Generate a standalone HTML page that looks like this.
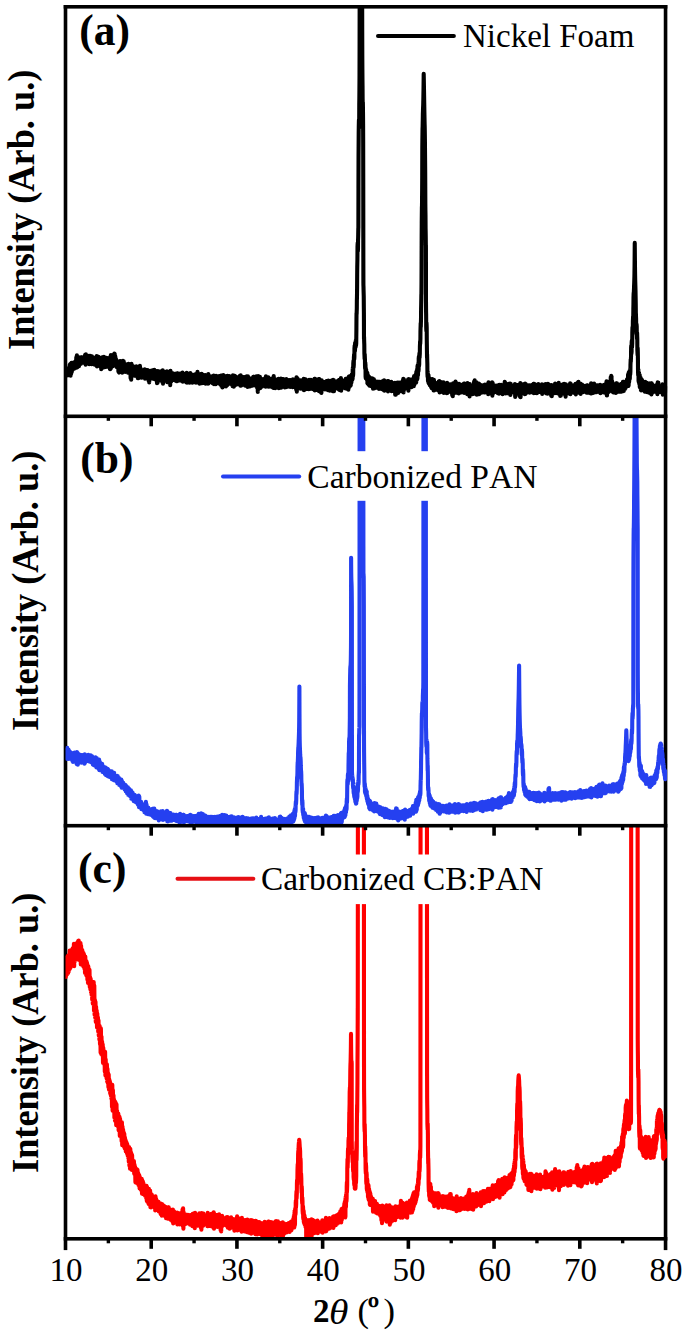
<!DOCTYPE html>
<html lang="en"><head><meta charset="utf-8"><title>XRD patterns</title>
<style>
html,body{margin:0;padding:0;background:#fff;}
body{width:685px;height:1334px;position:relative;overflow:hidden;font-family:"Liberation Serif",serif;color:#000;}
.t{position:absolute;white-space:nowrap;line-height:1;margin:0;padding:0;font-kerning:none;font-variant-ligatures:none;}
.tick{font-size:33px;transform:translateX(-50%);top:1253.5px;}
.leg{font-size:33px;}
.pl{font-size:43.5px;font-weight:bold;}
.yl{font-size:36.3px;font-weight:bold;transform-origin:0 0;transform:rotate(-90deg) scaleY(1.06);}
</style></head><body>
<svg width="685" height="1334" viewBox="0 0 685 1334" style="position:absolute;left:0;top:0;display:block">
<defs>
<clipPath id="ca"><rect x="65.5" y="6.8" width="601.8" height="409.5"/></clipPath>
<clipPath id="cb"><rect x="65.5" y="416.3" width="601.8" height="409.40000000000003"/></clipPath>
<clipPath id="cc"><rect x="65.5" y="825.7" width="601.8" height="413.0999999999999"/></clipPath>
</defs>
<rect width="685" height="1334" fill="#fff"/>
<g fill="#000">
<rect x="63.70" y="5.00" width="3.6" height="1245.10"/>
<rect x="663.75" y="5.00" width="3.6" height="1245.10"/>
</g>
<g clip-path="url(#ca)"><polyline fill="none" stroke-width="4.1" stroke-linejoin="round" stroke-linecap="butt" stroke="#000" points="65.50,370.9 65.80,375.5 66.10,370.5 66.40,375.5 66.70,369.5 67.00,375.5 67.30,369.4 67.60,374.0 67.90,368.4 68.20,373.8 68.50,368.0 68.80,373.4 69.10,367.7 69.40,373.4 69.70,364.9 70.00,375.4 70.30,364.1 70.60,375.6 70.90,363.6 71.20,373.7 71.50,362.9 71.80,371.9 72.10,364.1 72.40,370.2 72.70,364.7 73.00,368.5 73.30,363.4 73.60,368.7 73.90,362.3 74.20,368.7 74.50,362.1 74.80,367.0 75.10,361.8 75.40,367.2 75.70,361.0 76.00,366.5 76.30,357.3 76.60,367.6 76.90,355.3 77.20,367.3 77.50,359.5 77.80,364.8 78.10,358.5 78.40,366.4 78.70,357.4 79.00,366.2 79.30,358.0 79.60,364.2 79.90,357.5 80.20,364.1 80.50,358.1 80.80,363.8 81.10,357.4 81.40,362.9 81.70,357.2 82.00,363.0 82.30,357.6 82.60,362.2 82.90,357.2 83.20,362.4 83.50,357.5 83.80,362.6 84.10,356.9 84.40,362.9 84.70,355.8 85.00,363.0 85.30,354.6 85.60,364.7 85.90,354.3 86.20,362.6 86.50,356.3 86.80,362.1 87.10,357.4 87.40,362.1 87.70,356.7 88.00,362.0 88.30,356.9 88.60,361.8 88.90,355.8 89.20,364.1 89.50,356.2 89.80,363.1 90.10,355.7 90.40,364.0 90.70,357.4 91.00,362.3 91.30,357.4 91.60,364.2 91.90,356.4 92.20,363.7 92.50,357.2 92.80,363.1 93.10,358.3 93.40,364.1 93.70,358.7 94.00,363.2 94.30,358.6 94.60,364.6 94.90,357.5 95.20,364.3 95.50,358.8 95.80,364.2 96.10,358.7 96.40,365.0 96.70,356.1 97.00,366.5 97.30,358.3 97.60,363.7 97.90,359.1 98.20,366.0 98.50,356.8 98.80,364.8 99.10,359.5 99.40,364.6 99.70,358.7 100.00,364.7 100.30,359.1 100.60,364.7 100.90,358.4 101.20,369.3 101.50,358.6 101.80,368.4 102.10,357.2 102.40,367.1 102.70,357.7 103.00,365.4 103.30,360.1 103.60,366.7 103.90,356.9 104.20,367.3 104.50,357.8 104.80,367.2 105.10,360.1 105.40,365.8 105.50,358.5 105.58,358.5 105.66,358.5 105.70,358.5 105.74,358.5 105.82,366.9 105.90,366.9 105.98,367.0 106.00,367.0 106.06,357.7 106.14,357.7 106.22,357.7 106.30,357.7 106.38,366.2 106.46,366.2 106.54,366.2 106.60,366.2 106.62,366.2 106.70,359.5 106.78,359.5 106.86,359.5 106.90,359.5 106.94,359.5 107.02,366.5 107.10,366.5 107.18,366.5 107.20,366.5 107.26,359.1 107.34,359.1 107.42,359.1 107.50,359.1 107.58,366.7 107.66,366.7 107.74,366.7 107.80,366.7 107.82,366.7 107.90,358.4 107.98,358.4 108.06,358.4 108.10,358.4 108.14,358.4 108.22,365.3 108.30,365.3 108.38,365.3 108.40,365.3 108.46,359.6 108.54,359.6 108.62,359.6 108.70,359.6 108.78,365.7 108.86,365.7 108.94,365.7 109.00,365.7 109.02,365.7 109.10,360.5 109.18,360.5 109.26,360.5 109.30,360.5 109.34,360.5 109.42,365.8 109.50,365.8 109.58,365.8 109.60,365.8 109.66,358.4 109.74,358.4 109.82,358.4 109.90,358.4 109.98,369.1 110.06,369.2 110.14,369.2 110.20,369.2 110.22,369.2 110.30,356.8 110.38,356.8 110.46,356.8 110.50,356.8 110.54,356.8 110.62,368.5 110.70,368.5 110.78,368.5 110.80,368.5 110.86,355.1 110.94,355.1 111.02,355.1 111.10,355.1 111.18,366.6 111.26,366.6 111.34,366.6 111.40,366.6 111.42,366.6 111.50,355.7 111.58,355.7 111.66,355.7 111.70,355.7 111.74,355.7 111.82,366.8 111.90,366.8 111.98,366.8 112.00,366.8 112.06,359.6 112.14,359.5 112.22,359.5 112.30,359.4 112.38,365.3 112.46,365.2 112.54,365.1 112.60,365.0 112.62,364.9 112.70,359.9 112.78,359.8 112.86,359.6 112.90,359.5 112.94,359.4 113.02,366.1 113.10,365.9 113.18,365.7 113.20,365.6 113.26,356.4 113.34,356.2 113.42,356.0 113.50,355.7 113.58,363.9 113.66,363.7 113.74,363.4 113.80,363.2 113.82,363.2 113.90,354.6 113.98,354.4 114.06,354.1 114.10,354.0 114.14,353.9 114.22,361.3 114.30,361.1 114.38,360.9 114.40,360.8 114.46,353.7 114.50,353.6 114.54,353.7 114.62,353.9 114.70,354.1 114.78,362.7 114.86,362.9 114.94,363.2 115.00,363.4 115.02,363.5 115.10,355.9 115.18,356.2 115.26,356.5 115.30,356.6 115.34,356.8 115.42,364.3 115.50,364.6 115.58,364.8 115.60,364.9 115.66,358.4 115.74,358.7 115.82,358.9 115.90,359.2 115.98,365.3 116.06,365.6 116.14,365.8 116.20,365.9 116.22,366.0 116.30,359.9 116.38,360.1 116.46,360.2 116.50,360.3 116.54,360.4 116.62,367.1 116.70,367.2 116.78,367.3 116.80,367.3 116.86,361.5 116.94,361.6 117.02,361.7 117.10,361.7 117.18,366.4 117.26,366.5 117.34,366.5 117.40,366.5 117.42,366.5 117.50,362.4 117.58,362.4 117.66,362.5 117.70,362.5 117.74,362.5 117.82,367.2 117.90,367.3 117.98,367.3 118.00,367.3 118.06,361.9 118.14,361.9 118.22,361.9 118.30,362.0 118.38,371.6 118.46,371.6 118.54,371.6 118.60,371.6 118.62,371.6 118.70,361.7 118.78,361.7 118.86,361.7 118.90,361.7 118.94,361.8 119.02,372.5 119.10,372.5 119.18,372.5 119.20,372.6 119.26,361.3 119.34,361.3 119.42,361.4 119.50,361.4 119.58,369.9 119.66,369.9 119.74,370.0 119.80,370.0 119.82,370.0 119.90,361.1 119.98,361.1 120.06,361.1 120.10,361.1 120.14,361.2 120.22,369.2 120.30,369.3 120.38,369.3 120.40,369.3 120.46,362.8 120.54,362.8 120.62,362.9 120.70,362.9 120.78,368.0 120.86,368.1 120.94,368.1 121.00,368.1 121.02,368.1 121.10,363.7 121.18,363.7 121.26,363.7 121.30,363.8 121.34,363.8 121.42,371.6 121.50,371.6 121.58,371.6 121.60,371.6 121.66,363.0 121.74,363.0 121.82,363.0 121.90,363.1 121.98,372.6 122.06,372.6 122.14,372.7 122.20,372.7 122.22,372.7 122.30,363.8 122.38,363.9 122.46,363.9 122.50,363.9 122.54,363.9 122.62,369.1 122.70,369.2 122.78,369.2 122.80,369.2 122.86,360.8 122.94,360.8 123.02,360.8 123.10,360.9 123.18,369.3 123.26,369.4 123.34,369.4 123.40,369.4 123.42,369.4 123.70,361.3 124.00,369.7 124.30,363.7 124.60,371.6 124.90,363.8 125.20,371.9 125.50,364.1 125.80,371.1 126.10,365.7 126.40,371.0 126.70,364.5 127.00,371.5 127.30,365.3 127.60,371.0 127.90,365.3 128.20,372.8 128.50,363.9 128.80,372.3 129.10,366.0 129.40,371.6 129.70,365.7 130.00,373.1 130.30,364.9 130.60,378.1 130.90,364.0 131.20,379.6 131.50,363.7 131.80,375.0 132.10,366.6 132.40,373.1 132.70,365.8 133.00,374.4 133.30,366.8 133.60,373.4 133.90,367.1 134.20,375.6 134.50,368.5 134.80,373.3 135.10,368.4 135.40,374.0 135.70,367.5 136.00,376.0 136.30,366.4 136.60,374.9 136.90,368.5 137.20,375.4 137.50,366.7 137.80,378.1 138.10,367.8 138.40,378.3 138.70,368.0 139.00,376.1 139.30,368.1 139.60,377.7 139.90,365.8 140.20,377.2 140.50,368.4 140.80,376.1 141.10,369.2 141.40,377.8 141.70,370.1 142.00,375.7 142.30,371.1 142.60,375.6 142.90,370.8 143.20,375.6 143.50,370.5 143.80,375.5 144.10,370.4 144.40,377.1 144.70,369.3 145.00,378.8 145.30,369.8 145.60,376.8 145.90,369.8 146.20,376.8 146.50,370.6 146.80,377.6 147.10,370.9 147.40,378.2 147.70,370.0 148.00,377.5 148.30,371.8 148.60,380.6 148.90,371.5 149.20,382.4 149.50,371.0 149.80,377.1 150.10,372.2 150.40,378.3 150.70,370.9 151.00,377.8 151.30,371.8 151.60,378.3 151.90,371.5 152.20,378.3 152.50,370.2 152.80,378.8 153.10,371.2 153.40,378.4 153.70,372.1 154.00,378.9 154.30,369.8 154.60,379.2 154.90,372.1 155.20,379.2 155.50,371.5 155.80,379.8 156.10,371.1 156.40,377.8 156.70,372.6 157.00,383.1 157.30,371.6 157.60,382.7 157.90,371.0 158.20,378.8 158.50,372.4 158.80,378.3 159.10,372.2 159.40,378.8 159.70,373.1 160.00,378.4 160.30,371.6 160.60,380.5 160.90,371.8 161.20,379.6 161.50,371.4 161.80,380.3 162.10,372.2 162.40,382.2 162.70,370.2 163.00,383.7 163.30,371.5 163.60,379.9 163.90,372.2 164.20,380.0 164.50,371.7 164.80,379.8 165.10,372.2 165.40,380.1 165.70,372.9 166.00,378.5 166.30,371.8 166.60,381.2 166.90,371.2 167.20,382.1 167.50,372.8 167.80,378.6 168.10,372.5 168.40,381.0 168.70,374.0 169.00,379.1 169.30,371.7 169.60,382.6 169.90,372.8 170.20,385.3 170.50,370.7 170.80,380.3 171.10,373.7 171.40,381.1 171.70,372.8 172.00,378.8 172.30,373.4 172.60,379.7 172.90,374.3 173.20,380.0 173.50,373.6 173.80,379.2 174.10,374.2 174.40,379.7 174.70,374.1 175.00,379.4 175.30,373.8 175.60,380.6 175.90,374.1 176.20,379.4 176.50,373.5 176.80,381.3 177.10,373.2 177.40,381.0 177.70,373.2 178.00,379.8 178.30,374.1 178.60,379.5 178.90,375.2 179.20,379.9 179.50,373.8 179.80,380.4 180.10,373.8 180.40,379.5 180.70,373.6 181.00,380.7 181.30,374.4 181.60,379.8 181.90,374.8 182.20,381.0 182.50,372.5 182.80,381.6 183.10,373.4 183.40,380.0 183.70,374.0 184.00,379.8 184.30,374.6 184.60,380.7 184.90,374.5 185.20,380.3 185.50,374.5 185.80,381.3 186.10,374.0 186.40,382.4 186.70,372.7 187.00,382.6 187.30,374.3 187.60,381.8 187.90,375.6 188.20,380.1 188.50,375.3 188.80,380.8 189.10,374.3 189.40,382.6 189.70,373.5 190.00,382.3 190.30,373.0 190.60,382.5 190.90,374.0 191.20,382.4 191.50,375.6 191.80,381.0 192.10,374.5 192.40,382.6 192.70,375.3 193.00,380.7 193.30,375.2 193.60,382.1 193.90,375.7 194.20,381.0 194.50,374.7 194.80,382.2 195.10,374.3 195.40,382.5 195.70,375.0 196.00,382.6 196.30,374.8 196.60,381.7 196.90,376.2 197.20,382.5 197.50,371.9 197.80,381.1 198.10,373.9 198.40,381.9 198.70,375.5 199.00,381.9 199.30,374.1 199.60,383.6 199.90,374.5 200.20,381.0 200.50,376.1 200.80,382.9 201.10,375.9 201.40,381.8 201.70,373.7 202.00,383.2 202.30,376.1 202.60,382.4 202.90,374.9 203.20,381.5 203.50,376.2 203.80,382.9 204.10,375.2 204.40,382.9 204.70,376.0 205.00,382.1 205.30,375.0 205.60,383.7 205.90,376.3 206.20,382.6 206.50,375.8 206.80,382.8 207.10,377.2 207.40,381.3 207.70,376.6 208.00,383.7 208.30,374.1 208.60,383.4 208.90,375.3 209.20,382.2 209.50,376.3 209.80,382.1 210.10,377.0 210.40,381.8 210.70,377.0 211.00,382.0 211.30,376.6 211.60,381.7 211.90,377.4 212.20,382.7 212.50,376.4 212.80,383.3 213.10,377.2 213.40,382.7 213.70,375.5 214.00,384.1 214.30,376.0 214.60,382.6 214.90,377.8 215.20,382.2 215.50,376.6 215.80,384.1 216.10,375.7 216.40,383.5 216.70,376.2 217.00,382.3 217.30,377.2 217.60,382.2 217.90,377.0 218.20,382.3 218.50,377.2 218.80,382.9 219.10,376.1 219.40,382.8 219.70,377.2 220.00,384.2 220.30,375.9 220.60,382.6 220.90,375.9 221.20,385.7 221.50,375.6 221.80,382.8 222.10,377.3 222.40,387.4 222.70,377.4 223.00,386.8 223.30,375.1 223.60,384.3 223.90,376.9 224.20,382.1 224.50,377.2 224.80,383.5 225.10,376.4 225.40,385.0 225.70,376.4 226.00,386.4 226.30,376.8 226.60,382.7 226.90,377.1 227.20,385.2 227.50,375.8 227.80,384.1 228.10,377.3 228.40,383.5 228.70,377.2 229.00,383.8 229.30,376.0 229.60,383.3 229.90,378.5 230.20,382.6 230.50,377.2 230.80,383.9 231.10,377.6 231.40,383.4 231.70,376.7 232.00,384.8 232.30,376.4 232.60,386.1 232.90,375.3 233.20,386.2 233.50,375.9 233.80,386.8 234.10,376.4 234.40,385.7 234.70,375.8 235.00,385.2 235.30,376.4 235.60,383.3 235.90,378.0 236.20,384.7 236.50,377.1 236.80,384.3 237.10,378.8 237.40,383.8 237.70,378.4 238.00,383.6 238.30,378.2 238.60,384.3 238.90,378.6 239.20,383.6 239.50,376.3 239.80,384.6 240.10,375.5 240.40,385.8 240.70,375.4 241.00,385.6 241.30,377.8 241.60,385.2 241.90,377.4 242.20,384.5 242.50,378.4 242.80,384.8 243.10,377.1 243.40,384.8 243.70,378.5 244.00,383.4 244.30,379.0 244.60,384.7 244.90,377.1 245.20,385.8 245.50,377.2 245.80,385.3 246.10,378.2 246.40,385.0 246.70,376.4 247.00,385.9 247.30,377.0 247.60,387.0 247.90,376.2 248.20,384.8 248.50,377.4 248.80,385.4 249.10,378.3 249.40,384.9 249.70,378.6 250.00,386.5 250.30,378.6 250.60,384.7 250.90,379.0 251.20,385.3 251.50,378.8 251.80,384.1 252.10,379.8 252.40,385.7 252.70,377.8 253.00,383.9 253.30,376.9 253.60,384.9 253.90,376.8 254.20,383.9 254.50,379.3 254.80,384.2 255.10,378.0 255.40,385.1 255.70,379.3 256.00,385.9 256.30,376.4 256.60,387.0 256.90,379.1 257.20,386.7 257.50,377.2 257.80,391.9 258.10,376.0 258.40,388.5 258.70,377.6 259.00,387.8 259.30,378.7 259.60,385.9 259.90,376.8 260.20,388.1 260.50,378.3 260.80,384.7 261.10,378.9 261.40,384.9 261.70,380.3 262.00,386.7 262.30,379.7 262.60,384.4 262.90,379.2 263.20,385.4 263.50,379.7 263.80,384.7 264.10,379.0 264.40,385.8 264.70,379.9 265.00,385.5 265.30,378.0 265.60,386.7 265.90,376.2 266.20,385.9 266.50,378.6 266.80,385.2 267.10,380.5 267.40,385.7 267.70,380.2 268.00,385.6 268.30,377.4 268.60,386.8 268.90,379.8 269.20,385.4 269.50,379.4 269.80,386.2 270.10,380.0 270.40,386.1 270.70,378.8 271.00,386.7 271.30,380.0 271.60,386.4 271.90,379.0 272.20,386.1 272.50,378.8 272.80,387.4 273.10,377.7 273.40,388.0 273.70,376.1 274.00,386.5 274.30,379.6 274.60,385.7 274.90,379.7 275.20,388.1 275.50,379.7 275.80,387.6 276.10,379.6 276.40,387.0 276.70,380.0 277.00,386.1 277.30,380.8 277.60,385.6 277.90,380.2 278.20,386.5 278.50,378.9 278.80,388.2 279.10,379.0 279.40,386.2 279.70,379.5 280.00,386.4 280.30,379.9 280.60,387.2 280.90,378.5 281.20,387.7 281.50,379.2 281.80,386.5 282.10,379.4 282.40,385.5 282.70,380.7 283.00,386.5 283.30,379.1 283.60,386.1 283.90,380.8 284.20,386.2 284.50,379.8 284.80,387.4 285.10,379.6 285.40,386.8 285.70,380.3 286.00,387.1 286.30,379.0 286.60,386.8 286.90,380.6 287.20,386.1 287.50,380.6 287.80,386.7 288.10,380.1 288.40,386.1 288.70,380.9 289.00,386.2 289.30,380.0 289.60,385.9 289.90,380.7 290.20,387.0 290.50,380.1 290.80,385.8 291.10,381.1 291.40,386.6 291.70,380.8 292.00,386.7 292.30,380.9 292.60,387.1 292.90,379.4 293.20,386.6 293.50,380.5 293.80,387.0 294.10,381.5 294.40,386.7 294.70,380.7 295.00,385.8 295.30,381.5 295.60,386.1 295.90,379.6 296.20,389.7 296.50,377.3 296.80,391.7 297.10,378.0 297.40,388.5 297.70,378.7 298.00,387.2 298.30,380.0 298.60,386.4 298.90,381.5 299.20,387.4 299.50,380.9 299.80,387.0 300.10,380.7 300.40,388.6 300.70,380.2 301.00,387.3 301.30,381.2 301.60,386.2 301.90,380.3 302.20,386.6 302.50,380.6 302.80,388.6 303.10,381.5 303.40,389.8 303.70,378.8 304.00,390.1 304.30,380.4 304.60,387.7 304.90,379.7 305.20,389.2 305.50,379.3 305.80,389.3 306.10,380.0 306.40,387.2 306.70,381.8 307.00,387.6 307.30,381.8 307.60,386.4 307.90,381.5 308.20,388.1 308.50,381.5 308.80,389.1 309.10,379.7 309.40,387.8 309.70,381.3 310.00,389.0 310.30,380.0 310.60,388.5 310.90,379.7 311.20,387.7 311.50,382.2 311.80,387.6 312.10,380.4 312.40,388.9 312.70,381.8 313.00,387.2 313.30,380.7 313.60,388.7 313.90,380.1 314.20,389.7 314.50,378.7 314.80,390.5 315.10,378.7 315.40,390.3 315.70,379.6 316.00,389.7 316.30,379.7 316.60,389.9 316.90,380.8 317.20,387.8 317.50,382.4 317.80,387.2 318.10,381.4 318.40,388.3 318.70,379.0 319.00,391.3 319.30,379.0 319.60,390.3 319.90,381.5 320.20,388.1 320.50,382.7 320.80,392.3 321.10,382.2 321.40,393.0 321.70,380.3 322.00,389.6 322.30,381.7 322.60,388.3 322.90,382.2 323.20,388.7 323.50,382.9 323.80,388.1 324.10,382.7 324.40,389.0 324.70,382.1 325.00,389.5 325.30,382.3 325.60,388.9 325.90,382.2 326.20,389.2 326.50,381.0 326.80,389.0 327.10,383.0 327.40,389.6 327.70,382.0 328.00,390.1 328.30,380.6 328.60,390.2 328.90,381.4 329.20,387.8 329.50,381.3 329.80,390.7 330.10,381.2 330.40,387.7 330.70,381.6 331.00,389.9 331.30,381.1 331.60,388.8 331.90,380.3 332.20,390.4 332.50,380.0 332.80,391.2 333.10,379.7 333.40,391.3 333.70,380.0 334.00,391.1 334.30,381.3 334.60,388.0 334.90,381.8 335.20,388.8 335.50,381.5 335.80,387.9 336.10,381.8 336.40,387.3 336.70,382.8 337.00,387.8 337.30,382.2 337.60,387.1 337.90,380.7 338.20,388.1 338.50,380.7 338.80,389.4 339.10,379.9 339.40,390.0 339.70,380.1 340.00,388.2 340.30,380.9 340.60,389.6 340.90,378.1 341.20,390.8 341.50,379.8 341.80,387.8 342.10,381.7 342.40,387.5 342.70,380.9 343.00,387.7 343.30,381.5 343.60,387.1 343.90,380.6 344.20,387.5 344.50,380.9 344.80,386.1 345.10,380.1 345.40,388.4 345.70,378.9 346.00,388.5 346.30,378.8 346.60,386.1 346.90,380.4 347.20,387.4 347.50,380.5 347.80,389.3 348.10,379.7 348.40,389.6 348.70,376.8 349.00,387.5 349.30,376.3 349.60,386.3 349.90,377.1 350.20,386.0 350.50,376.6 350.80,385.3 351.10,376.6 351.40,382.6 351.70,374.6 351.90,380.3 351.98,380.0 352.00,379.9 352.06,375.0 352.14,374.7 352.22,374.4 352.30,374.0 352.38,379.6 352.46,379.2 352.54,378.8 352.60,378.5 352.62,378.3 352.70,369.2 352.78,368.7 352.86,368.0 352.90,367.6 352.94,367.2 353.02,376.0 353.10,375.1 353.18,374.1 353.20,373.9 353.26,363.7 353.34,362.7 353.42,361.6 353.50,360.6 353.58,367.6 353.66,366.6 353.74,365.6 353.80,364.8 353.82,364.5 353.90,357.5 353.98,356.4 354.06,355.3 354.10,354.7 354.14,354.2 354.22,359.4 354.30,358.3 354.38,357.1 354.40,356.9 354.46,348.4 354.54,347.4 354.62,346.4 354.70,345.5 354.78,351.6 354.86,350.9 354.94,350.4 355.00,350.0 355.02,349.9 355.10,343.5 355.18,343.2 355.26,342.9 355.30,342.8 355.34,342.6 355.42,347.4 355.50,347.2 355.58,347.0 355.60,346.9 355.66,341.3 355.74,341.0 355.82,340.6 355.90,340.2 355.98,345.7 356.06,345.1 356.14,344.3 356.20,343.6 356.22,343.4 356.30,337.0 356.38,330.8 356.46,319.5 356.50,315.4 356.54,313.1 356.62,314.3 356.70,311.6 356.78,309.4 356.80,308.9 356.86,300.9 356.94,298.1 357.02,294.0 357.10,287.6 357.18,274.4 357.26,267.1 357.34,262.7 357.40,260.0 357.42,259.3 357.50,246.8 357.58,245.0 357.66,243.6 357.70,243.1 357.74,242.6 357.82,251.3 357.90,250.3 357.98,249.1 358.00,248.7 358.06,240.2 358.14,237.7 358.22,234.1 358.30,229.2 358.38,227.7 358.46,187.4 358.54,155.8 358.60,148.1 358.62,145.9 358.70,132.2 358.78,126.7 358.86,122.7 358.90,121.1 358.94,119.8 359.02,128.1 359.10,125.8 359.18,122.8 359.20,121.9 359.26,104.8 359.34,98.7 359.42,89.9 359.50,77.6 359.58,47.1 359.66,-5.7 359.74,-41.5 359.80,-53.2 359.82,-53.2 359.90,-53.2 359.98,-53.2 360.06,-53.2 360.10,-53.2 360.14,-53.2 360.22,-53.2 360.30,-53.2 360.38,-53.2 360.40,-53.2 360.46,-53.2 360.54,-53.2 360.62,-53.2 360.70,-53.2 360.78,-53.2 360.86,-53.2 360.90,-53.2 360.94,-53.2 361.00,-53.2 361.02,-53.2 361.10,-53.2 361.18,-53.2 361.26,-53.2 361.30,-53.2 361.34,-53.2 361.42,-53.2 361.50,-53.2 361.58,-53.2 361.60,-53.2 361.66,-53.2 361.74,-53.2 361.82,-53.2 361.90,-53.2 361.98,-53.2 362.06,-39.0 362.14,-8.1 362.20,19.6 362.22,30.4 362.30,56.1 362.38,69.6 362.46,79.2 362.50,82.8 362.54,85.9 362.62,98.5 362.70,102.3 362.78,106.0 362.80,106.9 362.86,102.2 362.94,107.5 363.02,114.7 363.10,124.2 363.18,142.6 363.26,186.8 363.34,257.8 363.40,282.4 363.42,285.0 363.50,286.9 363.58,290.9 363.66,293.6 363.70,294.9 363.74,296.4 363.82,306.5 363.90,313.4 363.98,336.1 364.00,339.1 364.06,336.7 364.14,340.4 364.22,342.9 364.30,344.7 364.38,353.5 364.46,355.0 364.54,356.8 364.60,358.4 364.62,358.9 364.70,354.0 364.78,355.9 364.86,357.6 364.90,358.5 364.94,359.2 365.02,366.3 365.10,367.5 365.18,368.6 365.20,368.8 365.26,362.4 365.34,363.4 365.42,364.3 365.50,365.1 365.58,376.5 365.66,377.2 365.74,377.9 365.80,378.3 365.82,378.4 365.90,368.4 365.98,368.9 366.06,369.3 366.10,369.5 366.14,369.7 366.22,376.8 366.30,377.1 366.38,377.5 366.40,377.5 366.46,373.2 366.54,373.5 366.62,373.8 366.70,374.0 366.78,379.1 366.86,379.4 366.94,379.6 367.00,379.8 367.02,379.8 367.10,372.5 367.18,372.7 367.26,372.9 367.30,373.0 367.34,373.1 367.42,383.2 367.50,383.4 367.58,383.6 367.60,383.6 367.66,374.8 367.74,374.9 367.82,375.0 367.90,375.2 367.98,383.8 368.06,383.9 368.14,384.1 368.20,384.2 368.22,384.2 368.30,376.9 368.38,377.0 368.46,377.1 368.50,377.2 368.54,377.2 368.62,383.2 368.70,383.3 368.78,383.4 368.80,383.4 368.86,376.6 368.94,376.7 369.02,376.8 369.10,376.9 369.18,385.4 369.26,385.4 369.34,385.5 369.40,385.6 369.42,385.6 369.50,377.7 369.58,377.8 369.66,377.8 369.70,377.9 369.74,377.9 369.82,385.5 370.00,385.6 370.30,379.3 370.60,385.2 370.90,380.3 371.20,386.1 371.50,378.3 371.80,386.0 372.10,380.9 372.40,385.6 372.70,378.6 373.00,388.7 373.30,379.4 373.60,386.2 373.90,379.2 374.20,388.4 374.50,381.0 374.80,386.4 375.10,381.9 375.40,387.5 375.70,381.5 376.00,386.8 376.30,382.2 376.60,387.0 376.90,381.6 377.20,387.8 377.50,382.4 377.80,387.7 378.10,382.5 378.40,388.0 378.70,381.7 379.00,388.9 379.30,381.8 379.60,387.6 379.90,382.5 380.20,387.6 380.50,383.2 380.80,388.1 381.10,382.3 381.40,388.8 381.70,381.6 382.00,389.2 382.30,382.6 382.60,388.7 382.90,383.3 383.20,389.2 383.50,380.9 383.80,390.1 384.10,380.3 384.40,390.8 384.70,380.7 385.00,389.1 385.30,383.2 385.60,388.7 385.90,384.0 386.20,388.4 386.50,383.1 386.80,388.3 387.10,384.0 387.40,390.2 387.70,381.1 388.00,391.5 388.30,381.1 388.60,389.9 388.90,383.9 389.20,389.2 389.50,381.8 389.80,389.8 390.10,383.2 390.40,389.5 390.70,384.5 391.00,389.3 391.30,381.7 391.60,391.1 391.90,383.2 392.20,389.7 392.50,383.1 392.80,389.7 393.10,383.6 393.40,389.7 393.70,383.4 394.00,389.4 394.30,384.6 394.60,390.6 394.90,382.8 395.20,394.8 395.50,383.0 395.80,394.6 396.10,383.8 396.40,389.9 396.70,384.0 397.00,393.4 397.30,382.6 397.60,392.5 397.90,382.8 398.20,393.0 398.50,383.6 398.80,391.9 399.10,382.5 399.40,389.9 399.70,383.1 400.00,388.4 400.30,383.0 400.60,388.7 400.90,383.1 401.20,389.3 401.50,382.4 401.80,391.2 402.10,382.1 402.40,388.6 402.70,380.9 403.00,392.0 403.30,378.8 403.60,392.4 403.90,379.4 404.20,389.4 404.50,383.0 404.80,387.9 405.10,382.7 405.40,388.3 405.70,382.4 406.00,387.7 406.30,382.8 406.60,387.8 406.90,382.0 407.20,387.3 407.50,381.5 407.80,387.6 408.10,379.4 408.40,390.6 408.70,379.1 409.00,387.9 409.30,381.3 409.60,386.2 409.90,379.7 410.20,386.3 410.50,379.9 410.80,385.7 411.10,379.9 411.40,387.2 411.70,379.6 412.00,386.0 412.30,379.5 412.60,385.0 412.90,379.4 413.20,384.6 413.50,378.0 413.80,386.3 414.10,376.1 414.40,384.7 414.70,377.1 414.78,383.3 414.86,383.2 414.94,383.1 415.00,383.0 415.02,383.0 415.10,376.9 415.18,376.7 415.26,376.6 415.30,376.5 415.34,376.4 415.42,383.0 415.50,382.8 415.58,382.6 415.60,382.6 415.66,374.8 415.74,374.6 415.82,374.5 415.90,374.3 415.98,382.7 416.06,382.5 416.14,382.2 416.20,382.1 416.22,382.0 416.30,372.4 416.38,372.2 416.46,371.9 416.50,371.7 416.54,371.6 416.62,380.1 416.70,379.8 416.78,379.5 416.80,379.4 416.86,370.3 416.94,370.0 417.02,369.6 417.10,369.3 417.18,379.3 417.26,378.9 417.34,378.6 417.40,378.3 417.42,378.2 417.50,366.4 417.58,366.0 417.66,365.6 417.70,365.4 417.74,365.2 417.82,375.7 417.90,375.3 417.98,374.8 418.00,374.7 418.06,364.8 418.14,364.3 418.22,363.8 418.30,363.2 418.38,371.5 418.46,370.9 418.54,370.3 418.60,369.8 418.62,369.7 418.70,358.4 418.78,357.7 418.86,357.0 418.90,356.6 418.94,356.2 419.02,366.0 419.10,365.1 419.18,364.3 419.20,364.0 419.26,356.1 419.34,355.1 419.42,354.0 419.50,353.0 419.58,357.5 419.66,356.2 419.74,354.8 419.80,353.8 419.82,353.4 419.90,346.3 419.98,344.6 420.06,342.8 420.10,341.9 420.14,341.0 420.22,344.0 420.30,341.8 420.38,339.5 420.40,339.0 420.46,331.0 420.54,328.5 420.62,325.8 420.70,323.1 420.78,327.0 420.86,324.3 420.94,321.5 421.00,319.2 421.02,318.4 421.10,308.9 421.18,305.0 421.26,300.4 421.30,297.8 421.34,294.9 421.42,293.8 421.50,283.2 421.58,263.7 421.60,258.1 421.66,235.9 421.74,222.6 421.82,213.7 421.90,206.7 421.98,206.2 422.06,199.1 422.14,189.8 422.20,180.1 422.22,175.2 422.30,147.0 422.38,139.9 422.46,133.7 422.50,130.9 422.54,128.4 422.62,126.9 422.70,122.8 422.78,119.2 422.80,118.4 422.86,114.1 422.94,111.7 423.02,109.4 423.10,107.1 423.18,105.5 423.26,102.4 423.34,99.0 423.40,95.9 423.42,94.8 423.50,89.7 423.58,83.8 423.66,77.2 423.70,73.8 423.74,75.8 423.82,79.9 423.90,84.3 423.98,88.8 424.00,90.0 424.06,93.2 424.14,97.9 424.22,102.8 424.30,107.2 424.38,112.2 424.46,116.1 424.54,120.0 424.60,123.0 424.62,124.0 424.70,126.3 424.78,130.9 424.86,136.2 424.90,139.2 424.94,142.3 425.02,152.1 425.10,160.4 425.18,169.7 425.20,172.2 425.26,186.1 425.34,203.4 425.42,211.1 425.50,215.8 425.58,228.3 425.66,232.0 425.74,237.2 425.80,242.7 425.82,244.9 425.90,245.6 425.98,300.5 426.06,310.5 426.10,312.7 426.14,314.6 426.22,327.4 426.30,329.3 426.38,330.7 426.40,331.0 426.46,322.6 426.54,323.8 426.62,325.5 426.70,327.8 426.78,340.1 426.86,345.4 426.94,351.6 427.00,356.2 427.02,357.7 427.10,354.3 427.18,358.4 427.26,361.3 427.30,362.5 427.34,363.6 427.42,373.2 427.50,375.0 427.58,376.5 427.60,376.8 427.66,371.5 427.74,372.7 427.82,373.6 427.90,374.4 427.98,380.5 428.06,381.0 428.14,381.4 428.20,381.6 428.22,381.7 428.30,374.9 428.38,375.2 428.46,375.5 428.50,375.6 428.54,375.7 428.62,382.9 428.70,383.1 428.78,383.3 428.80,383.4 428.86,378.3 428.94,378.5 429.02,378.7 429.10,378.8 429.18,383.5 429.26,383.6 429.34,383.7 429.40,383.8 429.42,383.8 429.50,378.4 429.58,378.5 429.66,378.7 429.70,378.7 429.74,378.8 429.82,385.1 429.90,385.2 429.98,385.3 430.00,385.4 430.06,380.4 430.14,380.5 430.22,380.6 430.30,380.7 430.38,385.7 430.46,385.8 430.54,385.8 430.60,385.9 430.62,385.9 430.70,379.8 430.78,379.9 430.86,380.0 430.90,380.0 430.94,380.0 431.02,387.1 431.10,387.1 431.18,387.2 431.20,387.2 431.26,379.3 431.34,379.4 431.42,379.4 431.50,379.5 431.58,388.0 431.66,388.1 431.74,388.1 431.80,388.2 431.82,388.2 431.90,379.0 431.98,379.0 432.06,379.1 432.10,379.1 432.14,379.1 432.22,387.8 432.30,387.9 432.38,387.9 432.40,387.9 432.46,380.9 432.54,380.9 432.62,381.0 432.70,381.0 433.00,387.8 433.30,380.0 433.60,390.4 433.90,379.8 434.20,390.4 434.50,382.1 434.80,388.9 435.10,382.7 435.40,388.2 435.70,383.7 436.00,388.1 436.30,383.6 436.60,389.3 436.90,383.0 437.20,389.7 437.50,383.3 437.80,390.2 438.10,383.2 438.40,389.8 438.70,381.6 439.00,390.4 439.30,381.0 439.60,392.4 439.90,381.5 440.20,392.0 440.50,382.8 440.80,391.7 441.10,382.1 441.40,391.8 441.70,383.2 442.00,390.2 442.30,385.2 442.60,390.4 442.90,384.4 443.20,392.4 443.50,382.2 443.80,392.9 444.10,383.4 444.40,391.7 444.70,385.1 445.00,390.2 445.30,385.0 445.60,392.0 445.90,385.0 446.20,390.0 446.50,384.5 446.80,393.2 447.10,382.7 447.40,393.0 447.70,384.7 448.00,391.1 448.30,384.2 448.60,391.0 448.90,385.3 449.20,390.9 449.50,384.6 449.80,390.4 450.10,385.5 450.40,391.9 450.70,384.2 451.00,390.5 451.30,386.2 451.60,390.4 451.90,386.1 452.20,395.2 452.50,386.4 452.80,396.1 453.10,383.4 453.40,393.6 453.70,384.6 454.00,391.9 454.30,384.6 454.60,392.0 454.90,385.5 455.20,391.7 455.50,381.5 455.80,392.8 456.10,383.0 456.40,391.3 456.70,383.8 457.00,391.1 457.30,385.2 457.60,393.0 457.90,383.7 458.20,390.7 458.50,385.2 458.80,393.5 459.10,383.8 459.40,392.7 459.70,384.9 460.00,391.3 460.30,386.0 460.60,390.9 460.90,385.3 461.20,392.4 461.50,384.8 461.80,391.9 462.10,386.1 462.40,390.7 462.70,385.2 463.00,391.6 463.30,385.1 463.60,392.4 463.90,383.5 464.20,392.9 464.50,383.6 464.80,391.9 465.10,384.9 465.40,391.5 465.70,386.0 466.00,391.8 466.30,384.3 466.60,392.9 466.90,385.8 467.20,394.2 467.50,383.0 467.80,392.3 468.10,385.8 468.40,392.3 468.70,385.7 469.00,393.6 469.30,384.0 469.60,396.5 469.90,384.0 470.20,391.5 470.50,385.3 470.80,392.1 471.10,385.6 471.40,391.9 471.70,386.2 472.00,393.2 472.30,385.8 472.60,394.2 472.90,385.6 473.20,391.4 473.50,386.2 473.80,391.8 474.10,381.6 474.40,392.3 474.70,380.2 475.00,392.8 475.30,385.7 475.60,391.9 475.90,384.3 476.20,394.5 476.50,382.2 476.80,394.7 477.10,384.2 477.40,391.5 477.70,385.6 478.00,391.2 478.30,385.7 478.60,393.3 478.90,383.5 479.20,394.3 479.50,384.3 479.80,393.1 480.10,384.6 480.40,391.9 480.70,385.2 481.00,391.5 481.30,385.4 481.60,392.6 481.90,385.6 482.20,391.4 482.50,386.2 482.80,391.2 483.10,386.0 483.40,391.1 483.70,385.1 484.00,392.5 484.30,384.8 484.60,390.7 484.90,384.6 485.20,392.4 485.50,386.1 485.80,391.3 486.10,386.1 486.40,392.2 486.70,385.2 487.00,391.6 487.30,386.4 487.60,392.1 487.90,383.9 488.20,394.1 488.50,382.3 488.80,393.7 489.10,386.0 489.40,391.6 489.70,384.4 490.00,393.4 490.30,384.2 490.60,393.2 490.90,386.8 491.20,391.7 491.50,386.1 491.80,394.2 492.10,382.2 492.40,395.8 492.70,383.1 493.00,393.4 493.30,386.3 493.60,391.4 493.90,385.5 494.20,392.1 494.50,385.9 494.80,392.2 495.10,385.9 495.40,391.6 495.70,385.7 496.00,391.6 496.30,385.8 496.60,391.4 496.90,386.1 497.20,391.7 497.50,385.6 497.80,393.1 498.10,385.8 498.40,393.2 498.70,385.3 499.00,393.7 499.30,384.8 499.60,392.6 499.90,385.8 500.20,392.0 500.50,385.4 500.80,392.1 501.10,384.8 501.40,393.0 501.70,385.6 502.00,392.0 502.30,385.9 502.60,394.2 502.90,385.2 503.20,392.0 503.50,386.6 503.80,391.2 504.10,385.9 504.40,391.5 504.70,381.8 505.00,391.1 505.30,382.7 505.60,393.5 505.90,383.6 506.20,392.6 506.50,386.2 506.80,393.1 507.10,385.3 507.40,391.5 507.70,384.9 508.00,392.4 508.30,385.5 508.60,392.9 508.90,383.9 509.20,393.6 509.50,384.7 509.80,392.0 510.10,383.5 510.40,394.9 510.70,383.8 511.00,392.4 511.30,385.7 511.60,391.0 511.90,386.2 512.20,391.4 512.50,385.5 512.80,392.2 513.10,386.3 513.40,391.3 513.70,385.9 514.00,392.5 514.30,385.4 514.60,392.7 514.90,384.0 515.20,396.9 515.50,384.8 515.80,395.6 516.10,386.8 516.40,392.5 516.70,385.0 517.00,393.0 517.30,385.1 517.60,391.7 517.90,386.1 518.20,391.8 518.50,385.3 518.80,393.0 519.10,385.2 519.40,392.7 519.70,385.4 520.00,396.6 520.30,383.0 520.60,397.2 520.90,383.6 521.20,393.2 521.50,386.4 521.80,392.3 522.10,385.9 522.40,391.4 522.70,386.0 523.00,390.8 523.30,386.0 523.60,392.9 523.90,384.7 524.20,393.4 524.50,383.7 524.80,394.1 525.10,383.6 525.40,393.9 525.70,384.0 526.00,393.1 526.30,384.8 526.60,392.1 526.90,385.5 527.20,392.4 527.50,385.2 527.80,391.9 528.10,386.4 528.40,392.0 528.70,386.1 529.00,391.9 529.30,385.4 529.60,392.7 529.90,385.5 530.20,391.8 530.50,386.6 530.80,392.3 531.10,385.3 531.40,391.1 531.70,386.4 532.00,391.7 532.30,384.8 532.60,391.3 532.90,384.9 533.20,392.5 533.50,383.9 533.80,393.2 534.10,383.9 534.40,391.9 534.70,386.3 535.00,391.8 535.30,385.9 535.60,391.8 535.90,384.8 536.20,391.0 536.50,386.4 536.80,393.1 537.10,385.3 537.40,392.0 537.70,385.3 538.00,391.9 538.30,384.1 538.60,392.1 538.90,386.1 539.20,391.6 539.50,386.6 539.80,391.8 540.10,385.8 540.40,391.5 540.70,386.3 541.00,391.9 541.30,385.5 541.60,392.7 541.90,384.2 542.20,394.0 542.50,384.7 542.80,391.4 543.10,385.9 543.40,392.6 543.70,386.2 544.00,392.0 544.30,386.1 544.60,391.4 544.90,384.3 545.20,391.0 545.50,384.0 545.80,391.0 546.10,385.9 546.40,393.4 546.70,385.0 547.00,392.8 547.30,384.6 547.60,393.7 547.90,383.9 548.20,393.3 548.50,384.4 548.80,393.2 549.10,384.8 549.40,392.8 549.70,385.2 550.00,392.0 550.30,385.6 550.60,390.8 550.90,385.9 551.20,395.6 551.50,385.1 551.80,396.1 552.10,386.3 552.40,391.5 552.70,386.8 553.00,391.0 553.30,386.7 553.60,391.8 553.90,386.1 554.20,391.8 554.50,385.1 554.80,393.2 555.10,383.5 555.40,392.3 555.70,386.0 556.00,392.6 556.30,386.2 556.60,392.2 556.90,385.3 557.20,391.3 557.50,385.3 557.80,393.4 558.10,383.7 558.40,391.5 558.70,382.9 559.00,392.8 559.30,385.2 559.60,392.1 559.90,385.9 560.20,396.0 560.50,386.6 560.80,395.6 561.10,385.7 561.40,391.6 561.70,386.6 562.00,392.7 562.30,384.5 562.60,392.5 562.90,385.3 563.20,391.6 563.50,385.9 563.80,393.1 564.10,383.7 564.40,393.6 564.70,385.6 565.00,394.9 565.30,384.2 565.60,396.6 565.90,384.2 566.20,392.4 566.50,385.6 566.80,392.6 567.10,385.3 567.40,392.7 567.70,386.0 568.00,391.7 568.30,385.3 568.60,393.4 568.90,385.2 569.20,391.4 569.50,386.6 569.80,391.7 570.10,383.4 570.40,394.1 570.70,383.9 571.00,392.2 571.30,385.9 571.60,390.9 571.90,385.9 572.20,392.1 572.50,385.9 572.80,391.9 573.10,386.1 573.40,392.2 573.70,386.0 574.00,392.8 574.30,385.0 574.60,391.8 574.90,385.5 575.20,393.3 575.50,383.9 575.80,394.4 576.10,384.2 576.40,393.1 576.70,386.0 577.00,391.3 577.30,385.0 577.60,392.3 577.90,382.2 578.20,391.4 578.50,381.9 578.80,391.9 579.10,385.8 579.40,392.3 579.70,386.3 580.00,393.3 580.30,383.5 580.60,393.9 580.90,385.0 581.20,390.8 581.50,385.6 581.80,392.1 582.10,384.6 582.40,391.7 582.70,386.1 583.00,392.1 583.30,385.5 583.60,391.6 583.90,386.0 584.20,391.6 584.50,386.4 584.80,391.0 585.10,386.6 585.40,391.0 585.70,386.0 586.00,391.7 586.30,385.5 586.60,392.7 586.90,385.2 587.20,392.4 587.50,385.4 587.80,392.5 588.10,385.8 588.40,392.8 588.70,386.3 589.00,391.7 589.30,386.1 589.60,392.6 589.90,385.6 590.20,392.2 590.50,385.3 590.80,393.5 591.10,383.4 591.40,393.5 591.70,385.7 592.00,390.9 592.30,386.7 592.60,391.6 592.90,384.7 593.20,392.9 593.50,385.7 593.80,391.6 594.10,383.5 594.40,392.2 594.70,384.9 595.00,391.8 595.30,385.7 595.60,391.5 595.90,385.5 596.20,392.3 596.50,385.9 596.80,391.3 597.10,385.4 597.40,391.4 597.70,386.5 598.00,391.3 598.30,385.8 598.60,391.2 598.90,385.4 599.20,391.4 599.50,386.4 599.80,392.4 600.10,384.7 600.40,393.2 600.70,385.5 601.00,392.5 601.30,385.3 601.60,392.0 601.90,385.5 602.00,391.5 602.08,391.5 602.16,391.5 602.20,391.5 602.24,391.5 602.32,385.9 602.40,385.9 602.48,385.9 602.50,385.9 602.56,391.4 602.64,391.4 602.72,391.4 602.80,391.4 602.88,385.9 602.96,385.9 603.04,385.9 603.10,385.9 603.12,385.9 603.20,391.9 603.28,391.9 603.36,391.9 603.40,391.9 603.44,391.9 603.52,386.7 603.60,386.7 603.68,386.7 603.70,386.7 603.76,392.5 603.84,392.5 603.92,392.5 604.00,392.5 604.08,384.7 604.16,384.7 604.24,384.7 604.30,384.7 604.32,384.7 604.40,392.5 604.48,392.5 604.56,392.5 604.60,392.5 604.64,392.5 604.72,386.0 604.80,386.0 604.88,386.0 604.90,386.0 604.96,391.4 605.04,391.4 605.12,391.4 605.20,391.4 605.28,386.1 605.36,386.1 605.44,386.1 605.50,386.1 605.52,386.1 605.60,392.1 605.68,392.1 605.76,392.1 605.80,392.1 605.84,392.1 605.92,385.2 606.00,385.2 606.08,385.2 606.10,385.2 606.16,393.6 606.24,393.6 606.32,393.6 606.40,393.6 606.48,381.4 606.56,381.4 606.64,381.4 606.70,381.4 606.72,381.4 606.80,395.5 606.88,395.5 606.96,395.5 607.00,395.5 607.04,395.5 607.12,383.0 607.20,383.0 607.28,383.0 607.30,383.0 607.36,391.9 607.44,391.9 607.52,391.9 607.60,391.9 607.68,385.4 607.76,385.4 607.84,385.4 607.90,385.4 607.92,385.4 608.00,392.2 608.08,392.2 608.16,392.2 608.20,392.2 608.24,392.2 608.32,385.8 608.40,385.8 608.48,385.8 608.50,385.8 608.56,391.5 608.64,391.5 608.72,391.5 608.80,391.5 608.88,385.3 608.96,385.3 609.04,385.3 609.10,385.2 609.12,385.2 609.20,391.6 609.28,391.4 609.36,391.3 609.40,391.2 609.44,391.1 609.52,385.1 609.60,384.9 609.68,384.6 609.70,384.5 609.76,390.5 609.84,390.1 609.92,389.7 610.00,389.3 610.08,382.1 610.16,381.7 610.24,381.3 610.30,380.9 610.32,380.8 610.40,387.0 610.48,386.5 610.56,386.1 610.60,385.8 610.64,385.6 610.72,377.6 610.80,377.2 610.88,376.9 610.90,376.8 610.96,385.9 611.00,385.8 611.04,385.9 611.12,386.1 611.20,386.5 611.28,375.8 611.36,376.2 611.44,376.7 611.50,377.0 611.52,377.1 611.60,388.7 611.68,389.1 611.76,389.6 611.80,389.8 611.84,390.0 611.92,380.7 612.00,381.1 612.08,381.5 612.10,381.6 612.16,389.6 612.24,389.9 612.32,390.3 612.40,390.5 612.48,384.6 612.56,384.9 612.64,385.0 612.70,385.2 612.72,385.2 612.80,391.9 612.88,392.0 612.96,392.1 613.00,392.1 613.04,392.1 613.12,384.1 613.20,384.1 613.28,384.1 613.30,384.1 613.36,392.4 613.44,392.4 613.52,392.4 613.60,392.4 613.68,385.6 613.76,385.5 613.84,385.5 613.90,385.5 613.92,385.5 614.00,391.3 614.08,391.3 614.16,391.3 614.20,391.3 614.24,391.3 614.32,385.0 614.40,385.0 614.48,385.0 614.50,385.0 614.56,391.9 614.64,391.9 614.72,391.9 614.80,391.9 614.88,385.2 614.96,385.2 615.04,385.2 615.10,385.2 615.12,385.2 615.20,391.4 615.28,391.4 615.36,391.4 615.40,391.4 615.44,391.4 615.52,384.1 615.60,384.1 615.68,384.1 615.70,384.1 615.76,392.9 615.84,392.9 615.92,392.9 616.00,392.8 616.08,383.2 616.16,383.2 616.24,383.2 616.30,383.2 616.32,383.2 616.40,392.2 616.48,392.2 616.56,392.2 616.60,392.2 616.64,392.2 616.72,383.5 616.80,383.5 616.88,383.4 616.90,383.4 616.96,392.0 617.04,392.0 617.12,391.9 617.20,391.9 617.28,384.8 617.36,384.8 617.44,384.8 617.50,384.8 617.52,384.8 617.60,391.4 617.68,391.4 617.76,391.4 617.80,391.4 617.84,391.4 617.92,385.1 618.00,385.1 618.08,385.1 618.10,385.1 618.16,391.7 618.24,391.7 618.32,391.6 618.40,391.6 618.48,385.2 618.56,385.2 618.64,385.2 618.70,385.1 618.72,385.1 618.80,391.6 618.88,391.5 618.96,391.5 619.00,391.5 619.04,391.5 619.12,384.8 619.20,384.8 619.28,384.7 619.30,384.7 619.36,390.8 619.44,390.8 619.52,390.7 619.60,390.7 619.68,384.5 619.76,384.5 619.84,384.5 619.90,384.5 619.92,384.5 620.20,391.8 620.50,384.3 620.80,389.5 621.10,384.9 621.40,391.6 621.70,383.6 622.00,390.5 622.30,383.8 622.60,390.4 622.90,381.9 623.20,391.3 623.50,381.8 623.80,391.0 624.10,382.1 624.40,389.2 624.70,382.5 625.00,389.0 625.30,382.5 625.60,388.0 625.75,382.5 625.83,382.4 625.90,382.4 625.91,382.3 625.99,386.7 626.07,386.7 626.15,386.6 626.20,386.5 626.23,386.5 626.31,381.6 626.39,381.4 626.47,381.3 626.50,381.3 626.55,386.8 626.63,386.6 626.71,386.5 626.79,386.4 626.80,386.3 626.87,379.8 626.95,379.6 627.03,379.5 627.10,379.3 627.11,379.3 627.19,386.3 627.27,386.2 627.35,386.0 627.40,385.9 627.43,385.8 627.51,379.6 627.59,379.4 627.67,379.2 627.70,379.1 627.75,385.2 627.83,385.0 627.91,384.8 627.99,384.6 628.00,384.6 628.07,374.8 628.15,374.5 628.23,374.3 628.30,374.1 628.31,374.0 628.39,386.0 628.47,385.7 628.55,385.5 628.60,385.3 628.63,385.2 628.71,372.9 628.79,372.6 628.87,372.3 628.90,372.2 628.95,382.4 629.03,382.1 629.11,381.8 629.19,381.5 629.20,381.5 629.27,372.1 629.35,371.7 629.43,371.4 629.50,371.1 629.51,371.1 629.59,379.4 629.67,379.0 629.75,378.6 629.80,378.3 629.83,378.1 629.91,370.1 629.99,369.6 630.07,369.0 630.10,368.7 630.15,374.9 630.23,374.1 630.31,373.0 630.39,371.7 630.40,371.6 630.47,364.7 630.55,363.1 630.63,361.3 630.70,359.6 630.71,359.3 630.79,361.8 630.87,359.9 630.95,358.1 631.00,357.2 631.03,356.7 631.11,347.7 631.19,346.7 631.27,345.8 631.30,345.5 631.35,353.9 631.43,353.2 631.51,352.6 631.59,351.9 631.60,351.9 631.67,342.2 631.75,341.6 631.83,340.9 631.90,340.2 631.91,340.1 631.99,347.4 632.07,346.1 632.15,344.7 632.20,343.6 632.23,342.9 632.31,333.1 632.39,329.9 632.47,327.8 632.50,327.1 632.55,334.2 632.63,332.5 632.71,331.0 632.79,329.6 632.80,329.4 632.87,321.1 632.95,319.8 633.03,318.2 633.10,316.5 633.11,316.2 633.19,319.8 633.27,315.7 633.35,308.5 633.40,306.2 633.43,304.9 633.51,297.4 633.59,295.1 633.67,293.1 633.70,292.5 633.75,294.0 633.83,292.3 633.91,290.6 633.99,288.9 634.00,288.7 634.07,286.1 634.15,284.3 634.23,282.3 634.30,280.0 634.31,279.7 634.39,276.7 634.47,272.5 634.55,266.3 634.60,261.3 634.63,257.9 634.71,248.1 634.75,242.9 634.79,247.5 634.87,256.0 634.90,259.0 634.95,263.6 635.03,270.1 635.11,275.3 635.19,279.4 635.20,279.9 635.27,282.2 635.35,285.2 635.43,288.0 635.50,290.5 635.51,290.9 635.59,295.5 635.67,299.6 635.75,304.4 635.80,309.6 635.83,312.8 635.91,314.0 635.99,316.3 636.07,318.1 636.10,318.7 636.15,323.6 636.23,325.0 636.31,326.2 636.39,327.2 636.40,327.3 636.47,323.9 636.55,324.6 636.63,325.4 636.70,326.2 636.71,326.3 636.79,333.4 636.87,334.9 636.95,336.7 637.00,338.0 637.03,338.8 637.11,332.8 637.19,336.1 637.27,338.2 637.30,338.9 637.35,350.2 637.43,351.7 637.51,353.3 637.59,354.9 637.60,355.2 637.67,347.8 637.75,350.0 637.83,353.6 637.90,357.7 637.91,358.3 637.99,369.2 638.07,372.5 638.15,374.4 638.20,375.0 638.23,375.4 638.31,369.4 638.39,370.1 638.47,370.8 638.50,371.0 638.55,380.7 638.63,381.1 638.71,381.6 638.79,381.9 638.80,382.0 638.87,372.7 638.95,373.1 639.03,373.4 639.10,373.7 639.11,373.7 639.19,383.2 639.27,383.5 639.35,383.9 639.40,384.1 639.43,384.2 639.51,374.5 639.59,374.8 639.67,375.1 639.70,375.2 639.75,386.7 639.83,386.9 639.91,387.2 639.99,387.4 640.00,387.4 640.07,377.0 640.15,377.3 640.23,377.5 640.30,377.7 640.31,377.7 640.39,386.2 640.47,386.4 640.55,386.5 640.60,386.7 640.63,386.7 640.71,377.9 640.79,378.0 640.87,378.2 640.90,378.2 640.95,390.1 641.03,390.3 641.11,390.4 641.19,390.5 641.20,390.5 641.27,380.2 641.35,380.4 641.43,380.5 641.50,380.6 641.51,380.6 641.59,387.8 641.67,387.9 641.75,388.0 641.80,388.0 641.83,388.0 641.91,379.9 641.99,380.0 642.07,380.1 642.10,380.1 642.15,390.1 642.23,390.2 642.31,390.2 642.39,390.3 642.40,390.3 642.47,382.4 642.55,382.5 642.63,382.6 642.70,382.6 642.71,382.6 642.79,389.4 642.87,389.4 642.95,389.5 643.00,389.5 643.03,389.5 643.11,382.7 643.19,382.7 643.27,382.7 643.30,382.8 643.35,389.4 643.43,389.5 643.51,389.5 643.59,389.6 643.60,389.6 643.67,383.2 643.90,383.3 644.20,390.2 644.50,383.4 644.80,391.6 645.10,381.7 645.40,391.5 645.70,383.4 646.00,389.9 646.30,384.4 646.60,391.1 646.90,382.7 647.20,392.2 647.50,383.4 647.80,391.4 648.10,384.6 648.40,390.7 648.70,384.7 649.00,391.6 649.30,383.5 649.60,393.0 649.90,383.4 650.20,391.3 650.50,385.4 650.80,392.1 651.10,383.2 651.40,394.4 651.70,383.2 652.00,393.1 652.30,384.5 652.60,391.8 652.90,385.7 653.20,391.3 653.50,386.4 653.80,391.1 654.10,386.1 654.40,391.8 654.70,386.8 655.00,391.8 655.30,385.6 655.60,391.3 655.90,386.6 656.20,392.0 656.50,385.3 656.80,391.8 657.10,384.5 657.40,394.3 657.70,382.3 658.00,392.0 658.30,382.5 658.60,391.7 658.90,387.0 659.20,391.5 659.50,386.1 659.80,391.9 660.10,386.5 660.40,391.3 660.70,386.4 661.00,391.1 661.30,387.0 661.60,392.0 661.90,386.2 662.20,392.9 662.50,384.2 662.80,394.7 663.10,384.6 663.40,392.7 663.70,386.3 664.00,392.0 664.30,386.3 664.60,391.6 664.90,386.7 665.20,392.3 665.50,386.2"/></g>
<g clip-path="url(#cb)"><polyline fill="none" stroke-width="4.1" stroke-linejoin="round" stroke-linecap="butt" stroke="#2540f0" points="65.50,750.6 65.80,755.7 66.10,751.3 66.40,756.7 66.70,749.4 67.00,758.9 67.30,747.9 67.60,758.0 67.90,751.0 68.20,758.1 68.50,749.6 68.80,759.0 69.10,750.7 69.40,757.3 69.70,752.7 70.00,757.5 70.30,752.1 70.60,757.0 70.90,753.1 71.20,758.8 71.50,753.0 71.80,758.5 72.10,753.8 72.40,760.9 72.70,753.4 73.00,761.9 73.30,754.4 73.60,758.6 73.90,755.0 74.20,760.3 74.50,752.5 74.80,760.4 75.10,753.2 75.40,759.9 75.70,755.6 76.00,760.9 76.30,753.9 76.60,763.9 76.90,752.0 77.20,764.1 77.50,752.8 77.80,764.7 78.10,753.5 78.40,762.5 78.70,755.2 79.00,762.1 79.30,756.7 79.60,762.0 79.90,755.4 80.20,762.4 80.50,754.7 80.80,762.4 81.10,756.0 81.40,762.7 81.70,756.2 82.00,761.4 82.30,755.0 82.60,761.9 82.90,755.3 83.20,762.3 83.50,756.5 83.80,761.8 84.10,755.4 84.40,763.7 84.70,754.3 85.00,763.0 85.30,754.8 85.60,761.7 85.90,755.6 86.20,760.4 86.50,756.6 86.80,760.2 87.10,755.9 87.40,760.4 87.70,756.3 88.00,761.0 88.30,754.7 88.60,761.2 88.90,755.1 89.20,761.5 89.50,755.5 89.80,760.2 90.10,755.7 90.40,761.4 90.70,755.3 91.00,762.1 91.30,755.8 91.60,761.5 91.90,756.0 92.20,761.6 92.50,756.7 92.80,764.5 93.10,757.9 93.40,764.9 93.70,758.1 94.00,762.5 94.30,757.7 94.60,764.2 94.90,757.7 95.20,766.0 95.50,757.4 95.80,766.0 96.10,757.7 96.40,767.4 96.70,758.1 97.00,766.2 97.30,760.1 97.60,765.2 97.90,761.8 98.20,766.8 98.50,760.4 98.80,769.1 99.10,759.5 99.40,770.2 99.70,761.5 100.00,768.5 100.30,763.1 100.60,768.6 100.90,764.2 101.20,770.1 101.50,764.9 101.80,770.4 102.10,763.7 102.40,771.9 102.70,765.7 103.00,772.0 103.30,766.9 103.60,772.0 103.90,767.2 104.20,772.1 104.50,767.3 104.80,773.9 105.10,767.3 105.40,774.2 105.70,767.5 106.00,775.2 106.30,768.3 106.60,774.4 106.90,770.3 107.20,775.3 107.50,768.8 107.80,776.2 108.10,769.4 108.40,776.3 108.70,770.2 109.00,776.8 109.30,771.7 109.60,776.9 109.90,771.3 110.20,776.6 110.50,772.1 110.80,777.5 111.10,772.6 111.40,777.7 111.70,771.4 112.00,779.3 112.30,772.3 112.60,778.5 112.90,773.4 113.20,778.7 113.50,773.8 113.80,780.2 114.10,772.7 114.40,780.4 114.70,775.3 115.00,780.1 115.30,775.8 115.60,780.4 115.90,776.3 116.20,780.5 116.50,776.4 116.80,781.9 117.10,775.8 117.40,783.3 117.70,776.0 118.00,783.5 118.30,778.0 118.60,783.2 118.90,777.8 119.20,784.9 119.50,779.2 119.80,783.6 120.10,779.1 120.40,785.3 120.70,780.1 121.00,786.3 121.30,779.6 121.60,787.8 121.90,780.9 122.20,786.5 122.50,782.6 122.80,786.6 123.10,782.6 123.40,787.7 123.70,784.2 124.00,788.0 124.30,784.6 124.60,789.4 124.90,784.5 125.20,789.3 125.50,785.1 125.80,791.3 126.10,785.9 126.40,791.1 126.70,786.9 127.00,793.2 127.30,787.8 127.60,793.3 127.90,787.4 128.20,794.8 128.50,788.9 128.80,794.6 129.10,788.9 129.40,795.7 129.70,790.2 130.00,795.2 130.30,790.6 130.60,796.5 130.90,790.4 131.20,798.7 131.50,791.3 131.80,797.6 132.10,792.8 132.40,799.0 132.70,792.8 133.00,798.7 133.30,794.7 133.60,801.0 133.90,795.0 134.20,801.3 134.50,794.9 134.80,801.5 135.10,795.2 135.40,801.9 135.70,796.7 136.00,802.0 136.30,796.3 136.60,802.3 136.90,797.0 137.20,803.5 137.50,796.4 137.80,804.5 138.10,796.7 138.40,805.3 138.70,795.6 139.00,807.1 139.30,796.6 139.60,806.1 139.90,801.6 140.20,806.4 140.50,803.0 140.80,807.2 141.10,801.7 141.40,809.1 141.70,803.5 142.00,808.2 142.30,804.0 142.60,809.2 142.90,804.5 143.20,809.5 143.50,804.9 143.80,810.3 144.10,806.4 144.40,812.1 144.70,805.4 145.00,812.5 145.30,806.6 145.60,812.6 145.90,801.8 146.20,813.8 146.50,804.3 146.80,812.9 147.10,806.8 147.40,813.2 147.70,807.3 148.00,814.2 148.30,807.6 148.60,813.4 148.90,809.3 149.20,813.8 149.50,809.0 149.80,814.3 150.10,809.5 150.40,814.6 150.70,809.5 151.00,814.5 151.30,810.1 151.60,814.7 151.90,809.8 152.20,815.3 152.50,808.9 152.80,816.5 153.10,808.9 153.40,816.7 153.70,809.2 154.00,817.5 154.30,808.5 154.60,817.9 154.90,810.2 155.20,818.1 155.50,811.8 155.80,818.0 156.10,811.0 156.40,816.0 156.70,811.6 157.00,816.3 157.30,811.3 157.60,816.0 157.90,812.6 158.20,819.2 158.50,812.2 158.80,820.5 159.10,812.8 159.40,816.4 159.70,812.5 160.00,816.4 160.30,812.4 160.60,818.4 160.90,811.2 161.20,818.4 161.50,812.9 161.80,818.0 162.10,812.0 162.40,819.6 162.70,811.1 163.00,820.0 163.30,812.3 163.60,817.8 163.90,813.0 164.20,819.1 164.50,812.9 164.80,818.0 165.10,814.3 165.40,818.7 165.70,813.3 166.00,819.1 166.30,811.8 166.60,819.7 166.90,810.9 167.20,821.1 167.50,811.3 167.80,821.4 168.10,813.3 168.40,819.5 168.70,813.2 169.00,820.6 169.30,814.0 169.60,819.9 169.90,813.0 170.20,820.7 170.50,813.1 170.80,819.7 171.10,815.4 171.40,820.8 171.70,815.4 172.00,819.7 172.30,814.8 172.60,819.5 172.90,815.6 173.20,819.7 173.50,814.5 173.80,819.9 174.10,814.9 174.40,819.3 174.70,815.8 175.00,820.0 175.30,815.9 175.60,820.0 175.90,814.9 176.20,821.0 176.50,814.7 176.80,820.7 177.10,815.2 177.40,819.5 177.70,815.5 178.00,821.4 178.30,815.0 178.60,820.4 178.90,815.9 179.20,820.6 179.50,814.6 179.80,822.9 180.10,813.8 180.40,821.4 180.70,815.9 181.00,820.0 181.30,816.1 181.60,820.0 181.90,815.5 182.20,820.2 182.50,815.7 182.80,821.8 183.10,814.8 183.40,820.4 183.70,814.7 184.00,822.4 184.30,815.7 184.60,820.3 184.90,816.1 185.20,820.7 185.50,816.5 185.80,820.7 186.10,816.2 186.40,820.7 186.70,816.5 187.00,821.2 187.30,816.1 187.60,820.4 187.90,816.7 188.20,820.7 188.50,815.7 188.80,821.5 189.10,815.7 189.40,821.1 189.70,815.8 190.00,822.2 190.30,814.7 190.60,822.4 190.90,815.0 191.20,822.2 191.50,816.0 191.80,820.3 192.10,816.0 192.40,821.7 192.70,816.8 193.00,822.0 193.30,816.0 193.60,820.8 193.90,816.6 194.20,821.2 194.50,816.0 194.80,821.7 195.10,816.7 195.40,820.7 195.70,816.7 196.00,821.7 196.30,815.7 196.60,822.4 196.90,816.8 197.20,821.1 197.50,816.0 197.80,821.8 198.10,815.4 198.40,823.2 198.70,813.9 199.00,823.2 199.30,815.4 199.60,821.9 199.90,815.4 200.20,823.4 200.50,814.7 200.80,823.3 201.10,813.4 201.40,822.2 201.70,815.5 202.00,823.3 202.30,813.8 202.60,822.6 202.90,814.0 203.20,821.5 203.50,816.4 203.80,821.0 204.10,817.4 204.40,821.9 204.70,815.6 205.00,822.8 205.30,815.6 205.60,822.0 205.90,816.1 206.20,822.5 206.50,817.1 206.80,821.8 207.10,817.1 207.40,822.6 207.70,817.0 208.00,821.0 208.30,817.1 208.60,822.2 208.90,816.9 209.20,821.4 209.50,817.8 209.80,822.1 210.10,817.0 210.40,822.2 210.70,816.9 211.00,822.4 211.30,817.3 211.60,821.9 211.90,816.8 212.20,822.5 212.50,817.1 212.80,821.5 213.10,817.6 213.40,821.9 213.70,817.1 214.00,822.1 214.30,817.3 214.60,823.6 214.90,816.7 215.20,822.8 215.50,817.9 215.80,822.2 216.10,817.4 216.40,822.1 216.70,816.7 217.00,823.8 217.30,816.5 217.60,822.3 217.90,817.7 218.20,822.3 218.50,817.3 218.80,822.3 219.10,818.2 219.40,822.9 219.70,816.0 220.00,823.8 220.30,816.9 220.60,821.9 220.90,817.8 221.20,822.5 221.50,817.4 221.80,823.2 222.10,814.9 222.40,823.6 222.70,817.1 223.00,822.4 223.30,818.4 223.60,822.9 223.90,817.3 224.20,824.5 224.50,815.0 224.80,825.0 225.10,816.2 225.40,824.0 225.70,817.4 226.00,823.9 226.30,815.5 226.60,824.0 226.90,817.7 227.20,822.6 227.50,818.2 227.80,823.8 228.10,817.2 228.40,823.1 228.70,817.0 229.00,823.7 229.30,817.2 229.60,823.9 229.90,817.7 230.20,824.0 230.50,816.5 230.80,823.9 231.10,818.6 231.40,823.1 231.70,816.4 232.00,824.5 232.30,817.2 232.60,824.2 232.90,817.2 233.20,823.7 233.50,817.9 233.80,824.6 234.10,817.2 234.40,824.9 234.70,817.7 235.00,825.9 235.30,817.7 235.60,825.9 235.90,818.3 236.20,823.5 236.50,817.7 236.80,823.6 237.10,819.1 237.40,822.9 237.70,819.3 238.00,824.4 238.30,817.1 238.60,824.8 238.90,817.7 239.20,823.4 239.50,819.2 239.80,823.7 240.10,817.6 240.40,824.5 240.70,817.7 241.00,824.4 241.30,817.9 241.60,825.2 241.90,817.7 242.20,825.9 242.50,816.9 242.80,826.0 243.10,817.3 243.40,824.5 243.70,819.4 244.00,823.1 244.30,819.1 244.60,823.6 244.90,819.4 245.20,824.0 245.50,819.5 245.80,823.8 246.10,818.0 246.40,823.6 246.70,819.1 247.00,824.0 247.30,818.8 247.60,823.2 247.90,818.3 248.20,824.9 248.50,818.8 248.80,823.4 249.10,819.2 249.40,824.7 249.70,819.4 250.00,823.8 250.30,818.8 250.60,824.5 250.90,819.4 251.20,823.9 251.50,819.9 251.80,823.8 252.10,818.2 252.40,825.1 252.70,819.3 253.00,825.0 253.30,818.4 253.60,824.0 253.90,820.2 254.20,823.8 254.50,820.2 254.80,823.8 255.10,819.1 255.40,824.5 255.70,818.9 256.00,825.8 256.30,817.5 256.60,825.5 256.90,819.4 257.20,824.3 257.50,819.7 257.80,823.6 258.10,819.1 258.40,824.8 258.70,819.1 259.00,824.4 259.30,819.9 259.60,824.5 259.90,819.6 260.20,824.6 260.50,818.4 260.80,826.8 261.10,816.8 261.40,826.3 261.70,818.7 262.00,824.3 262.30,818.7 262.60,825.6 262.90,818.8 263.20,824.8 263.50,820.3 263.80,825.7 264.10,819.7 264.40,824.6 264.70,819.1 265.00,825.8 265.30,818.6 265.60,824.7 265.90,819.7 266.20,825.9 266.50,818.8 266.80,825.1 267.10,819.6 267.40,824.7 267.70,819.1 268.00,825.6 268.30,817.6 268.60,827.1 268.90,817.4 269.20,825.0 269.50,820.0 269.80,826.2 270.10,819.1 270.40,824.3 270.70,820.1 271.00,825.2 271.30,820.2 271.60,824.8 271.90,818.7 272.20,827.3 272.50,818.5 272.80,825.9 273.10,820.2 273.40,824.7 273.70,820.0 274.00,824.5 274.30,820.4 274.60,826.0 274.90,818.1 275.20,825.6 275.50,818.9 275.80,827.6 276.10,820.1 276.40,827.5 276.70,820.2 277.00,826.2 277.30,819.8 277.60,825.7 277.90,820.8 278.20,824.8 278.50,819.4 278.80,825.2 279.10,820.1 279.40,825.5 279.70,816.8 280.00,826.4 280.30,816.6 280.60,825.3 280.90,818.8 281.20,827.0 281.50,817.7 281.80,826.0 282.10,819.0 282.40,825.7 282.70,819.9 283.00,824.7 283.30,820.2 283.60,824.4 283.90,818.9 284.20,826.2 284.50,819.1 284.80,823.9 285.10,819.3 285.40,824.9 285.70,819.3 286.00,823.6 286.30,819.1 286.60,823.7 286.90,818.5 287.20,824.0 287.50,819.0 287.80,824.2 288.10,818.3 288.40,823.2 288.70,818.6 289.00,823.2 289.30,816.5 289.60,823.7 289.90,817.3 290.20,823.0 290.40,816.1 290.48,816.1 290.50,816.1 290.56,825.4 290.64,825.3 290.72,825.3 290.80,825.3 290.88,815.4 290.96,815.4 291.04,815.3 291.10,815.3 291.12,815.3 291.20,823.0 291.28,823.0 291.36,822.9 291.40,822.9 291.44,822.9 291.52,817.3 291.60,817.2 291.68,817.2 291.70,817.1 291.76,821.2 291.84,821.1 291.92,821.1 292.00,821.0 292.08,817.2 292.16,817.1 292.24,817.0 292.30,817.0 292.32,816.9 292.40,821.9 292.48,821.8 292.56,821.7 292.60,821.7 292.64,821.6 292.72,814.0 292.80,813.9 292.88,813.8 292.90,813.8 292.96,821.8 293.04,821.7 293.12,821.6 293.20,821.5 293.28,813.9 293.36,813.8 293.44,813.6 293.50,813.5 293.52,813.5 293.60,820.5 293.68,820.4 293.76,820.2 293.80,820.1 293.84,820.0 293.92,813.0 294.00,812.7 294.08,812.5 294.10,812.4 294.16,819.0 294.24,818.8 294.32,818.5 294.40,818.2 294.48,810.3 294.56,810.0 294.64,809.7 294.70,809.4 294.72,809.3 294.80,816.7 294.88,816.3 294.96,815.8 295.00,815.6 295.04,815.4 295.12,808.1 295.20,807.6 295.28,807.0 295.30,806.8 295.36,812.3 295.44,811.6 295.52,810.9 295.60,810.1 295.68,804.1 295.76,803.2 295.84,802.3 295.90,801.5 295.92,801.3 296.00,804.2 296.08,803.0 296.16,801.7 296.20,801.0 296.24,800.3 296.32,795.0 296.40,793.4 296.48,791.8 296.50,791.4 296.56,794.2 296.64,792.5 296.72,790.7 296.80,788.9 296.88,782.7 296.96,780.8 297.04,778.9 297.10,777.4 297.12,776.9 297.20,779.0 297.28,776.9 297.36,774.7 297.40,773.7 297.44,772.6 297.52,766.8 297.60,764.7 297.68,762.6 297.70,762.1 297.76,763.6 297.84,761.3 297.92,759.1 298.00,756.8 298.08,752.5 298.16,750.5 298.24,748.8 298.30,747.7 298.32,747.3 298.40,747.4 298.48,745.9 298.56,744.4 298.60,743.6 298.64,742.8 298.72,740.2 298.80,738.5 298.88,736.4 298.90,735.8 298.96,734.2 299.04,731.0 299.12,727.1 299.20,721.3 299.28,710.1 299.36,694.9 299.40,686.6 299.44,698.3 299.50,714.4 299.52,719.1 299.60,733.3 299.68,739.5 299.76,743.2 299.80,744.8 299.84,746.2 299.92,748.1 300.00,750.0 300.08,751.5 300.10,751.9 300.16,754.2 300.24,755.6 300.32,756.9 300.40,758.3 300.48,757.2 300.56,758.4 300.64,759.8 300.70,761.0 300.72,761.4 300.80,765.7 300.88,767.6 300.96,769.6 301.00,770.5 301.04,771.5 301.12,770.9 301.20,772.8 301.28,774.6 301.30,775.1 301.36,780.0 301.44,782.0 301.52,784.0 301.60,786.0 301.68,783.6 301.76,785.6 301.84,787.8 301.90,789.6 301.92,790.2 302.00,798.3 302.08,800.7 302.16,802.9 302.20,803.9 302.24,804.9 302.32,800.1 302.40,801.5 302.48,802.6 302.50,802.9 302.56,809.7 302.64,810.6 302.72,811.4 302.80,812.2 302.88,807.5 302.96,808.1 303.04,808.6 303.10,809.0 303.12,809.2 303.20,814.3 303.28,814.7 303.36,815.2 303.40,815.3 303.44,815.5 303.52,811.7 303.60,812.0 303.68,812.3 303.70,812.4 303.76,817.7 303.84,818.0 303.92,818.3 304.00,818.5 304.08,813.6 304.16,813.9 304.24,814.1 304.30,814.3 304.32,814.3 304.40,820.0 304.48,820.2 304.56,820.4 304.60,820.5 304.64,820.5 304.72,813.0 304.80,813.1 304.88,813.3 304.90,813.3 304.96,821.5 305.04,821.6 305.12,821.7 305.20,821.8 305.28,815.1 305.36,815.2 305.44,815.2 305.50,815.3 305.52,815.3 305.60,820.5 305.68,820.6 305.76,820.6 305.80,820.7 305.84,820.7 305.92,817.1 306.00,817.1 306.08,817.2 306.10,817.2 306.16,821.2 306.24,821.2 306.32,821.2 306.40,821.3 306.48,817.1 306.56,817.1 306.64,817.2 306.70,817.2 306.72,817.2 306.80,820.9 306.88,820.9 306.96,820.9 307.00,821.0 307.04,821.0 307.12,816.5 307.20,816.6 307.28,816.6 307.30,816.6 307.36,822.2 307.44,822.2 307.52,822.3 307.60,822.3 307.68,817.5 307.76,817.5 307.84,817.6 307.90,817.6 307.92,817.6 308.00,822.1 308.08,822.1 308.16,822.1 308.20,822.1 308.24,822.2 308.32,817.0 308.50,817.1 308.80,822.5 309.10,816.9 309.40,823.3 309.70,817.6 310.00,822.9 310.30,817.2 310.60,822.9 310.90,818.2 311.20,822.6 311.50,818.6 311.80,822.9 312.10,817.8 312.40,823.9 312.70,818.4 313.00,823.9 313.30,818.3 313.60,823.4 313.90,818.3 314.20,823.9 314.50,818.0 314.80,823.3 315.10,819.6 315.40,823.1 315.70,818.8 316.00,823.8 316.30,817.8 316.60,825.1 316.90,817.7 317.20,828.0 317.50,817.9 317.80,827.4 318.10,817.3 318.40,824.3 318.70,818.6 319.00,823.5 319.30,818.1 319.60,824.5 319.90,819.0 320.20,823.1 320.50,819.0 320.80,823.5 321.10,818.9 321.40,823.0 321.70,818.6 322.00,824.1 322.30,817.8 322.60,824.1 322.90,818.2 323.20,824.6 323.50,817.9 323.80,823.7 324.10,818.7 324.40,823.8 324.70,817.7 325.00,823.4 325.30,817.9 325.60,823.7 325.90,815.6 326.20,825.7 326.50,816.1 326.80,824.7 327.10,817.0 327.40,823.3 327.70,817.6 328.00,823.6 328.30,817.5 328.60,822.2 328.90,817.6 329.20,822.5 329.50,818.5 329.80,822.6 330.10,818.2 330.40,821.8 330.70,817.2 331.00,822.2 331.30,817.4 331.60,821.8 331.90,817.5 332.20,822.4 332.50,817.1 332.80,822.0 333.10,816.5 333.40,822.1 333.70,815.9 334.00,822.1 334.30,817.1 334.60,821.9 334.90,815.8 335.20,822.1 335.50,816.3 335.80,821.4 336.10,816.0 336.40,821.1 336.70,816.2 337.00,820.7 337.30,816.4 337.60,823.3 337.90,815.0 338.20,822.8 338.50,815.9 338.80,820.6 339.10,815.2 339.40,819.4 339.70,814.7 340.00,819.6 340.30,814.5 340.60,819.5 340.90,813.2 341.20,823.8 341.50,812.9 341.80,822.0 342.10,813.9 342.18,818.0 342.26,818.0 342.34,817.9 342.40,817.9 342.42,817.9 342.50,813.5 342.58,813.4 342.66,813.3 342.70,813.3 342.74,813.3 342.82,818.0 342.90,818.0 342.98,817.9 343.00,817.9 343.06,812.5 343.14,812.4 343.22,812.3 343.30,812.3 343.38,816.7 343.46,816.6 343.54,816.5 343.60,816.4 343.62,816.4 343.70,812.3 343.78,812.2 343.86,812.1 343.90,812.0 343.94,812.0 344.02,816.5 344.10,816.4 344.18,816.3 344.20,816.3 344.26,810.6 344.34,810.5 344.42,810.3 344.50,810.2 344.58,817.1 344.66,817.0 344.74,816.8 344.80,816.7 344.82,816.7 344.90,808.4 344.98,808.2 345.06,808.0 345.10,808.0 345.14,807.9 345.22,815.6 345.30,815.4 345.38,815.2 345.40,815.1 345.46,808.6 345.54,808.4 345.62,808.2 345.70,808.0 345.78,812.8 345.86,812.5 345.94,812.3 346.00,812.1 346.02,812.0 346.10,806.1 346.18,805.7 346.26,805.4 346.30,805.1 346.34,804.9 346.42,809.9 346.50,809.3 346.58,808.6 346.60,808.4 346.66,801.6 346.74,800.6 346.82,799.5 346.90,798.2 346.98,802.7 347.06,800.8 347.14,795.7 347.20,790.4 347.22,789.0 347.30,782.2 347.38,781.0 347.46,780.0 347.50,779.5 347.54,779.2 347.62,784.5 347.70,783.9 347.78,783.3 347.80,783.2 347.86,775.5 347.94,774.8 348.02,774.0 348.10,773.4 348.18,781.3 348.26,780.4 348.34,779.3 348.40,778.1 348.42,777.5 348.50,765.5 348.58,761.7 348.66,757.4 348.70,755.0 348.74,752.7 348.82,756.7 348.90,753.1 348.98,750.4 349.00,749.8 349.06,741.8 349.14,740.3 349.22,739.0 349.30,737.8 349.38,740.4 349.46,738.8 349.54,736.9 349.60,735.1 349.62,734.4 349.70,728.2 349.78,724.0 349.86,717.8 349.90,703.1 349.94,686.5 350.02,681.4 350.10,676.3 350.18,672.7 350.20,671.9 350.26,668.9 350.34,667.4 350.42,666.5 350.50,665.7 350.58,665.6 350.66,664.2 350.74,662.0 350.80,659.7 350.82,658.7 350.90,653.8 350.98,647.1 351.06,633.3 351.10,557.8 351.14,564.9 351.22,572.7 351.30,577.4 351.38,580.3 351.40,580.9 351.46,582.0 351.54,583.8 351.62,586.4 351.70,590.5 351.78,597.8 351.86,607.1 351.94,762.8 352.00,772.9 352.02,773.5 352.10,774.3 352.18,775.5 352.26,776.2 352.30,776.4 352.34,776.6 352.40,778.9 352.42,779.0 352.48,779.4 352.50,779.6 352.56,780.1 352.58,780.4 352.60,780.6 352.64,781.1 352.66,777.9 352.72,778.5 352.74,778.6 352.80,779.2 352.82,779.4 352.88,779.9 352.90,780.1 352.96,785.6 352.98,785.8 353.04,786.4 353.06,786.6 353.12,787.3 353.14,787.5 353.20,788.1 353.22,788.3 353.28,782.9 353.30,783.0 353.36,783.5 353.38,783.6 353.44,784.1 353.46,784.3 353.50,784.6 353.52,784.7 353.54,784.9 353.60,791.9 353.62,792.0 353.68,792.5 353.70,792.7 353.76,793.2 353.78,793.3 353.80,793.5 353.84,793.8 353.86,786.6 353.92,787.0 353.94,787.1 354.00,787.5 354.02,787.6 354.08,788.0 354.10,788.1 354.16,795.6 354.18,795.8 354.24,796.1 354.26,796.3 354.32,796.6 354.34,796.8 354.40,797.1 354.42,797.3 354.48,791.0 354.50,791.1 354.56,791.5 354.58,791.6 354.64,792.0 354.66,792.1 354.70,792.3 354.72,792.5 354.74,792.6 354.80,798.2 354.82,798.3 354.88,798.7 354.90,798.8 354.96,799.2 354.98,799.3 355.00,799.4 355.04,799.7 355.06,795.8 355.12,796.2 355.14,796.3 355.20,796.6 355.22,796.7 355.28,797.0 355.30,797.1 355.36,801.6 355.38,801.6 355.44,801.9 355.46,801.9 355.52,802.1 355.54,802.2 355.60,802.4 355.62,802.4 355.68,797.3 355.70,797.4 355.76,797.5 355.78,797.5 355.84,797.5 355.86,797.5 355.90,797.6 355.92,797.6 355.94,797.6 356.00,803.8 356.02,803.8 356.08,803.7 356.10,803.7 356.16,803.6 356.18,803.5 356.20,803.5 356.24,803.4 356.26,797.9 356.32,797.7 356.34,797.6 356.40,797.4 356.42,797.4 356.48,797.2 356.50,797.1 356.56,801.3 356.58,801.2 356.64,800.9 356.66,800.8 356.72,800.5 356.74,800.4 356.80,800.0 356.82,799.9 356.88,794.4 356.90,794.3 356.96,793.8 356.98,793.7 357.04,793.2 357.06,793.1 357.10,792.8 357.12,792.6 357.14,792.4 357.20,798.3 357.22,798.1 357.28,797.6 357.30,797.4 357.36,796.9 357.38,796.7 357.40,796.5 357.44,796.1 357.46,789.4 357.52,788.8 357.54,788.7 357.60,788.1 357.62,787.9 357.68,787.3 357.70,787.1 357.76,792.0 357.78,791.8 357.84,791.2 357.86,791.0 357.92,790.4 357.94,790.2 358.00,789.5 358.02,789.3 358.08,784.2 358.10,783.9 358.16,783.2 358.18,782.9 358.24,782.1 358.26,781.9 358.30,781.3 358.32,781.0 358.34,780.7 358.40,784.6 358.42,784.3 358.48,783.6 358.50,783.4 358.56,782.8 358.58,782.6 358.60,782.4 358.64,782.0 358.66,775.8 358.72,775.0 358.74,774.7 358.80,773.5 358.82,773.1 358.88,771.3 358.90,770.5 358.96,772.8 358.98,766.9 359.04,737.7 359.06,735.8 359.12,734.4 359.14,734.1 359.20,733.6 359.22,733.4 359.28,728.6 359.30,728.5 359.36,728.0 359.38,727.7 359.44,726.3 359.46,724.0 359.50,684.3 359.52,642.2 359.54,583.3 359.60,400.8 359.62,378.9 359.68,356.3 359.70,356.3 359.76,356.3 359.78,356.3 359.80,356.3 359.84,356.3 359.86,356.3 359.92,356.3 359.94,356.3 360.00,356.3 360.02,356.3 360.08,356.3 360.10,356.3 360.16,356.3 360.24,356.3 360.32,356.3 360.40,356.3 360.48,356.3 360.56,356.3 360.64,356.3 360.70,356.3 360.72,356.3 360.80,356.3 360.88,356.3 360.96,356.3 361.00,356.3 361.04,356.3 361.12,356.3 361.20,356.3 361.28,356.3 361.30,356.3 361.36,356.3 361.40,356.3 361.44,356.3 361.52,356.3 361.60,356.3 361.68,356.3 361.76,356.3 361.84,356.3 361.90,356.3 361.92,356.3 362.00,356.3 362.08,356.3 362.16,356.3 362.20,356.3 362.24,356.3 362.32,356.3 362.40,356.3 362.48,356.3 362.50,356.3 362.56,356.3 362.64,356.3 362.72,356.3 362.80,356.3 362.88,356.3 362.96,356.3 363.04,356.3 363.10,356.3 363.12,356.3 363.20,356.3 363.28,387.7 363.36,489.3 363.40,546.5 363.44,576.9 363.52,573.7 363.60,575.4 363.68,576.5 363.70,576.8 363.76,585.8 363.84,606.0 363.92,684.1 364.00,739.7 364.08,752.3 364.16,760.6 364.24,766.9 364.30,770.7 364.32,771.8 364.40,780.2 364.48,783.1 364.56,785.3 364.60,786.2 364.64,787.0 364.72,783.3 364.80,784.1 364.88,784.8 364.90,785.0 364.96,791.3 365.04,791.9 365.12,792.4 365.20,792.8 365.28,787.2 365.36,787.5 365.44,787.8 365.50,788.1 365.52,788.1 365.60,793.7 365.68,793.9 365.76,794.2 365.80,794.3 365.84,794.4 365.92,790.2 366.00,790.5 366.08,790.8 366.10,790.9 366.16,795.4 366.24,795.7 366.32,796.1 366.40,796.4 366.48,790.9 366.56,791.3 366.64,791.7 366.70,791.9 366.72,792.0 366.80,798.3 366.88,798.7 366.96,799.0 367.00,799.2 367.04,799.4 367.12,795.3 367.20,795.6 367.28,795.9 367.30,796.0 367.36,800.9 367.44,801.2 367.52,801.5 367.60,801.8 367.68,797.5 367.76,797.8 367.84,798.1 367.90,798.3 367.92,798.4 368.00,803.2 368.08,803.5 368.16,803.7 368.20,803.9 368.24,804.0 368.32,800.0 368.40,800.3 368.48,800.5 368.50,800.6 368.56,804.6 368.64,804.8 368.72,805.0 368.80,805.2 368.88,800.9 368.96,801.0 369.04,801.2 369.10,801.3 369.12,801.4 369.20,807.9 369.28,808.1 369.36,808.2 369.40,808.2 369.44,808.3 369.52,800.5 369.60,800.6 369.68,800.7 369.70,800.7 369.76,809.0 369.84,809.0 369.92,809.1 370.00,809.2 370.08,801.4 370.16,801.4 370.24,801.5 370.30,801.6 370.32,801.6 370.60,808.9 370.90,803.0 371.20,808.4 371.50,804.4 371.80,808.5 372.10,804.4 372.40,809.4 372.70,804.0 373.00,810.4 373.30,804.2 373.60,809.3 373.90,804.7 374.20,811.4 374.50,803.1 374.80,810.4 375.10,806.1 375.40,810.4 375.70,803.8 376.00,810.4 376.30,803.6 376.60,811.2 376.90,806.8 377.20,810.9 377.50,806.5 377.80,810.9 378.10,806.3 378.40,810.8 378.70,807.1 379.00,812.3 379.30,806.9 379.60,813.7 379.90,807.4 380.20,814.2 380.50,807.3 380.80,813.6 381.10,808.1 381.40,812.7 381.70,808.7 382.00,812.7 382.30,809.2 382.60,815.2 382.90,808.3 383.20,815.5 383.50,809.0 383.80,814.2 384.10,809.9 384.40,814.9 384.70,809.7 385.00,817.3 385.30,808.9 385.60,816.5 385.90,810.5 386.20,817.0 386.50,809.3 386.80,816.7 387.10,811.6 387.40,815.7 387.70,810.8 388.00,817.5 388.30,810.6 388.60,817.1 388.90,812.5 389.20,816.4 389.50,812.3 389.80,817.9 390.10,811.3 390.40,817.4 390.70,812.9 391.00,816.7 391.30,812.7 391.60,817.6 391.90,812.5 392.20,817.2 392.50,812.2 392.80,818.1 393.10,811.6 393.40,817.4 393.70,813.0 394.00,817.3 394.30,813.4 394.60,817.1 394.90,811.2 395.20,817.7 395.50,811.1 395.80,818.1 396.10,808.4 396.40,818.1 396.70,808.5 397.00,818.8 397.30,811.9 397.60,817.3 397.90,812.0 398.20,820.5 398.50,811.3 398.80,818.8 399.10,812.3 399.40,818.1 399.70,812.1 400.00,818.8 400.30,812.0 400.60,817.7 400.90,812.9 401.20,817.2 401.50,811.6 401.80,816.6 402.10,812.8 402.40,817.5 402.70,811.1 403.00,818.3 403.30,812.1 403.60,816.4 403.90,812.3 404.20,817.2 404.50,810.2 404.80,819.6 405.10,809.6 405.40,817.8 405.70,810.8 406.00,816.4 406.30,811.1 406.60,815.8 406.90,811.2 407.20,815.2 407.50,811.2 407.80,816.7 408.10,810.8 408.40,814.8 408.70,810.9 409.00,814.8 409.30,810.3 409.60,815.0 409.90,809.7 410.20,815.7 410.50,810.1 410.80,813.5 411.10,809.3 411.40,813.5 411.70,808.9 412.00,812.4 412.30,808.4 412.60,812.9 412.90,806.1 413.20,813.7 413.50,806.3 413.80,811.4 414.10,805.9 414.40,811.7 414.70,805.9 415.00,811.0 415.30,804.6 415.60,810.4 415.65,810.3 415.73,802.6 415.81,802.5 415.89,802.4 415.90,802.3 415.97,811.7 416.05,811.5 416.13,811.4 416.20,811.3 416.21,811.2 416.29,800.0 416.37,799.8 416.45,799.7 416.50,799.6 416.53,799.5 416.61,810.0 416.69,809.8 416.77,809.6 416.80,809.5 416.85,800.1 416.93,799.9 417.01,799.7 417.09,799.5 417.10,799.4 417.17,806.7 417.25,806.5 417.33,806.3 417.40,806.1 417.41,806.1 417.49,799.8 417.57,799.5 417.65,799.3 417.70,799.1 417.73,799.1 417.81,805.4 417.89,805.1 417.97,804.9 418.00,804.8 418.05,804.6 418.13,797.4 418.21,797.1 418.29,796.8 418.30,796.8 418.37,803.4 418.45,803.1 418.53,802.9 418.60,802.6 418.61,802.6 418.69,796.8 418.77,796.5 418.85,796.3 418.90,796.2 418.93,796.1 419.01,801.0 419.09,800.7 419.17,800.5 419.20,800.4 419.25,800.3 419.33,794.9 419.41,794.7 419.49,794.4 419.50,794.3 419.57,798.3 419.65,797.9 419.73,797.6 419.80,797.3 419.81,797.2 419.89,792.6 419.97,792.1 420.05,791.6 420.10,791.3 420.13,791.1 420.21,795.3 420.29,794.6 420.37,793.9 420.40,793.5 420.45,792.6 420.53,786.1 420.61,783.6 420.69,780.4 420.70,780.0 420.77,781.0 420.85,777.0 420.93,772.7 421.00,769.1 421.01,768.6 421.09,760.2 421.17,756.2 421.25,751.8 421.30,748.9 421.33,747.2 421.41,747.9 421.49,742.9 421.57,737.9 421.60,736.0 421.65,732.9 421.73,721.8 421.81,717.4 421.89,713.5 421.90,713.1 421.97,715.7 422.05,713.2 422.13,711.1 422.20,709.7 422.21,709.5 422.29,703.9 422.37,702.8 422.45,701.9 422.50,701.5 422.53,701.2 422.61,705.5 422.69,704.7 422.77,703.7 422.80,703.2 422.85,695.9 422.93,694.2 423.01,692.0 423.09,689.2 423.10,688.8 423.17,692.2 423.25,687.6 423.33,682.0 423.40,583.5 423.41,543.2 423.49,356.3 423.57,356.3 423.65,356.3 423.70,356.3 423.73,356.3 423.81,356.3 423.89,356.3 423.97,356.3 424.00,356.3 424.05,356.3 424.13,356.3 424.21,356.3 424.29,356.3 424.30,356.3 424.37,356.3 424.45,356.3 424.53,356.3 424.60,356.3 424.61,356.3 424.65,356.3 424.69,356.3 424.77,356.3 424.85,356.3 424.90,356.3 424.93,356.3 425.01,356.3 425.09,356.3 425.17,356.3 425.20,356.3 425.25,356.3 425.33,356.3 425.41,356.3 425.49,356.3 425.50,356.3 425.57,356.3 425.65,356.3 425.73,356.3 425.80,356.3 425.81,356.3 425.89,578.1 425.97,726.5 426.05,730.0 426.10,731.8 426.13,732.8 426.21,742.6 426.29,744.3 426.37,745.6 426.40,746.0 426.45,746.6 426.53,739.7 426.61,740.3 426.69,740.7 426.70,740.8 426.77,752.4 426.85,752.8 426.93,753.2 427.00,753.6 427.01,753.7 427.09,741.6 427.17,742.5 427.25,743.6 427.30,744.4 427.33,744.9 427.41,758.9 427.49,761.2 427.57,765.2 427.60,767.1 427.65,770.4 427.73,765.6 427.81,770.7 427.89,775.0 427.90,775.5 427.97,785.0 428.05,787.3 428.13,788.8 428.20,790.0 428.21,790.2 428.29,787.5 428.37,788.5 428.45,789.5 428.50,790.1 428.53,790.4 428.61,795.3 428.69,796.0 428.77,796.6 428.80,796.8 428.85,793.2 428.93,793.7 429.01,794.2 429.09,794.6 429.10,794.6 429.17,800.3 429.25,800.7 429.33,801.0 429.40,801.3 429.41,801.3 429.49,795.1 429.57,795.4 429.65,795.7 429.70,795.8 429.73,795.9 429.81,803.1 429.89,803.3 429.97,803.5 430.00,803.6 430.05,803.7 430.13,797.6 430.21,797.8 430.29,798.0 430.30,798.0 430.37,805.2 430.45,805.4 430.53,805.6 430.60,805.7 430.61,805.7 430.69,798.1 430.77,798.2 430.85,798.3 430.90,798.4 430.93,798.5 431.01,804.0 431.09,804.1 431.17,804.3 431.20,804.3 431.25,804.4 431.33,800.5 431.41,800.6 431.49,800.7 431.50,800.8 431.57,804.8 431.65,804.9 431.73,805.0 431.80,805.1 431.81,805.1 431.89,800.3 431.97,800.4 432.05,800.5 432.10,800.6 432.13,800.6 432.21,807.1 432.29,807.2 432.37,807.3 432.40,807.4 432.45,807.5 432.53,801.7 432.61,801.8 432.69,801.9 432.70,802.0 432.77,806.2 432.85,806.3 432.93,806.4 433.00,806.5 433.01,806.5 433.09,801.6 433.17,801.7 433.25,801.8 433.30,801.9 433.33,801.9 433.41,806.9 433.49,807.0 433.57,807.1 433.60,807.1 433.90,803.0 434.20,808.4 434.50,803.5 434.80,808.7 435.10,803.5 435.40,808.2 435.70,803.4 436.00,809.9 436.30,804.3 436.60,809.5 436.90,805.3 437.20,809.5 437.50,804.3 437.80,811.6 438.10,804.1 438.40,811.3 438.70,805.6 439.00,810.8 439.30,804.3 439.60,813.8 439.90,806.4 440.20,812.8 440.50,806.8 440.80,811.1 441.10,806.2 441.40,810.4 441.70,805.9 442.00,811.3 442.30,806.5 442.60,811.1 442.90,805.9 443.20,811.0 443.50,806.8 443.80,811.4 444.10,806.3 444.40,810.7 444.70,806.4 445.00,811.3 445.30,806.6 445.60,810.7 445.90,806.7 446.20,812.0 446.50,805.5 446.80,812.5 447.10,805.7 447.40,811.2 447.70,806.8 448.00,811.8 448.30,805.8 448.60,812.0 448.90,805.2 449.20,812.8 449.50,804.2 449.80,811.9 450.10,804.8 450.40,810.8 450.70,807.0 451.00,811.8 451.30,806.9 451.60,810.7 451.90,806.4 452.20,810.9 452.50,806.7 452.80,810.7 453.10,806.5 453.40,811.6 453.70,805.1 454.00,811.9 454.30,806.2 454.60,811.8 454.90,804.1 455.20,812.6 455.50,805.6 455.80,811.0 456.10,806.2 456.40,810.9 456.70,806.4 457.00,810.7 457.30,805.4 457.60,810.8 457.90,805.5 458.20,812.4 458.50,804.1 458.80,812.4 459.10,804.4 459.40,811.2 459.70,806.3 460.00,810.7 460.30,806.3 460.60,810.6 460.90,806.0 461.20,810.9 461.50,805.9 461.80,810.8 462.10,805.3 462.40,809.8 462.70,805.7 463.00,810.3 463.30,805.4 463.60,811.2 463.90,805.9 464.20,810.8 464.50,805.6 464.80,810.2 465.10,805.2 465.40,809.6 465.70,805.5 466.00,810.1 466.30,804.5 466.60,811.9 466.90,804.0 467.20,810.2 467.50,806.0 467.80,809.3 468.10,805.4 468.40,809.3 468.70,805.7 469.00,809.3 469.30,805.4 469.60,810.0 469.90,804.7 470.20,810.7 470.50,803.6 470.80,810.1 471.10,804.8 471.40,808.8 471.70,804.8 472.00,809.8 472.30,804.9 472.60,810.9 472.90,803.2 473.20,810.7 473.50,803.5 473.80,810.3 474.10,802.7 474.40,809.9 474.70,805.1 475.00,808.7 475.30,805.0 475.60,809.1 475.90,803.3 476.20,809.5 476.50,804.7 476.80,808.8 477.10,804.7 477.40,808.6 477.70,804.4 478.00,808.1 478.30,804.5 478.60,807.9 478.90,803.8 479.20,808.5 479.50,803.4 479.80,808.7 480.10,802.8 480.40,810.2 480.70,802.4 481.00,810.3 481.30,803.1 481.60,807.6 481.90,803.1 482.20,808.8 482.50,801.8 482.80,811.3 483.10,802.9 483.40,809.2 483.70,803.6 484.00,807.1 484.30,803.9 484.60,807.8 484.90,803.5 485.20,808.3 485.50,801.7 485.80,809.6 486.10,802.4 486.40,807.3 486.70,801.5 487.00,809.6 487.30,802.1 487.60,807.3 487.90,801.4 488.20,807.9 488.50,800.8 488.80,809.2 489.10,801.0 489.40,807.6 489.70,802.3 490.00,807.1 490.30,801.0 490.60,808.5 490.90,800.8 491.20,806.5 491.50,802.0 491.80,808.5 492.10,799.2 492.40,809.6 492.70,799.1 493.00,808.1 493.30,801.8 493.60,805.6 493.90,801.7 494.20,806.2 494.50,801.9 494.80,807.1 495.10,800.0 495.40,806.6 495.70,800.4 496.00,805.7 496.30,800.8 496.60,805.6 496.90,801.2 497.20,805.7 497.50,800.0 497.80,807.1 498.10,799.0 498.40,807.7 498.70,798.2 499.00,807.7 499.30,798.5 499.60,806.8 499.90,800.0 500.20,805.0 500.50,797.3 500.80,807.4 501.10,797.3 501.40,805.4 501.70,800.2 502.00,804.0 502.30,799.1 502.60,804.2 502.90,799.0 503.20,803.6 503.50,799.5 503.80,803.5 504.10,799.5 504.40,803.2 504.70,799.0 505.00,802.9 505.30,798.3 505.60,803.3 505.90,797.6 506.20,802.5 506.50,797.2 506.80,802.6 507.10,797.6 507.40,802.4 507.70,796.1 508.00,802.3 508.30,797.5 508.60,802.3 508.90,793.0 509.20,802.0 509.50,793.7 509.80,800.6 510.10,796.3 510.18,800.4 510.26,800.4 510.34,800.3 510.40,800.3 510.42,800.2 510.50,795.6 510.58,795.5 510.66,795.4 510.70,795.4 510.74,795.3 510.82,802.0 510.90,801.9 510.98,801.9 511.00,801.8 511.06,794.5 511.14,794.5 511.22,794.4 511.30,794.3 511.38,801.0 511.46,800.9 511.54,800.8 511.60,800.7 511.62,800.7 511.70,794.2 511.78,794.2 511.86,794.1 511.90,794.0 511.94,794.0 512.02,798.1 512.10,798.0 512.18,797.9 512.20,797.8 512.26,794.0 512.34,793.8 512.42,793.7 512.50,793.6 512.58,797.8 512.66,797.6 512.74,797.5 512.80,797.4 512.82,797.4 512.90,792.3 512.98,792.1 513.06,792.0 513.10,791.9 513.14,791.8 513.22,796.6 513.30,796.4 513.38,796.2 513.40,796.2 513.46,791.1 513.54,790.9 513.62,790.6 513.70,790.3 513.78,795.6 513.86,795.3 513.94,795.0 514.00,794.7 514.02,794.6 514.10,788.2 514.18,787.8 514.26,787.3 514.30,787.1 514.34,786.9 514.42,792.5 514.50,792.0 514.58,791.5 514.60,791.3 514.66,784.3 514.74,783.7 514.82,783.0 514.90,782.2 514.98,787.6 515.06,786.7 515.14,785.7 515.20,784.9 515.22,784.6 515.30,778.2 515.38,776.9 515.46,775.6 515.50,775.0 515.54,774.3 515.62,776.9 515.70,775.4 515.78,773.9 515.80,773.5 515.86,768.3 515.94,766.7 516.02,765.2 516.10,763.7 516.18,767.0 516.26,765.4 516.34,763.8 516.40,762.6 516.42,762.2 516.50,755.6 516.58,754.0 516.66,752.4 516.70,751.6 516.74,750.8 516.82,754.3 516.90,752.6 516.98,750.9 517.00,750.5 517.06,744.0 517.14,742.8 517.22,741.6 517.30,740.6 517.38,744.2 517.46,742.9 517.54,741.5 517.60,740.3 517.62,739.9 517.70,735.1 517.78,733.2 517.86,730.8 517.90,729.5 517.94,728.0 518.02,724.7 518.10,719.6 518.18,715.5 518.20,714.6 518.26,709.7 518.34,706.7 518.42,703.9 518.50,701.1 518.58,699.0 518.66,695.4 518.74,691.2 518.80,687.6 518.82,686.3 518.90,680.8 518.98,675.1 519.06,668.8 519.10,665.5 519.14,671.0 519.22,681.3 519.30,690.5 519.38,698.5 519.40,700.3 519.46,704.9 519.54,710.4 519.62,714.6 519.70,717.8 519.78,721.4 519.86,724.0 519.94,726.4 520.00,728.0 520.02,728.5 520.10,728.7 520.18,730.3 520.26,731.7 520.30,732.3 520.34,733.0 520.42,737.6 520.50,739.0 520.58,740.4 520.60,740.7 520.66,736.6 520.74,737.6 520.82,738.6 520.90,739.5 520.98,745.1 521.06,746.0 521.14,746.9 521.20,747.4 521.22,747.6 521.30,744.1 521.38,744.8 521.46,745.4 521.50,745.7 521.54,746.1 521.62,752.9 521.70,753.7 521.78,754.6 521.80,754.8 521.86,749.2 521.94,750.2 522.02,751.2 522.10,752.2 522.18,758.3 522.26,759.6 522.34,761.1 522.40,762.3 522.42,762.7 522.50,758.8 522.58,760.4 522.66,762.1 522.70,762.9 522.74,763.7 522.82,772.0 522.90,773.5 522.98,775.0 523.00,775.4 523.06,769.5 523.14,771.1 523.22,772.8 523.30,774.6 523.38,782.7 523.46,784.3 523.54,785.7 523.60,786.6 523.62,786.9 523.70,783.4 523.78,784.2 523.86,784.9 523.90,785.1 523.94,785.4 524.02,789.6 524.10,790.0 524.18,790.3 524.20,790.4 524.26,786.8 524.34,787.1 524.42,787.4 524.50,787.7 524.58,791.7 524.66,791.9 524.74,792.1 524.80,792.3 524.82,792.3 524.90,786.8 524.98,786.9 525.06,787.1 525.10,787.2 525.14,787.3 525.22,794.5 525.30,794.7 525.38,794.8 525.40,794.9 525.46,788.6 525.54,788.8 525.62,788.9 525.70,789.1 525.78,795.3 525.86,795.5 525.94,795.6 526.00,795.7 526.02,795.7 526.10,790.9 526.18,791.1 526.26,791.2 526.30,791.2 526.34,791.3 526.42,795.3 526.50,795.4 526.58,795.5 526.60,795.6 526.66,791.1 526.74,791.2 526.82,791.3 526.90,791.4 526.98,796.3 527.06,796.4 527.14,796.5 527.20,796.6 527.22,796.6 527.30,791.4 527.38,791.5 527.46,791.5 527.50,791.6 527.54,791.6 527.62,796.9 527.70,796.9 527.78,797.0 527.80,797.0 527.86,793.0 527.94,793.1 528.02,793.1 528.10,793.2 528.40,797.2 528.70,792.9 529.00,798.3 529.30,791.9 529.60,799.1 529.90,792.9 530.20,798.2 530.50,793.2 530.80,798.3 531.10,793.9 531.40,799.0 531.70,793.8 532.00,799.0 532.30,793.0 532.60,799.0 532.90,793.6 533.20,799.3 533.50,792.7 533.80,799.6 534.10,793.0 534.40,800.1 534.70,793.4 535.00,799.3 535.30,794.4 535.60,798.8 535.90,793.0 536.20,799.5 536.50,793.5 536.80,801.1 537.10,793.4 537.40,799.4 537.70,795.4 538.00,798.8 538.30,794.1 538.60,800.7 538.90,792.6 539.20,799.7 539.50,794.9 539.80,801.4 540.10,793.5 540.40,801.0 540.70,794.2 541.00,798.8 541.30,795.1 541.60,799.3 541.90,794.7 542.20,799.3 542.50,794.5 542.80,800.2 543.10,794.5 543.40,800.0 543.70,794.8 544.00,799.9 544.30,792.7 544.60,801.5 544.90,794.5 545.20,798.9 545.50,795.0 545.80,800.2 546.10,793.7 546.40,799.7 546.70,794.2 547.00,799.8 547.30,794.7 547.60,799.4 547.90,794.9 548.20,798.7 548.50,788.9 548.80,800.0 549.10,788.1 549.40,800.0 549.70,795.0 550.00,800.2 550.30,793.8 550.60,800.8 550.90,793.2 551.20,799.8 551.50,795.1 551.80,798.6 552.10,793.2 552.40,799.7 552.70,793.1 553.00,798.6 553.30,793.4 553.60,799.7 553.90,794.3 554.20,798.6 554.50,794.6 554.80,799.6 555.10,793.1 555.40,799.8 555.70,793.7 556.00,798.4 556.30,794.6 556.60,799.1 556.90,793.5 557.20,799.1 557.50,794.0 557.80,798.9 558.10,793.2 558.40,799.6 558.70,793.2 559.00,799.3 559.30,794.0 559.60,798.9 559.90,793.2 560.20,799.2 560.50,792.8 560.80,800.0 561.10,792.3 561.40,800.8 561.70,792.2 562.00,799.3 562.30,792.8 562.60,799.8 562.90,792.1 563.20,798.6 563.50,792.2 563.80,798.8 564.10,792.6 564.40,798.8 564.70,793.3 565.00,798.9 565.30,792.3 565.60,799.8 565.90,792.7 566.20,798.4 566.50,793.6 566.80,798.4 567.10,793.3 567.40,798.6 567.70,793.7 568.00,798.1 568.30,793.4 568.60,798.5 568.90,792.9 569.20,797.5 569.50,792.7 569.80,797.5 570.10,792.1 570.40,797.3 570.70,793.0 571.00,798.1 571.30,793.1 571.60,798.6 571.90,792.4 572.20,797.1 572.50,793.2 572.80,797.8 573.10,792.5 573.40,797.8 573.70,793.4 574.00,797.0 574.30,792.6 574.60,798.0 574.90,792.0 575.20,798.2 575.50,792.4 575.80,798.0 576.10,792.8 576.40,797.2 576.70,792.2 577.00,796.8 577.30,792.8 577.60,797.1 577.90,792.4 578.20,797.5 578.50,791.4 578.80,797.5 579.10,792.1 579.40,797.4 579.70,790.7 580.00,797.2 580.30,790.0 580.60,797.8 580.90,791.1 581.20,796.7 581.50,791.7 581.80,798.0 582.10,791.4 582.40,797.6 582.70,791.9 583.00,796.0 583.30,792.1 583.60,796.4 583.90,791.0 584.20,797.3 584.50,791.0 584.80,796.5 585.10,791.1 585.40,796.1 585.70,791.9 586.00,795.7 586.30,790.6 586.60,796.7 586.90,790.8 587.20,795.7 587.50,792.0 587.80,795.2 588.10,791.8 588.40,795.5 588.70,791.5 589.00,795.2 589.30,790.0 589.60,796.7 589.90,789.0 590.20,796.1 590.50,790.2 590.80,796.9 591.10,788.0 591.40,797.4 591.70,789.0 592.00,796.1 592.30,790.0 592.60,795.7 592.90,789.4 593.20,795.7 593.50,790.1 593.80,794.6 594.10,788.8 594.40,795.8 594.70,788.7 595.00,794.9 595.30,789.2 595.60,794.6 595.90,787.9 596.20,796.3 596.50,786.7 596.80,796.1 597.10,787.7 597.40,796.6 597.70,788.8 598.00,795.1 598.30,789.2 598.60,793.6 598.90,785.1 599.20,794.4 599.50,784.6 599.80,795.7 600.10,787.7 600.40,796.2 600.70,786.6 601.00,796.2 601.30,786.5 601.60,793.7 601.90,785.5 602.20,793.1 602.50,783.2 602.80,793.4 603.10,787.0 603.40,792.0 603.70,787.8 604.00,792.9 604.30,786.7 604.60,792.4 604.90,785.9 605.20,793.3 605.50,785.5 605.80,792.8 606.10,786.9 606.40,791.8 606.70,787.5 607.00,791.6 607.30,787.1 607.60,791.0 607.90,787.0 608.20,790.9 608.50,786.9 608.80,790.9 609.10,785.6 609.40,791.4 609.70,785.7 610.00,791.3 610.30,786.8 610.60,790.3 610.90,786.1 611.20,791.6 611.50,785.6 611.80,790.8 612.10,785.1 612.40,791.5 612.70,784.3 613.00,791.0 613.30,784.4 613.60,791.6 613.90,784.3 614.20,790.2 614.50,785.0 614.80,789.9 615.10,784.4 615.40,790.5 615.70,784.8 616.00,789.8 616.30,784.8 616.60,789.5 616.90,785.2 617.20,788.5 617.30,784.3 617.38,784.2 617.46,784.2 617.50,784.2 617.54,784.1 617.62,789.9 617.70,789.9 617.78,789.8 617.80,789.8 617.86,783.3 617.94,783.3 618.02,783.2 618.10,783.2 618.18,791.8 618.26,791.7 618.34,791.7 618.40,791.6 618.42,791.6 618.50,783.8 618.58,783.8 618.66,783.7 618.70,783.7 618.74,783.6 618.82,790.9 618.90,790.8 618.98,790.7 619.00,790.7 619.06,783.4 619.14,783.3 619.22,783.2 619.30,783.2 619.38,787.6 619.46,787.5 619.54,787.4 619.60,787.3 619.62,787.3 619.70,781.8 619.78,781.7 619.86,781.6 619.90,781.6 619.94,781.5 620.02,787.0 620.10,786.9 620.18,786.8 620.20,786.7 620.26,780.9 620.34,780.8 620.42,780.7 620.50,780.5 620.58,789.3 620.66,789.2 620.74,789.1 620.80,788.9 620.82,788.9 620.90,780.3 620.98,780.2 621.06,780.0 621.10,779.9 621.14,779.8 621.22,788.4 621.30,788.3 621.38,788.1 621.40,788.0 621.46,777.7 621.54,777.5 621.62,777.3 621.70,777.2 621.78,784.2 621.86,784.0 621.94,783.8 622.00,783.6 622.02,783.6 622.10,775.6 622.18,775.4 622.26,775.1 622.30,775.0 622.34,774.9 622.42,782.2 622.50,781.9 622.58,781.6 622.60,781.6 622.66,774.4 622.74,774.1 622.82,773.8 622.90,773.5 622.98,780.5 623.06,780.2 623.14,779.8 623.20,779.5 623.22,779.4 623.30,772.4 623.38,772.0 623.46,771.6 623.50,771.4 623.54,771.2 623.62,776.2 623.70,775.7 623.78,775.1 623.80,775.0 623.86,767.8 623.94,767.3 624.02,766.8 624.10,766.3 624.18,772.5 624.26,771.7 624.34,771.0 624.40,770.4 624.42,770.1 624.50,764.4 624.58,763.7 624.66,763.0 624.70,762.5 624.74,762.1 624.82,764.9 624.90,763.6 624.98,762.2 625.00,761.8 625.06,757.5 625.14,756.2 625.22,754.8 625.30,753.3 625.38,754.1 625.46,752.3 625.54,750.6 625.60,749.3 625.62,748.9 625.70,746.2 625.78,744.7 625.86,743.0 625.90,742.0 625.94,741.1 626.02,739.2 626.10,736.9 626.18,734.3 626.20,733.6 626.26,731.6 626.30,730.2 626.34,731.4 626.42,733.7 626.50,735.9 626.58,738.1 626.66,740.2 626.74,742.2 626.80,743.6 626.82,744.1 626.90,744.7 626.98,746.1 627.06,747.4 627.10,748.0 627.14,748.5 627.22,752.1 627.30,753.3 627.38,754.4 627.40,754.7 627.46,752.0 627.54,752.6 627.62,753.1 627.70,753.6 627.78,757.5 627.86,758.1 627.94,758.6 628.00,759.0 628.02,759.1 628.10,755.4 628.18,755.6 628.26,755.7 628.30,755.7 628.34,755.7 628.42,761.0 628.50,761.1 628.58,761.1 628.60,761.1 628.66,756.0 628.74,755.8 628.82,755.6 628.90,755.4 628.98,759.9 629.06,759.6 629.14,759.3 629.20,759.0 629.22,758.9 629.30,754.1 629.38,753.6 629.46,753.2 629.50,752.9 629.54,752.7 629.62,756.8 629.70,756.3 629.78,755.8 629.80,755.7 629.86,750.9 629.94,750.4 630.02,749.9 630.10,749.4 630.18,752.9 630.26,752.4 630.34,751.9 630.40,751.6 630.42,751.4 630.50,746.3 630.58,745.8 630.66,745.2 630.70,744.9 630.74,744.7 630.82,749.6 630.90,749.0 630.98,748.3 631.00,748.1 631.06,741.5 631.14,740.8 631.22,740.0 631.30,739.2 631.38,743.8 631.46,742.9 631.54,741.8 631.60,741.0 631.62,740.7 631.70,734.4 631.78,733.0 631.86,731.5 631.90,730.6 631.94,729.7 632.02,733.4 632.10,731.3 632.18,729.1 632.20,728.5 632.26,719.7 632.34,717.4 632.42,715.1 632.50,713.0 632.58,718.7 632.66,717.0 632.74,715.8 632.80,715.2 632.82,715.0 632.90,708.8 632.98,707.9 633.06,706.7 633.10,705.8 633.14,704.8 633.22,706.9 633.30,703.0 633.38,599.2 633.40,578.3 633.46,559.7 633.54,546.0 633.62,535.9 633.70,528.6 633.78,528.3 633.86,523.3 633.94,517.5 634.00,511.7 634.02,509.6 634.10,497.2 634.18,488.6 634.26,477.2 634.30,470.9 634.34,464.2 634.42,453.8 634.50,437.0 634.58,418.1 634.60,413.0 634.66,391.4 634.74,367.2 634.82,356.3 634.90,356.3 634.98,356.3 635.06,356.3 635.14,356.3 635.20,356.3 635.22,356.3 635.30,356.3 635.38,356.3 635.46,356.3 635.50,356.3 635.54,356.3 635.62,356.3 635.70,356.3 635.78,356.3 635.80,356.3 635.86,356.3 635.94,356.3 636.02,356.3 636.10,356.3 636.18,356.3 636.26,364.4 636.34,386.2 636.40,400.6 636.42,405.0 636.50,413.9 636.58,427.6 636.66,439.1 636.70,444.0 636.74,448.5 636.82,462.5 636.90,467.5 636.98,472.0 637.00,473.3 637.06,469.9 637.14,474.0 637.22,477.7 637.30,481.8 637.38,494.9 637.46,501.6 637.54,510.7 637.60,519.3 637.62,522.5 637.70,529.2 637.78,670.2 637.86,688.2 637.90,691.3 637.94,693.8 638.02,704.3 638.10,706.3 638.18,707.9 638.20,708.3 638.26,704.3 638.34,706.7 638.42,710.3 638.50,716.9 638.58,732.3 638.66,743.8 638.74,752.8 638.80,757.1 638.82,758.1 638.90,756.3 638.98,757.8 639.06,759.1 639.10,759.7 639.14,760.2 639.22,765.4 639.30,766.2 639.38,766.8 639.40,767.0 639.46,762.0 639.54,762.5 639.62,763.0 639.70,763.5 639.78,769.9 639.86,770.3 639.94,770.8 640.00,771.1 640.02,771.2 640.10,765.8 640.18,766.1 640.26,766.5 640.30,766.6 640.34,766.8 640.42,775.2 640.50,775.5 640.58,775.8 640.60,775.8 640.66,765.3 640.74,765.6 640.82,765.8 640.90,766.1 640.98,776.3 641.06,776.5 641.14,776.7 641.20,776.9 641.22,776.9 641.30,770.3 641.38,770.5 641.46,770.7 641.50,770.8 641.54,770.8 641.62,776.6 641.70,776.8 641.78,776.9 641.80,777.0 641.86,770.8 641.94,771.0 642.02,771.1 642.10,771.3 642.18,778.4 642.26,778.5 642.34,778.7 642.40,778.8 642.42,778.8 642.50,772.6 642.58,772.7 642.66,772.8 642.70,772.9 642.74,772.9 642.82,777.7 642.90,777.8 642.98,777.9 643.00,778.0 643.06,773.8 643.14,773.9 643.22,774.0 643.30,774.1 643.38,779.3 643.46,779.5 643.54,779.6 643.60,779.7 643.62,779.7 643.70,774.1 643.78,774.2 643.86,774.4 643.90,774.4 643.94,774.5 644.02,780.3 644.10,780.4 644.18,780.5 644.20,780.5 644.26,774.8 644.34,774.9 644.42,775.0 644.50,775.1 644.80,781.0 645.10,776.6 645.40,781.6 645.70,776.9 646.00,783.9 646.30,775.1 646.60,783.7 646.90,778.1 647.20,782.5 647.50,778.8 647.80,784.0 648.10,778.7 648.40,784.1 648.70,779.5 649.00,785.0 649.30,779.8 649.60,786.8 649.90,780.2 650.20,787.0 650.50,777.7 650.80,784.7 651.10,777.6 651.40,785.3 651.70,778.4 651.78,784.8 651.86,784.8 651.94,784.7 652.00,784.7 652.02,784.7 652.10,779.0 652.18,778.9 652.26,778.9 652.30,778.9 652.34,778.8 652.42,783.5 652.50,783.4 652.58,783.4 652.60,783.4 652.66,778.9 652.74,778.9 652.82,778.8 652.90,778.8 652.98,782.9 653.06,782.9 653.14,782.8 653.20,782.8 653.22,782.7 653.30,778.6 653.38,778.5 653.46,778.5 653.50,778.4 653.54,778.4 653.62,783.1 653.70,783.0 653.78,782.9 653.80,782.9 653.86,777.4 653.94,777.3 654.02,777.2 654.10,777.1 654.18,783.1 654.26,783.0 654.34,782.9 654.40,782.8 654.42,782.8 654.50,775.8 654.58,775.7 654.66,775.5 654.70,775.5 654.74,775.4 654.82,780.4 654.90,780.2 654.98,780.1 655.00,780.0 655.06,776.2 655.14,776.1 655.22,775.9 655.30,775.7 655.38,779.7 655.46,779.5 655.54,779.3 655.60,779.2 655.62,779.1 655.70,773.5 655.78,773.3 655.86,773.1 655.90,773.0 655.94,772.8 656.02,779.3 656.10,779.1 656.18,778.8 656.20,778.7 656.26,770.9 656.34,770.6 656.42,770.3 656.50,770.0 656.58,777.9 656.66,777.6 656.74,777.2 656.80,777.0 656.82,776.9 656.90,769.7 656.98,769.3 657.06,769.0 657.10,768.7 657.14,768.5 657.22,773.4 657.30,772.9 657.38,772.5 657.40,772.3 657.46,767.9 657.54,767.4 657.62,766.9 657.70,766.4 657.78,769.6 657.86,769.0 657.94,768.4 658.00,768.0 658.02,767.8 658.10,763.0 658.18,762.4 658.26,761.8 658.30,761.4 658.34,761.1 658.42,765.2 658.50,764.4 658.58,763.5 658.60,763.2 658.66,757.8 658.74,756.9 658.82,756.1 658.90,755.2 658.98,757.8 659.06,756.7 659.14,755.6 659.20,754.8 659.22,754.6 659.30,750.8 659.38,750.1 659.46,749.3 659.50,749.0 659.54,748.7 659.62,749.7 659.70,749.0 659.78,748.4 659.80,748.3 659.86,746.3 659.94,745.9 660.02,745.6 660.10,745.2 660.18,745.6 660.26,745.1 660.34,744.7 660.40,744.4 660.42,744.3 660.50,743.8 660.58,743.7 660.66,743.5 660.70,743.5 660.74,743.5 660.82,743.7 660.90,744.0 660.98,744.3 661.00,744.4 661.06,744.4 661.14,744.8 661.22,745.1 661.30,745.5 661.38,746.7 661.46,747.3 661.54,748.0 661.60,748.4 661.62,748.6 661.70,748.0 661.78,748.5 661.86,749.1 661.90,749.5 661.94,749.8 662.02,752.4 662.10,753.4 662.18,754.4 662.20,754.7 662.26,752.7 662.34,753.6 662.42,754.5 662.50,755.4 662.58,761.4 662.66,762.5 662.74,763.5 662.80,764.2 662.82,764.5 662.90,758.8 662.98,759.5 663.06,760.2 663.10,760.5 663.14,760.8 663.22,767.8 663.30,768.4 663.38,769.1 663.40,769.2 663.46,763.7 663.54,764.2 663.62,764.8 663.70,765.3 663.78,771.0 663.86,771.5 663.94,772.0 664.00,772.4 664.02,772.5 664.10,768.8 664.18,769.2 664.26,769.7 664.30,769.9 664.34,770.1 664.42,774.7 664.50,775.1 664.58,775.5 664.60,775.6 664.66,771.2 664.74,771.6 664.82,771.9 664.90,772.2 664.98,778.3 665.06,778.6 665.14,778.9 665.20,779.1 665.22,779.2 665.30,771.1 665.38,771.4 665.46,771.6 665.50,771.7"/></g>
<g clip-path="url(#cc)"><polyline fill="none" stroke-width="4.1" stroke-linejoin="round" stroke-linecap="butt" stroke="#ff0000" points="65.50,958.1 65.80,977.0 66.10,959.1 66.40,972.7 66.70,957.2 67.00,974.4 67.30,958.2 67.60,970.5 67.90,955.7 68.20,972.9 68.50,957.0 68.80,971.4 69.10,954.6 69.40,968.3 69.70,950.5 70.00,968.6 70.30,952.9 70.60,967.4 70.90,952.8 71.20,964.9 71.50,951.5 71.80,964.1 72.10,949.2 72.40,965.3 72.70,948.3 73.00,962.3 73.30,947.9 73.60,964.0 73.90,943.9 74.20,966.3 74.50,945.0 74.80,961.4 75.10,945.6 75.40,959.0 75.70,944.9 76.00,957.7 76.30,943.4 76.60,955.7 76.90,943.7 77.20,959.3 77.50,943.8 77.80,957.4 78.10,941.1 78.40,959.6 78.70,940.5 79.00,959.9 79.30,946.5 79.60,958.5 79.90,946.3 80.20,958.8 80.50,943.1 80.80,964.5 81.10,945.9 81.40,960.7 81.70,949.7 82.00,962.0 82.30,950.1 82.60,963.6 82.90,952.6 83.20,966.3 83.50,953.0 83.80,965.9 84.10,954.6 84.40,968.7 84.70,956.6 85.00,973.0 85.30,956.5 85.60,973.2 85.90,960.8 86.20,975.1 86.50,961.4 86.80,976.3 87.10,963.0 87.40,979.6 87.70,965.6 88.00,982.9 88.30,966.2 88.60,983.1 88.90,969.1 89.20,984.1 89.50,969.8 89.80,987.1 90.10,977.0 90.40,989.5 90.70,978.8 91.00,992.2 91.30,981.5 91.60,995.0 91.90,981.6 92.20,999.6 92.50,983.0 92.80,1003.8 93.10,989.5 93.40,1003.7 93.70,982.0 94.00,1010.8 94.30,985.6 94.60,1014.9 94.90,999.7 95.20,1017.8 95.50,1001.9 95.80,1022.0 96.10,1006.8 96.40,1021.8 96.70,1010.5 97.00,1027.4 97.30,1013.5 97.60,1028.1 97.90,1017.4 98.20,1031.7 98.50,1020.2 98.80,1035.6 99.10,1025.4 99.40,1039.7 99.70,1026.1 100.00,1044.1 100.30,1028.7 100.60,1052.8 100.90,1028.4 101.20,1054.1 101.50,1036.6 101.80,1052.5 102.10,1041.6 102.40,1055.5 102.70,1044.3 103.00,1063.0 103.30,1047.8 103.60,1063.1 103.90,1050.7 104.20,1064.1 104.50,1052.9 104.80,1071.8 105.10,1051.8 105.40,1075.4 105.70,1059.2 106.00,1073.5 106.30,1064.1 106.60,1078.5 106.90,1064.3 107.20,1081.6 107.50,1068.8 107.80,1083.3 108.10,1073.0 108.40,1087.3 108.70,1074.5 109.00,1089.8 109.30,1079.3 109.60,1090.2 109.90,1081.2 110.20,1093.4 110.50,1083.7 110.80,1095.4 111.10,1086.7 111.40,1098.7 111.70,1087.2 112.00,1107.0 112.30,1084.8 112.60,1110.8 112.90,1090.1 113.20,1110.5 113.50,1095.3 113.80,1108.1 114.10,1099.6 114.40,1117.8 114.70,1102.3 115.00,1120.7 115.30,1101.9 115.60,1119.7 115.90,1103.2 116.20,1125.3 116.50,1104.2 116.80,1125.0 117.10,1110.8 117.40,1123.1 117.70,1114.3 118.00,1126.4 118.30,1113.6 118.60,1130.3 118.90,1116.1 119.20,1128.4 119.50,1116.8 119.80,1135.9 120.10,1118.7 120.40,1133.9 120.70,1123.3 121.00,1134.7 121.30,1126.0 121.60,1141.1 121.90,1122.4 122.20,1145.3 122.50,1126.5 122.80,1141.0 123.10,1129.5 123.40,1143.0 123.70,1132.2 124.00,1146.7 124.30,1133.9 124.60,1148.2 124.90,1137.4 125.20,1147.7 125.50,1139.9 125.80,1151.4 126.10,1141.6 126.40,1150.4 126.70,1142.9 127.00,1153.5 127.30,1144.4 127.60,1155.5 127.90,1146.9 128.20,1157.6 128.50,1146.7 128.80,1161.9 129.10,1147.1 129.40,1165.6 129.70,1152.0 130.00,1168.7 130.30,1148.9 130.60,1168.2 130.90,1152.0 131.20,1164.9 131.50,1153.8 131.80,1169.9 132.10,1155.0 132.40,1169.9 132.70,1160.0 133.00,1170.1 133.30,1160.7 133.60,1170.2 133.90,1161.0 134.20,1173.7 134.50,1164.5 134.80,1174.5 135.10,1166.7 135.40,1182.2 135.70,1168.9 136.00,1182.7 136.30,1168.7 136.60,1179.2 136.90,1169.3 137.20,1182.4 137.50,1169.8 137.80,1183.4 138.10,1172.7 138.40,1184.9 138.70,1174.2 139.00,1184.9 139.30,1175.4 139.60,1188.4 139.90,1177.0 140.20,1185.7 140.50,1179.1 140.80,1189.6 141.10,1179.0 141.40,1189.2 141.70,1178.7 142.00,1193.8 142.30,1180.2 142.60,1190.5 142.90,1181.5 143.20,1194.3 143.50,1183.3 143.80,1194.0 144.10,1185.5 144.40,1194.2 144.70,1187.3 145.00,1195.8 145.30,1186.9 145.60,1194.7 145.90,1188.1 146.20,1198.2 146.50,1185.9 146.80,1200.9 147.10,1187.0 147.40,1201.6 147.70,1189.5 148.00,1200.4 148.30,1189.0 148.60,1203.9 148.90,1188.8 149.20,1202.4 149.50,1190.8 149.80,1202.4 150.10,1190.5 150.40,1207.3 150.70,1193.4 151.00,1207.4 151.30,1195.6 151.60,1204.5 151.90,1194.8 152.20,1205.5 152.50,1196.7 152.80,1204.4 153.10,1198.4 153.40,1205.1 153.70,1198.0 154.00,1206.8 154.30,1197.8 154.60,1207.6 154.90,1197.0 155.20,1210.4 155.50,1196.3 155.80,1210.2 156.10,1198.9 156.40,1207.6 156.70,1202.0 157.00,1208.9 157.30,1201.1 157.60,1209.7 157.90,1201.7 158.20,1209.9 158.50,1201.9 158.80,1211.4 159.10,1203.7 159.40,1210.9 159.70,1204.8 160.00,1212.1 160.30,1204.0 160.60,1213.9 160.90,1203.6 161.20,1211.8 161.50,1203.7 161.80,1215.8 162.10,1204.1 162.40,1213.5 162.70,1204.8 163.00,1215.5 163.30,1206.2 163.60,1214.4 163.90,1205.7 164.20,1215.4 164.50,1206.3 164.80,1214.9 165.10,1207.6 165.40,1216.5 165.70,1207.6 166.00,1218.2 166.30,1207.2 166.60,1218.0 166.90,1207.2 167.20,1217.6 167.50,1209.2 167.80,1218.7 168.10,1207.4 168.40,1218.8 168.70,1207.4 169.00,1217.9 169.30,1210.2 169.60,1217.3 169.90,1209.4 170.20,1219.1 170.50,1210.2 170.80,1220.0 171.10,1210.8 171.40,1219.8 171.70,1211.5 172.00,1218.7 172.30,1210.9 172.60,1222.0 172.90,1209.5 173.20,1223.4 173.50,1211.1 173.80,1222.0 174.10,1211.4 174.40,1221.1 174.70,1213.2 175.00,1221.9 175.30,1213.3 175.60,1222.5 175.90,1213.2 176.20,1221.2 176.50,1213.4 176.80,1221.7 177.10,1212.5 177.40,1224.4 177.70,1212.7 178.00,1222.1 178.30,1215.2 178.60,1221.8 178.90,1215.0 179.20,1222.5 179.50,1215.5 179.80,1224.4 180.10,1213.4 180.40,1222.9 180.70,1214.8 181.00,1223.3 181.30,1215.9 181.60,1223.4 181.90,1214.0 182.20,1224.6 182.50,1209.5 182.80,1226.3 183.10,1208.2 183.40,1228.6 183.70,1212.3 184.00,1224.1 184.30,1215.5 184.60,1223.3 184.90,1214.4 185.20,1224.1 185.50,1216.0 185.80,1223.5 186.10,1215.8 186.40,1222.5 186.70,1214.8 187.00,1222.1 187.30,1216.7 187.60,1223.0 187.90,1214.7 188.20,1223.5 188.50,1215.2 188.80,1223.8 189.10,1216.5 189.40,1223.1 189.70,1215.9 190.00,1224.6 190.30,1215.1 190.60,1224.4 190.90,1216.4 191.20,1224.6 191.50,1215.2 191.80,1223.6 192.10,1214.7 192.40,1226.3 192.70,1213.8 193.00,1223.5 193.30,1216.6 193.60,1223.7 193.90,1215.5 194.20,1226.0 194.50,1213.1 194.80,1228.2 195.10,1212.7 195.40,1226.3 195.70,1214.3 196.00,1224.4 196.30,1215.4 196.60,1224.1 196.90,1215.7 197.20,1222.6 197.50,1215.0 197.80,1225.6 198.10,1215.7 198.40,1224.0 198.70,1215.0 199.00,1224.6 199.30,1213.2 199.60,1222.6 199.90,1215.8 200.20,1224.0 200.50,1215.3 200.80,1227.8 201.10,1214.2 201.40,1229.6 201.70,1213.1 202.00,1224.8 202.30,1215.6 202.60,1226.0 202.90,1214.6 203.20,1225.7 203.50,1213.5 203.80,1223.9 204.10,1216.8 204.40,1223.1 204.70,1216.4 205.00,1223.3 205.30,1217.0 205.60,1224.1 205.90,1216.6 206.20,1224.0 206.50,1216.2 206.80,1223.4 207.10,1215.7 207.40,1226.3 207.70,1212.7 208.00,1226.1 208.30,1216.1 208.60,1224.3 208.90,1216.8 209.20,1223.6 209.50,1216.5 209.80,1224.4 210.10,1215.8 210.40,1225.0 210.70,1216.0 211.00,1226.2 211.30,1213.9 211.60,1225.2 211.90,1216.8 212.20,1223.5 212.50,1216.7 212.80,1224.3 213.10,1215.1 213.40,1227.8 213.70,1212.3 214.00,1228.6 214.30,1213.8 214.60,1226.9 214.90,1216.2 215.20,1224.0 215.50,1217.5 215.80,1224.6 216.10,1215.4 216.40,1225.4 216.70,1215.1 217.00,1224.8 217.30,1218.2 217.60,1226.9 217.90,1214.7 218.20,1226.1 218.50,1216.7 218.80,1224.5 219.10,1214.4 219.40,1223.7 219.70,1215.8 220.00,1224.9 220.30,1217.5 220.60,1230.2 220.90,1217.4 221.20,1231.4 221.50,1217.0 221.80,1225.3 222.10,1215.8 222.40,1225.9 222.70,1217.9 223.00,1224.6 223.30,1217.8 223.60,1224.8 223.90,1218.4 224.20,1224.6 224.50,1218.4 224.80,1224.4 225.10,1218.1 225.40,1224.4 225.70,1218.9 226.00,1225.4 226.30,1217.3 226.60,1225.7 226.90,1217.9 227.20,1226.1 227.50,1217.0 227.80,1227.7 228.10,1217.9 228.40,1226.8 228.70,1219.5 229.00,1226.2 229.30,1218.3 229.60,1228.6 229.90,1218.1 230.20,1227.0 230.50,1219.2 230.80,1227.8 231.10,1217.4 231.40,1227.6 231.70,1220.2 232.00,1227.1 232.30,1218.8 232.60,1227.2 232.90,1219.3 233.20,1227.7 233.50,1219.4 233.80,1226.5 234.10,1219.2 234.40,1230.7 234.70,1220.8 235.00,1230.0 235.30,1220.4 235.60,1227.6 235.90,1219.1 236.20,1229.2 236.50,1218.4 236.80,1228.6 237.10,1216.3 237.40,1230.5 237.70,1219.6 238.00,1227.8 238.30,1221.0 238.60,1227.9 238.90,1219.3 239.20,1229.7 239.50,1218.5 239.80,1229.8 240.10,1220.1 240.40,1229.7 240.70,1222.4 241.00,1230.6 241.30,1219.4 241.60,1231.6 241.90,1217.8 242.20,1231.5 242.50,1220.1 242.80,1230.4 243.10,1220.9 243.40,1229.6 243.70,1221.5 244.00,1229.9 244.30,1221.2 244.60,1231.4 244.90,1220.1 245.20,1229.4 245.50,1221.3 245.80,1230.5 246.10,1222.1 246.40,1230.4 246.70,1220.9 247.00,1232.1 247.30,1219.6 247.60,1230.4 247.90,1223.6 248.20,1231.7 248.50,1220.2 248.80,1232.7 249.10,1221.7 249.40,1231.3 249.70,1222.3 250.00,1230.5 250.30,1221.7 250.60,1233.2 250.90,1220.0 251.20,1233.8 251.50,1223.1 251.80,1231.9 252.10,1220.3 252.40,1232.8 252.70,1224.7 253.00,1232.3 253.30,1220.7 253.60,1232.4 253.90,1224.0 254.20,1231.8 254.50,1221.0 254.80,1232.7 255.10,1222.9 255.40,1234.3 255.70,1220.8 256.00,1233.5 256.30,1224.2 256.60,1230.5 256.90,1224.0 257.20,1234.5 257.50,1221.8 257.80,1231.3 258.10,1223.9 258.40,1232.9 258.70,1224.3 259.00,1231.9 259.30,1222.1 259.60,1234.0 259.90,1223.5 260.20,1232.5 260.50,1223.0 260.80,1233.9 261.10,1223.3 261.40,1234.0 261.70,1223.2 262.00,1235.4 262.30,1224.3 262.60,1234.6 262.90,1224.3 263.20,1235.2 263.50,1225.0 263.80,1235.4 264.10,1222.6 264.40,1236.1 264.70,1221.9 265.00,1234.1 265.30,1224.5 265.60,1233.0 265.90,1223.3 266.20,1233.7 266.50,1224.4 266.80,1232.0 267.10,1225.1 267.40,1233.1 267.70,1222.4 268.00,1238.3 268.30,1221.6 268.60,1239.8 268.90,1221.5 269.20,1235.3 269.50,1223.3 269.80,1234.5 270.10,1222.9 270.40,1234.6 270.70,1222.4 271.00,1236.0 271.30,1222.4 271.60,1234.9 271.90,1222.4 272.20,1236.2 272.50,1222.9 272.80,1233.7 273.10,1225.4 273.40,1232.9 273.70,1226.4 274.00,1231.7 274.30,1225.5 274.60,1234.8 274.90,1222.9 275.20,1234.2 275.50,1221.2 275.80,1233.9 276.10,1221.0 276.40,1233.0 276.70,1224.6 277.00,1235.2 277.30,1223.0 277.60,1235.9 277.90,1221.3 278.20,1234.9 278.50,1225.5 278.80,1232.6 279.10,1225.9 279.40,1233.6 279.70,1224.3 280.00,1232.3 280.30,1226.0 280.60,1233.8 280.90,1223.7 281.20,1235.6 281.50,1222.9 281.80,1234.2 282.10,1226.3 282.40,1235.0 282.70,1222.3 283.00,1236.1 283.30,1223.0 283.60,1232.0 283.90,1223.2 284.20,1233.7 284.50,1224.4 284.80,1232.7 285.10,1225.2 285.40,1231.6 285.70,1226.1 286.00,1231.7 286.30,1224.1 286.60,1232.5 286.90,1224.2 287.20,1231.8 287.50,1223.7 287.80,1231.2 288.10,1223.5 288.40,1230.6 288.70,1223.0 289.00,1230.8 289.30,1223.5 289.60,1232.0 289.90,1222.9 290.20,1230.1 290.28,1223.8 290.36,1223.7 290.44,1223.7 290.50,1223.7 290.52,1223.6 290.60,1229.5 290.68,1229.5 290.76,1229.4 290.80,1229.4 290.84,1229.4 290.92,1221.8 291.00,1221.7 291.08,1221.7 291.10,1221.6 291.16,1230.4 291.24,1230.4 291.32,1230.3 291.40,1230.2 291.48,1221.4 291.56,1221.3 291.64,1221.2 291.70,1221.2 291.72,1221.2 291.80,1228.5 291.88,1228.5 291.96,1228.4 292.00,1228.3 292.04,1228.3 292.12,1221.7 292.20,1221.6 292.28,1221.5 292.30,1221.5 292.36,1228.2 292.44,1228.1 292.52,1228.0 292.60,1227.8 292.68,1221.6 292.76,1221.4 292.84,1221.2 292.90,1221.1 292.92,1221.0 293.00,1226.5 293.08,1226.3 293.16,1226.1 293.20,1226.0 293.24,1225.9 293.32,1218.9 293.40,1218.6 293.48,1218.3 293.50,1218.3 293.56,1225.6 293.64,1225.3 293.72,1225.0 293.80,1224.7 293.88,1216.2 293.96,1215.8 294.04,1215.5 294.10,1215.2 294.12,1215.1 294.20,1227.5 294.28,1227.1 294.36,1226.7 294.40,1226.5 294.44,1226.3 294.52,1211.8 294.60,1211.4 294.68,1210.9 294.70,1210.7 294.76,1225.4 294.84,1224.9 294.92,1224.4 295.00,1223.8 295.08,1210.3 295.16,1209.6 295.24,1208.9 295.30,1208.3 295.32,1208.1 295.40,1214.9 295.48,1214.1 295.56,1213.2 295.60,1212.7 295.64,1212.3 295.72,1203.0 295.80,1201.9 295.88,1200.8 295.90,1200.5 295.96,1207.7 296.04,1206.5 296.12,1205.2 296.20,1203.9 296.28,1195.4 296.36,1194.0 296.44,1192.5 296.50,1191.4 296.52,1191.1 296.60,1198.3 296.68,1196.7 296.76,1195.0 296.80,1194.2 296.84,1193.4 296.92,1183.4 297.00,1181.9 297.08,1180.2 297.10,1179.8 297.16,1184.3 297.24,1182.3 297.32,1180.3 297.40,1178.2 297.48,1170.0 297.56,1168.0 297.64,1166.1 297.70,1164.6 297.72,1164.1 297.80,1168.4 297.88,1166.0 297.96,1163.6 298.00,1162.5 298.04,1161.3 298.12,1154.2 298.20,1152.6 298.28,1151.2 298.30,1150.8 298.36,1153.1 298.44,1151.4 298.52,1149.8 298.60,1148.2 298.68,1145.3 298.76,1144.2 298.84,1143.3 298.90,1142.6 298.92,1142.3 299.00,1141.7 299.08,1140.8 299.16,1140.1 299.20,1139.8 299.24,1140.1 299.32,1140.7 299.40,1141.5 299.48,1142.4 299.50,1142.6 299.56,1143.9 299.64,1145.1 299.72,1146.5 299.80,1147.9 299.88,1147.6 299.96,1148.7 300.04,1149.9 300.10,1150.9 300.12,1151.2 300.20,1157.5 300.28,1159.7 300.36,1162.0 300.40,1163.2 300.44,1164.4 300.52,1158.6 300.60,1160.5 300.68,1162.3 300.70,1162.8 300.76,1173.6 300.84,1175.9 300.92,1178.2 301.00,1180.4 301.08,1173.6 301.16,1175.3 301.24,1177.1 301.30,1178.3 301.32,1178.7 301.40,1187.8 301.48,1189.4 301.56,1191.1 301.60,1191.9 301.64,1192.7 301.72,1186.4 301.80,1187.9 301.88,1189.4 301.90,1189.8 301.96,1199.1 302.04,1200.5 302.12,1201.9 302.20,1203.3 302.28,1197.5 302.36,1198.7 302.44,1200.0 302.50,1200.8 302.52,1201.1 302.60,1210.8 302.68,1211.9 302.76,1212.9 302.80,1213.3 302.84,1213.8 302.92,1206.0 303.00,1206.8 303.08,1207.6 303.10,1207.8 303.16,1217.2 303.24,1217.9 303.32,1218.6 303.40,1219.2 303.48,1210.4 303.56,1210.9 303.64,1211.4 303.70,1211.8 303.72,1211.9 303.80,1221.5 303.88,1221.9 303.96,1222.4 304.00,1222.6 304.04,1222.8 304.12,1214.5 304.20,1214.9 304.28,1215.3 304.30,1215.4 304.36,1223.3 304.44,1223.6 304.52,1223.9 304.60,1224.3 304.68,1216.2 304.76,1216.5 304.84,1216.8 304.90,1217.0 304.92,1217.0 305.00,1224.8 305.08,1225.0 305.16,1225.2 305.20,1225.3 305.24,1225.5 305.32,1219.4 305.40,1219.6 305.48,1219.8 305.50,1219.8 305.56,1226.9 305.64,1227.0 305.72,1227.2 305.80,1227.3 305.88,1220.0 305.96,1220.1 306.04,1220.2 306.10,1220.3 306.12,1220.3 306.20,1236.7 306.28,1236.8 306.36,1236.9 306.40,1236.9 306.44,1237.0 306.52,1220.2 306.60,1220.3 306.68,1220.4 306.70,1220.4 306.76,1237.8 306.84,1237.9 306.92,1237.9 307.00,1238.0 307.08,1220.3 307.16,1220.4 307.24,1220.4 307.30,1220.5 307.32,1220.5 307.40,1229.3 307.48,1229.3 307.56,1229.4 307.60,1229.4 307.64,1229.4 307.72,1223.2 307.80,1223.2 307.88,1223.3 307.90,1223.3 307.96,1229.5 308.04,1229.6 308.12,1229.6 308.20,1229.7 308.50,1222.4 308.80,1235.5 309.10,1220.0 309.40,1235.6 309.70,1220.5 310.00,1231.3 310.30,1221.7 310.60,1230.8 310.90,1221.8 311.20,1232.3 311.50,1219.2 311.80,1235.7 312.10,1219.5 312.40,1233.8 312.70,1220.2 313.00,1233.2 313.30,1222.6 313.60,1231.8 313.90,1220.6 314.20,1233.2 314.50,1223.2 314.80,1229.6 315.10,1224.4 315.40,1231.4 315.70,1223.3 316.00,1232.1 316.30,1223.2 316.60,1230.3 316.90,1221.5 317.20,1232.9 317.50,1220.5 317.80,1233.2 318.10,1222.6 318.40,1230.6 318.70,1224.0 319.00,1231.1 319.30,1223.1 319.60,1231.0 319.90,1223.1 320.20,1231.5 320.50,1222.4 320.80,1231.7 321.10,1222.4 321.40,1231.0 321.70,1222.5 322.00,1230.9 322.30,1220.3 322.60,1232.7 322.90,1221.2 323.20,1229.2 323.50,1221.8 323.80,1230.1 324.10,1222.2 324.40,1228.7 324.70,1222.8 325.00,1230.0 325.30,1220.1 325.60,1231.5 325.90,1217.9 326.20,1231.1 326.50,1219.7 326.80,1230.0 327.10,1221.3 327.40,1228.6 327.70,1220.5 328.00,1227.3 328.30,1220.0 328.60,1227.6 328.90,1220.0 329.20,1228.8 329.50,1218.0 329.80,1226.9 330.10,1220.1 330.40,1226.9 330.70,1218.5 331.00,1227.7 331.30,1219.6 331.60,1226.6 331.90,1219.1 332.20,1225.2 332.50,1218.3 332.80,1227.0 333.10,1216.5 333.40,1228.0 333.70,1216.4 334.00,1226.2 334.30,1217.4 334.60,1224.6 334.90,1217.3 335.20,1223.8 335.50,1216.5 335.80,1225.3 336.10,1215.5 336.40,1223.6 336.70,1216.9 337.00,1223.8 337.30,1215.8 337.60,1222.5 337.90,1214.7 338.20,1222.9 338.50,1215.2 338.80,1221.7 339.10,1213.6 339.40,1221.8 339.70,1213.3 340.00,1220.9 340.30,1211.4 340.60,1219.1 340.90,1211.3 341.20,1222.5 341.50,1209.1 341.80,1220.0 342.00,1210.5 342.08,1210.3 342.10,1210.3 342.16,1217.5 342.24,1217.4 342.32,1217.2 342.40,1217.1 342.48,1210.4 342.56,1210.3 342.64,1210.1 342.70,1210.0 342.72,1210.0 342.80,1216.4 342.88,1216.2 342.96,1216.1 343.00,1216.0 343.04,1215.9 343.12,1209.8 343.20,1209.6 343.28,1209.5 343.30,1209.4 343.36,1215.2 343.44,1215.0 343.52,1214.9 343.60,1214.7 343.68,1207.1 343.76,1206.9 343.84,1206.7 343.90,1206.5 343.92,1206.5 344.00,1215.3 344.08,1215.1 344.16,1214.9 344.20,1214.8 344.24,1214.7 344.32,1204.1 344.40,1203.8 344.48,1203.6 344.50,1203.5 344.56,1216.2 344.64,1215.9 344.72,1215.6 344.80,1215.3 344.88,1201.7 344.96,1201.3 345.04,1201.0 345.10,1200.7 345.12,1200.6 345.20,1217.5 345.28,1217.1 345.36,1216.7 345.40,1216.5 345.44,1216.3 345.52,1198.2 345.60,1197.7 345.68,1197.1 345.70,1197.0 345.76,1207.6 345.84,1207.1 345.92,1206.5 346.00,1205.8 346.08,1195.6 346.16,1194.8 346.24,1194.0 346.30,1193.4 346.32,1193.1 346.40,1201.7 346.48,1200.7 346.56,1199.7 346.60,1199.0 346.64,1198.3 346.72,1186.6 346.80,1184.7 346.88,1182.5 346.90,1182.0 346.96,1192.3 347.04,1189.9 347.12,1187.4 347.20,1184.9 347.28,1168.8 347.36,1165.6 347.44,1162.3 347.50,1159.8 347.52,1159.0 347.60,1167.6 347.68,1165.0 347.76,1163.1 347.80,1162.2 347.84,1161.4 347.92,1151.7 348.00,1150.2 348.08,1148.7 348.10,1148.4 348.16,1154.5 348.24,1153.3 348.32,1152.2 348.40,1151.1 348.48,1140.8 348.56,1139.8 348.64,1138.7 348.70,1137.8 348.72,1137.5 348.80,1146.5 348.88,1144.6 348.96,1142.4 349.00,1141.2 349.04,1139.8 349.12,1124.8 349.20,1121.5 349.28,1115.7 349.30,1112.1 349.36,1115.6 349.44,1110.7 349.52,1106.7 349.60,1103.4 349.68,1092.4 349.76,1090.6 349.84,1089.0 349.90,1087.7 349.92,1087.3 350.00,1091.1 350.08,1087.8 350.16,1083.6 350.20,1080.7 350.24,1077.8 350.32,1069.8 350.40,1066.7 350.48,1063.9 350.50,1063.2 350.56,1062.9 350.64,1059.5 350.72,1055.9 350.80,1051.7 350.88,1046.3 350.96,1038.8 351.00,1033.9 351.04,1038.8 351.10,1045.5 351.12,1047.6 351.20,1054.8 351.28,1059.3 351.36,1061.3 351.40,1061.9 351.44,1062.3 351.52,1061.0 351.60,1061.6 351.68,1063.1 351.70,1063.8 351.76,1141.5 351.84,1146.5 351.90,1149.3 351.92,1150.0 351.98,1152.0 352.00,1152.5 352.06,1149.4 352.08,1149.7 352.14,1150.3 352.16,1150.5 352.22,1150.9 352.24,1151.0 352.30,1151.3 352.32,1151.5 352.38,1157.1 352.40,1157.4 352.46,1158.4 352.48,1158.8 352.54,1160.1 352.56,1160.5 352.60,1161.3 352.62,1161.7 352.64,1162.2 352.70,1156.9 352.72,1157.2 352.78,1158.1 352.80,1158.5 352.86,1159.4 352.88,1159.7 352.90,1160.0 352.94,1160.6 352.96,1167.4 353.02,1168.5 353.04,1168.8 353.10,1169.8 353.12,1170.1 353.18,1171.0 353.20,1171.3 353.26,1165.0 353.28,1165.3 353.34,1166.0 353.36,1166.3 353.42,1167.0 353.44,1167.2 353.50,1167.9 353.52,1168.1 353.58,1177.0 353.60,1177.3 353.66,1177.9 353.68,1178.2 353.74,1178.8 353.76,1179.0 353.80,1179.4 353.82,1179.6 353.84,1179.8 353.90,1171.5 353.92,1171.6 353.98,1172.1 354.00,1172.3 354.06,1172.7 354.08,1172.9 354.10,1173.0 354.14,1173.3 354.16,1183.8 354.22,1184.2 354.24,1184.3 354.30,1184.7 354.32,1184.8 354.38,1185.2 354.40,1185.3 354.46,1174.7 354.48,1174.8 354.54,1175.1 354.56,1175.2 354.62,1175.4 354.64,1175.5 354.70,1175.7 354.72,1175.8 354.78,1188.3 354.80,1188.4 354.86,1188.5 354.88,1188.6 354.94,1188.7 354.96,1188.7 355.00,1188.7 355.02,1188.7 355.04,1188.7 355.10,1175.6 355.12,1175.5 355.18,1175.3 355.20,1175.2 355.26,1174.9 355.28,1174.8 355.30,1174.6 355.34,1174.3 355.36,1188.8 355.42,1188.3 355.44,1188.1 355.50,1187.4 355.52,1187.2 355.58,1186.4 355.60,1186.1 355.66,1166.6 355.68,1166.3 355.74,1165.2 355.76,1164.8 355.82,1163.7 355.84,1163.3 355.90,1162.1 355.92,1161.7 355.98,1182.8 356.00,1182.4 356.06,1181.0 356.08,1180.5 356.14,1179.0 356.16,1178.4 356.20,1177.3 356.22,1176.7 356.24,1176.1 356.30,1151.8 356.32,1151.1 356.38,1148.8 356.40,1148.0 356.46,1145.5 356.48,1144.6 356.50,1143.7 356.54,1141.8 356.56,1160.3 356.62,1157.4 356.64,1156.3 356.70,1153.1 356.72,1152.0 356.78,1148.4 356.80,1147.2 356.86,1126.4 356.88,1125.0 356.94,1120.5 356.96,1118.9 357.02,1113.9 357.04,1112.1 357.10,1106.6 357.12,1104.6 357.18,1112.4 357.20,1110.3 357.26,1103.7 357.28,1101.4 357.34,1094.3 357.36,1092.1 357.40,1087.8 357.42,1085.7 357.44,1083.5 357.50,1060.9 357.52,1058.4 357.58,1049.5 357.60,1046.0 357.66,1033.2 357.68,1027.9 357.70,1022.0 357.74,1008.0 357.76,1020.0 357.82,945.9 357.84,908.1 357.90,807.0 357.92,789.5 357.98,765.7 358.00,765.7 358.06,765.7 358.08,765.7 358.14,765.7 358.16,765.7 358.22,765.7 358.24,765.7 358.30,765.7 358.32,765.7 358.38,765.7 358.40,765.7 358.46,765.7 358.48,765.7 358.54,765.7 358.56,765.7 358.60,765.7 358.62,765.7 358.64,765.7 358.70,765.7 358.72,765.7 358.78,765.7 358.80,765.7 358.86,765.7 358.88,765.7 358.90,765.7 358.94,765.7 358.96,765.7 359.02,765.7 359.04,765.7 359.10,765.7 359.12,765.7 359.18,765.7 359.20,765.7 359.26,765.7 359.28,765.7 359.34,765.7 359.36,765.7 359.42,765.7 359.44,765.7 359.50,765.7 359.52,765.7 359.58,765.7 359.60,765.7 359.66,765.7 359.68,765.7 359.74,765.7 359.76,765.7 359.80,765.7 359.82,765.7 359.84,765.7 359.90,765.7 359.92,765.7 359.98,765.7 360.06,765.7 360.10,765.7 360.14,765.7 360.22,765.7 360.30,765.7 360.38,765.7 360.40,765.7 360.46,765.7 360.54,765.7 360.62,765.7 360.70,765.7 360.78,765.7 360.86,765.7 360.90,765.7 360.94,765.7 361.00,765.7 361.02,765.7 361.10,765.7 361.18,765.7 361.26,765.7 361.30,765.7 361.34,765.7 361.42,765.7 361.50,765.7 361.58,765.7 361.60,765.7 361.66,765.7 361.74,765.7 361.82,765.7 361.90,765.7 361.98,765.7 362.06,765.7 362.14,765.7 362.20,765.7 362.22,765.7 362.30,765.7 362.38,765.7 362.46,765.7 362.50,765.7 362.54,765.7 362.62,765.7 362.70,765.7 362.78,765.7 362.80,765.7 362.86,765.7 362.94,765.7 363.02,765.7 363.10,765.7 363.18,765.7 363.26,765.7 363.34,765.7 363.40,765.7 363.42,765.7 363.50,765.7 363.58,765.7 363.66,765.7 363.70,765.7 363.74,765.7 363.82,765.7 363.90,811.5 363.98,1017.0 364.00,1057.1 364.06,1087.4 364.14,1096.6 364.22,1103.1 364.30,1107.6 364.38,1124.8 364.46,1127.2 364.54,1129.3 364.60,1130.9 364.62,1131.5 364.70,1124.1 364.78,1127.8 364.86,1131.9 364.90,1134.0 364.94,1136.0 365.02,1148.5 365.10,1152.3 365.18,1155.9 365.20,1156.8 365.26,1146.2 365.34,1149.2 365.42,1151.7 365.50,1153.9 365.58,1168.4 365.66,1170.1 365.74,1171.8 365.80,1173.0 365.82,1173.4 365.90,1163.0 365.98,1164.4 366.06,1165.7 366.10,1166.4 366.14,1167.0 366.22,1181.4 366.30,1182.4 366.38,1183.5 366.40,1183.7 366.46,1172.1 366.54,1173.0 366.62,1173.9 366.70,1174.7 366.78,1188.4 366.86,1189.1 366.94,1189.7 367.00,1190.2 367.02,1190.4 367.10,1178.8 367.18,1179.4 367.26,1180.0 367.30,1180.3 367.34,1180.5 367.42,1191.6 367.50,1192.0 367.58,1192.5 367.60,1192.6 367.66,1183.6 367.74,1184.0 367.82,1184.4 367.90,1184.8 367.98,1196.5 368.06,1196.8 368.14,1197.2 368.20,1197.4 368.22,1197.5 368.30,1184.9 368.38,1185.2 368.46,1185.6 368.50,1185.7 368.54,1185.9 368.62,1199.2 368.70,1199.4 368.78,1199.7 368.80,1199.8 368.86,1188.5 368.94,1188.8 369.02,1189.1 369.10,1189.4 369.18,1199.3 369.26,1199.6 369.34,1199.8 369.40,1200.0 369.42,1200.1 369.50,1191.1 369.58,1191.4 369.66,1191.6 369.70,1191.7 369.74,1191.9 369.82,1204.3 370.00,1204.8 370.30,1193.2 370.60,1203.5 370.90,1196.0 371.20,1203.3 371.50,1198.0 371.80,1204.8 372.10,1198.4 372.40,1205.9 372.70,1198.6 373.00,1211.8 373.30,1200.1 373.60,1211.2 373.90,1201.7 374.20,1211.3 374.50,1201.2 374.80,1211.2 375.10,1201.1 375.40,1209.3 375.70,1203.3 376.00,1212.7 376.30,1203.8 376.60,1211.1 376.90,1203.9 377.20,1213.4 377.50,1205.1 377.80,1213.0 378.10,1205.6 378.40,1213.4 378.70,1206.8 379.00,1213.9 379.30,1207.3 379.60,1214.0 379.90,1206.1 380.20,1215.7 380.50,1206.3 380.80,1215.2 381.10,1208.2 381.40,1220.3 381.70,1206.3 382.00,1223.1 382.30,1205.5 382.60,1218.8 382.90,1207.0 383.20,1217.5 383.50,1207.8 383.80,1218.6 384.10,1208.6 384.40,1216.6 384.70,1206.5 385.00,1217.4 385.30,1206.7 385.60,1217.5 385.90,1208.1 386.20,1221.1 386.50,1205.2 386.80,1221.7 387.10,1206.0 387.40,1220.4 387.70,1207.5 388.00,1217.9 388.30,1210.9 388.60,1218.6 388.90,1209.5 389.20,1218.3 389.50,1205.4 389.80,1224.6 390.10,1207.0 390.40,1223.3 390.70,1208.6 391.00,1218.8 391.30,1209.1 391.60,1217.9 391.90,1207.2 392.20,1221.0 392.50,1209.3 392.80,1216.6 393.10,1210.2 393.40,1217.8 393.70,1209.6 394.00,1216.2 394.30,1207.6 394.60,1219.7 394.90,1207.1 395.20,1220.2 395.50,1206.4 395.80,1217.6 396.10,1210.3 396.40,1215.5 396.70,1208.6 397.00,1217.1 397.30,1208.3 397.60,1216.4 397.90,1209.0 398.20,1216.1 398.50,1206.5 398.80,1216.8 399.10,1207.7 399.40,1215.9 399.70,1207.8 400.00,1216.1 400.30,1206.0 400.60,1217.8 400.90,1200.8 401.20,1216.2 401.50,1202.0 401.80,1215.5 402.10,1202.7 402.40,1217.7 402.70,1202.9 403.00,1215.0 403.30,1207.0 403.60,1212.8 403.90,1206.8 404.20,1213.5 404.50,1205.7 404.80,1216.5 405.10,1203.7 405.40,1212.8 405.70,1205.7 406.00,1213.3 406.30,1205.6 406.60,1217.1 406.90,1202.6 407.20,1217.7 407.50,1203.0 407.80,1211.7 408.10,1204.1 408.40,1211.6 408.70,1203.7 409.00,1210.9 409.30,1203.6 409.60,1211.9 409.90,1200.5 410.20,1212.7 410.50,1201.4 410.80,1209.3 411.10,1202.0 411.40,1210.1 411.70,1199.1 412.00,1212.4 412.30,1197.3 412.60,1210.6 412.90,1195.3 413.20,1209.1 413.50,1193.3 413.80,1206.5 414.10,1192.4 414.40,1203.8 414.70,1194.4 414.75,1204.0 414.83,1203.9 414.91,1203.7 414.99,1203.5 415.00,1203.5 415.07,1196.2 415.15,1196.0 415.23,1195.7 415.30,1195.6 415.31,1195.5 415.39,1202.4 415.47,1202.2 415.55,1202.0 415.60,1201.8 415.63,1201.8 415.71,1192.4 415.79,1192.2 415.87,1191.9 415.90,1191.8 415.95,1200.3 416.03,1200.0 416.11,1199.7 416.19,1199.4 416.20,1199.4 416.27,1191.6 416.35,1191.3 416.43,1190.9 416.50,1190.6 416.51,1190.6 416.59,1197.6 416.67,1197.2 416.75,1196.9 416.80,1196.6 416.83,1196.5 416.91,1187.4 416.99,1186.9 417.07,1186.5 417.10,1186.3 417.15,1195.8 417.23,1195.3 417.31,1194.8 417.39,1194.2 417.40,1194.2 417.47,1185.5 417.55,1184.9 417.63,1184.3 417.70,1183.8 417.71,1183.7 417.79,1190.9 417.87,1190.3 417.95,1189.6 418.00,1189.2 418.03,1188.9 418.11,1180.1 418.19,1179.3 418.27,1178.6 418.30,1178.3 418.35,1185.4 418.43,1184.6 418.51,1183.7 418.59,1182.9 418.60,1182.8 418.67,1173.7 418.75,1172.7 418.83,1171.7 418.90,1170.9 418.91,1170.7 418.99,1179.0 419.07,1177.9 419.15,1176.8 419.20,1176.1 419.23,1175.6 419.31,1164.0 419.39,1162.6 419.47,1161.2 419.50,1160.6 419.55,1171.4 419.63,1169.9 419.71,1168.2 419.79,1166.8 419.80,1166.6 419.87,1154.5 419.95,1153.3 420.03,1152.0 420.10,1150.5 420.11,1150.3 420.19,1157.6 420.27,1154.4 420.35,1149.8 420.40,1146.1 420.43,1131.0 420.51,908.2 420.59,765.7 420.67,765.7 420.70,765.7 420.75,765.7 420.83,765.7 420.91,765.7 420.99,765.7 421.00,765.7 421.07,765.7 421.15,765.7 421.23,765.7 421.30,765.7 421.31,765.7 421.39,765.7 421.47,765.7 421.55,765.7 421.60,765.7 421.63,765.7 421.71,765.7 421.79,765.7 421.87,765.7 421.90,765.7 421.95,765.7 422.03,765.7 422.11,765.7 422.19,765.7 422.20,765.7 422.27,765.7 422.35,765.7 422.43,765.7 422.50,765.7 422.51,765.7 422.59,765.7 422.67,765.7 422.75,765.7 422.80,765.7 422.83,765.7 422.91,765.7 422.99,765.7 423.07,765.7 423.10,765.7 423.15,765.7 423.23,765.7 423.31,765.7 423.39,765.7 423.40,765.7 423.47,765.7 423.55,765.7 423.63,765.7 423.70,765.7 423.71,765.7 423.75,765.7 423.79,765.7 423.87,765.7 423.95,765.7 424.00,765.7 424.03,765.7 424.11,765.7 424.19,765.7 424.27,765.7 424.30,765.7 424.35,765.7 424.43,765.7 424.51,765.7 424.59,765.7 424.60,765.7 424.67,765.7 424.75,765.7 424.83,765.7 424.90,765.7 424.91,765.7 424.99,765.7 425.07,765.7 425.15,765.7 425.20,765.7 425.23,765.7 425.31,765.7 425.39,765.7 425.47,765.7 425.50,765.7 425.55,765.7 425.63,765.7 425.71,765.7 425.79,765.7 425.80,765.7 425.87,765.7 425.95,765.7 426.03,765.7 426.10,765.7 426.11,765.7 426.19,765.7 426.27,765.7 426.35,765.7 426.40,765.7 426.43,765.7 426.51,765.7 426.59,765.7 426.67,765.7 426.70,765.7 426.75,765.7 426.83,765.7 426.91,765.7 426.99,901.2 427.00,934.9 427.07,1074.1 427.15,1098.1 427.23,1104.8 427.30,1108.6 427.31,1109.1 427.39,1123.6 427.47,1125.7 427.55,1127.6 427.60,1128.9 427.63,1129.8 427.71,1123.6 427.79,1127.9 427.87,1132.9 427.90,1134.9 427.95,1147.4 428.03,1152.7 428.11,1158.0 428.19,1162.9 428.20,1163.5 428.27,1158.5 428.35,1162.7 428.43,1166.4 428.50,1169.3 428.51,1169.8 428.59,1183.4 428.67,1186.5 428.75,1189.3 428.80,1190.8 428.83,1191.6 428.91,1182.2 428.99,1183.5 429.07,1184.2 429.10,1184.3 429.15,1195.5 429.23,1195.9 429.31,1196.3 429.39,1196.6 429.40,1196.7 429.47,1188.1 429.55,1188.4 429.63,1188.6 429.70,1188.8 429.71,1188.8 429.79,1199.7 429.87,1199.8 429.95,1200.0 430.00,1200.1 430.03,1200.1 430.11,1183.7 430.19,1183.8 430.27,1183.9 430.30,1184.0 430.35,1198.9 430.43,1199.0 430.51,1199.1 430.59,1199.2 430.60,1199.3 430.67,1186.5 430.75,1186.7 430.83,1186.8 430.90,1186.9 430.91,1187.0 430.99,1198.5 431.07,1198.6 431.15,1198.7 431.20,1198.8 431.23,1198.8 431.31,1192.0 431.39,1192.1 431.47,1192.2 431.50,1192.2 431.55,1199.4 431.63,1199.5 431.71,1199.6 431.79,1199.7 431.80,1199.7 431.87,1192.1 431.95,1192.2 432.03,1192.3 432.10,1192.4 432.11,1192.4 432.19,1201.6 432.27,1201.7 432.35,1201.8 432.40,1201.8 432.43,1201.8 432.51,1192.3 432.59,1192.4 432.67,1192.4 432.70,1192.5 433.00,1202.8 433.30,1193.2 433.60,1203.1 433.90,1193.1 434.20,1206.2 434.50,1195.0 434.80,1204.5 435.10,1194.3 435.40,1205.2 435.70,1193.4 436.00,1203.1 436.30,1195.4 436.60,1202.8 436.90,1194.0 437.20,1203.7 437.50,1194.9 437.80,1206.2 438.10,1193.0 438.40,1207.7 438.70,1193.7 439.00,1205.6 439.30,1197.0 439.60,1204.6 439.90,1197.5 440.20,1204.4 440.50,1196.2 440.80,1204.6 441.10,1196.7 441.40,1205.4 441.70,1196.7 442.00,1205.5 442.30,1196.3 442.60,1207.1 442.90,1196.0 443.20,1205.1 443.50,1197.9 443.80,1204.8 444.10,1198.0 444.40,1205.1 444.70,1196.8 445.00,1206.7 445.30,1196.8 445.60,1206.6 445.90,1196.9 446.20,1204.9 446.50,1197.7 446.80,1206.0 447.10,1197.4 447.40,1207.5 447.70,1196.4 448.00,1207.9 448.30,1197.8 448.60,1206.9 448.90,1197.3 449.20,1207.8 449.50,1199.2 449.80,1206.9 450.10,1194.1 450.40,1206.4 450.70,1194.1 451.00,1208.4 451.30,1197.6 451.60,1208.4 451.90,1198.7 452.20,1206.1 452.50,1200.2 452.80,1208.2 453.10,1198.3 453.40,1209.3 453.70,1199.3 454.00,1207.1 454.30,1199.6 454.60,1208.1 454.90,1200.1 455.20,1208.2 455.50,1199.5 455.80,1208.2 456.10,1198.9 456.40,1211.2 456.70,1196.2 457.00,1210.8 457.30,1199.9 457.60,1208.4 457.90,1200.5 458.20,1209.0 458.50,1199.8 458.80,1208.1 459.10,1199.6 459.40,1210.3 459.70,1198.9 460.00,1210.1 460.30,1199.6 460.60,1209.3 460.90,1198.0 461.20,1209.2 461.50,1200.3 461.80,1207.9 462.10,1200.7 462.40,1207.6 462.70,1199.1 463.00,1208.2 463.30,1200.6 463.60,1208.6 463.90,1198.6 464.20,1207.1 464.50,1198.8 464.80,1208.9 465.10,1199.2 465.40,1206.9 465.70,1198.9 466.00,1208.5 466.30,1196.6 466.60,1208.9 466.90,1199.3 467.20,1208.0 467.50,1197.1 467.80,1209.5 468.10,1194.6 468.40,1209.2 468.70,1192.3 469.00,1207.6 469.30,1189.7 469.60,1208.6 469.90,1197.2 470.20,1206.1 470.50,1198.3 470.80,1208.6 471.10,1196.0 471.40,1208.9 471.70,1196.4 472.00,1205.7 472.30,1196.5 472.60,1205.5 472.90,1194.1 473.20,1209.6 473.50,1194.3 473.80,1206.4 474.10,1197.4 474.40,1206.0 474.70,1195.0 475.00,1206.8 475.30,1194.6 475.60,1203.7 475.90,1194.6 476.20,1206.5 476.50,1193.0 476.80,1204.7 477.10,1196.7 477.40,1205.1 477.70,1194.4 478.00,1204.3 478.30,1194.6 478.60,1203.3 478.90,1195.3 479.20,1203.0 479.50,1194.1 479.80,1202.8 480.10,1194.7 480.40,1203.3 480.70,1192.2 481.00,1206.1 481.30,1192.6 481.60,1202.0 481.90,1193.6 482.20,1200.8 482.50,1193.2 482.80,1203.3 483.10,1191.0 483.40,1201.3 483.70,1193.3 484.00,1203.2 484.30,1193.2 484.60,1201.8 484.90,1191.0 485.20,1200.9 485.50,1191.8 485.80,1200.5 486.10,1192.0 486.40,1201.6 486.70,1190.7 487.00,1200.8 487.30,1191.3 487.60,1198.0 487.90,1188.8 488.20,1199.6 488.50,1190.1 488.80,1199.5 489.10,1188.7 489.40,1201.1 489.70,1190.4 490.00,1197.2 490.30,1188.7 490.60,1197.1 490.90,1189.9 491.20,1196.1 491.50,1189.8 491.80,1198.7 492.10,1188.5 492.40,1198.3 492.70,1185.4 493.00,1199.1 493.30,1187.3 493.60,1197.4 493.90,1186.0 494.20,1197.4 494.50,1187.1 494.80,1195.4 495.10,1186.0 495.40,1195.8 495.70,1185.1 496.00,1196.7 496.30,1185.5 496.60,1195.1 496.90,1185.5 497.20,1195.9 497.50,1184.5 497.80,1194.6 498.10,1181.1 498.40,1195.6 498.70,1180.1 499.00,1193.8 499.30,1181.5 499.60,1197.8 499.90,1180.7 500.20,1195.0 500.50,1182.1 500.80,1193.8 501.10,1180.4 501.40,1194.2 501.70,1182.5 502.00,1193.5 502.30,1178.7 502.60,1194.3 502.90,1180.2 503.20,1190.9 503.50,1180.5 503.80,1190.4 504.10,1179.9 504.40,1192.5 504.70,1177.4 505.00,1190.9 505.30,1180.7 505.60,1190.1 505.90,1178.8 506.20,1189.9 506.50,1179.5 506.80,1188.0 507.10,1178.2 507.40,1188.7 507.70,1177.7 508.00,1187.6 508.30,1179.7 508.60,1187.5 508.90,1179.0 509.20,1187.6 509.50,1175.0 509.70,1186.8 509.78,1186.7 509.80,1186.7 509.86,1178.4 509.94,1178.3 510.02,1178.2 510.10,1178.1 510.18,1187.1 510.26,1187.1 510.34,1187.0 510.40,1186.9 510.42,1186.9 510.50,1176.5 510.58,1176.4 510.66,1176.2 510.70,1176.2 510.74,1176.1 510.82,1185.3 510.90,1185.2 510.98,1185.1 511.00,1185.1 511.06,1173.9 511.14,1173.7 511.22,1173.6 511.30,1173.5 511.38,1184.6 511.46,1184.5 511.54,1184.3 511.60,1184.2 511.62,1184.2 511.70,1174.1 511.78,1173.9 511.86,1173.8 511.90,1173.7 511.94,1173.6 512.02,1181.8 512.10,1181.6 512.18,1181.4 512.20,1181.4 512.26,1173.2 512.34,1173.0 512.42,1172.8 512.50,1172.6 512.58,1180.8 512.66,1180.6 512.74,1180.3 512.80,1180.1 512.82,1180.1 512.90,1171.8 512.98,1171.5 513.06,1171.2 513.10,1171.0 513.14,1170.9 513.22,1180.3 513.30,1180.0 513.38,1179.6 513.40,1179.5 513.46,1169.6 513.54,1169.2 513.62,1168.8 513.70,1168.4 513.78,1176.0 513.86,1175.6 513.94,1175.1 514.00,1174.8 514.02,1174.6 514.10,1165.2 514.18,1164.7 514.26,1164.1 514.30,1163.9 514.34,1163.6 514.42,1172.6 514.50,1172.0 514.58,1171.3 514.60,1171.2 514.66,1162.2 514.74,1161.5 514.82,1160.8 514.90,1159.9 514.98,1168.6 515.06,1167.7 515.14,1166.7 515.20,1165.9 515.22,1165.6 515.30,1152.7 515.38,1151.5 515.46,1150.2 515.50,1149.5 515.54,1148.8 515.62,1160.2 515.70,1158.7 515.78,1157.1 515.80,1156.7 515.86,1140.1 515.94,1138.4 516.02,1136.7 516.10,1134.9 516.18,1147.9 516.26,1145.9 516.34,1143.8 516.40,1142.2 516.42,1141.6 516.50,1127.7 516.58,1125.7 516.66,1123.7 516.70,1122.7 516.74,1121.6 516.82,1130.3 516.90,1127.7 516.98,1124.8 517.00,1124.1 517.06,1110.9 517.14,1108.5 517.22,1106.0 517.30,1103.5 517.38,1111.2 517.46,1107.9 517.54,1104.7 517.60,1102.4 517.62,1101.6 517.70,1091.6 517.78,1089.7 517.86,1088.0 517.90,1087.2 517.94,1086.5 518.02,1088.3 518.10,1086.2 518.18,1084.3 518.20,1083.8 518.26,1081.2 518.34,1079.9 518.42,1078.6 518.50,1077.5 518.58,1076.6 518.66,1075.7 518.70,1075.4 518.74,1075.7 518.80,1076.4 518.82,1076.6 518.90,1077.5 518.98,1078.6 519.06,1079.8 519.10,1080.4 519.14,1081.0 519.22,1084.0 519.30,1085.9 519.38,1087.9 519.40,1088.4 519.46,1086.9 519.54,1088.4 519.62,1090.2 519.70,1092.2 519.78,1100.0 519.86,1102.9 519.94,1105.9 520.00,1108.2 520.02,1109.0 520.10,1101.3 520.18,1103.6 520.26,1106.0 520.30,1107.2 520.34,1108.3 520.42,1123.2 520.50,1125.9 520.58,1128.6 520.60,1129.2 520.66,1118.2 520.74,1120.2 520.82,1122.1 520.90,1124.0 520.98,1138.6 521.06,1140.7 521.14,1142.7 521.20,1144.2 521.22,1144.7 521.30,1138.0 521.38,1139.8 521.46,1141.6 521.50,1142.4 521.54,1143.3 521.62,1154.7 521.70,1156.3 521.78,1157.8 521.80,1158.2 521.86,1147.3 521.94,1148.6 522.02,1149.9 522.10,1151.1 522.18,1166.1 522.26,1167.2 522.34,1168.2 522.40,1168.9 522.42,1169.1 522.50,1155.2 522.58,1156.0 522.66,1156.8 522.70,1157.2 522.74,1157.5 522.82,1173.0 522.90,1173.7 522.98,1174.3 523.00,1174.4 523.06,1159.7 523.14,1160.2 523.22,1160.8 523.30,1161.3 523.38,1177.3 523.46,1177.8 523.54,1178.2 523.60,1178.5 523.62,1178.6 523.70,1164.9 523.78,1165.3 523.86,1165.6 523.90,1165.8 523.94,1166.0 524.02,1176.2 524.10,1176.6 524.18,1176.9 524.20,1176.9 524.26,1168.8 524.34,1169.1 524.42,1169.4 524.50,1169.7 524.58,1180.7 524.66,1181.0 524.74,1181.2 524.80,1181.3 524.82,1181.4 524.90,1173.0 524.98,1173.2 525.06,1173.4 525.10,1173.5 525.14,1173.6 525.22,1181.4 525.30,1181.5 525.38,1181.7 525.40,1181.7 525.46,1171.0 525.54,1171.2 525.62,1171.3 525.70,1171.5 525.78,1181.8 525.86,1181.9 525.94,1182.0 526.00,1182.1 526.02,1182.2 526.10,1175.3 526.18,1175.5 526.26,1175.6 526.30,1175.6 526.34,1175.7 526.42,1184.5 526.50,1184.6 526.58,1184.7 526.60,1184.7 526.66,1173.7 526.74,1173.8 526.82,1173.9 526.90,1174.0 526.98,1185.2 527.06,1185.3 527.14,1185.4 527.20,1185.5 527.22,1185.5 527.30,1175.3 527.38,1175.4 527.46,1175.4 527.50,1175.5 527.54,1175.5 527.62,1184.5 527.80,1184.7 528.10,1175.6 528.40,1190.0 528.70,1177.1 529.00,1190.0 529.30,1177.1 529.60,1187.6 529.90,1173.8 530.20,1189.7 530.50,1176.3 530.80,1187.1 531.10,1173.9 531.40,1191.1 531.70,1174.2 532.00,1188.3 532.30,1178.3 532.60,1186.3 532.90,1177.7 533.20,1187.9 533.50,1176.4 533.80,1186.5 534.10,1176.0 534.40,1186.7 534.70,1177.8 535.00,1186.9 535.30,1178.7 535.60,1187.0 535.90,1177.6 536.20,1187.9 536.50,1174.3 536.80,1188.7 537.10,1175.4 537.40,1187.7 537.70,1178.7 538.00,1185.5 538.30,1177.7 538.60,1186.1 538.90,1178.7 539.20,1186.5 539.50,1177.2 539.80,1188.6 540.10,1174.5 540.40,1189.1 540.70,1176.5 541.00,1186.4 541.30,1177.1 541.60,1186.1 541.90,1176.7 542.20,1185.5 542.50,1177.7 542.80,1185.9 543.10,1178.5 543.40,1185.9 543.70,1176.9 544.00,1186.6 544.30,1177.0 544.60,1186.3 544.90,1175.6 545.20,1187.6 545.50,1171.3 545.80,1186.7 546.10,1172.8 546.40,1186.8 546.70,1177.0 547.00,1187.5 547.30,1176.5 547.60,1186.8 547.90,1177.9 548.20,1186.6 548.50,1175.4 548.80,1186.9 549.10,1177.0 549.40,1184.6 549.70,1175.3 550.00,1187.2 550.30,1174.0 550.60,1186.8 550.90,1176.8 551.20,1186.5 551.50,1175.9 551.80,1186.5 552.10,1172.2 552.40,1189.6 552.70,1174.2 553.00,1186.0 553.30,1175.1 553.60,1187.1 553.90,1173.2 554.20,1187.9 554.50,1175.2 554.80,1185.0 555.10,1169.1 555.40,1183.8 555.70,1170.8 556.00,1183.6 556.30,1175.3 556.60,1185.1 556.90,1175.3 557.20,1184.9 557.50,1173.9 557.80,1185.7 558.10,1175.8 558.40,1184.8 558.70,1172.9 559.00,1190.1 559.30,1171.2 559.60,1185.2 559.90,1174.9 560.20,1184.2 560.50,1173.3 560.80,1186.2 561.10,1174.3 561.40,1184.1 561.70,1174.5 562.00,1183.3 562.30,1175.7 562.60,1183.3 562.90,1173.6 563.20,1184.0 563.50,1172.2 563.80,1185.0 564.10,1172.2 564.40,1183.7 564.70,1175.4 565.00,1182.9 565.30,1174.5 565.60,1183.5 565.90,1175.2 566.20,1183.6 566.50,1173.2 566.80,1183.9 567.10,1175.4 567.40,1182.1 567.70,1173.6 568.00,1185.6 568.30,1171.7 568.60,1184.9 568.90,1174.6 569.20,1183.1 569.50,1173.2 569.80,1181.8 570.10,1172.0 570.40,1185.2 570.70,1171.1 571.00,1182.3 571.30,1174.0 571.60,1181.9 571.90,1174.4 572.20,1181.2 572.50,1174.7 572.80,1181.8 573.10,1173.5 573.40,1182.2 573.70,1173.3 574.00,1181.4 574.30,1172.0 574.60,1181.5 574.90,1173.3 575.20,1182.4 575.50,1172.9 575.80,1181.6 576.10,1172.9 576.40,1181.5 576.70,1167.4 577.00,1180.5 577.30,1165.0 577.60,1184.1 577.90,1168.8 578.20,1185.5 578.50,1168.3 578.80,1183.6 579.10,1170.3 579.40,1182.0 579.70,1171.2 580.00,1179.5 580.30,1172.4 580.60,1179.6 580.90,1171.1 581.20,1186.5 581.50,1172.2 581.80,1185.7 582.10,1170.9 582.40,1180.8 582.70,1170.0 583.00,1180.6 583.30,1169.8 583.60,1181.6 583.90,1168.3 584.20,1182.8 584.50,1166.6 584.80,1181.8 585.10,1169.5 585.40,1178.3 585.70,1171.0 586.00,1180.8 586.30,1169.8 586.60,1179.9 586.90,1169.0 587.20,1183.1 587.50,1167.1 587.80,1179.6 588.10,1170.5 588.40,1179.3 588.70,1167.4 589.00,1179.6 589.30,1169.5 589.60,1178.0 589.90,1169.4 590.20,1178.7 590.50,1169.3 590.80,1177.9 591.10,1168.7 591.40,1178.7 591.70,1164.2 592.00,1182.2 592.30,1163.8 592.60,1181.3 592.90,1167.1 593.20,1176.7 593.50,1165.1 593.80,1177.6 594.10,1168.1 594.40,1175.3 594.70,1168.4 595.00,1175.8 595.30,1168.0 595.60,1176.8 595.90,1165.2 596.20,1180.2 596.50,1163.7 596.80,1183.4 597.10,1163.5 597.40,1180.6 597.70,1166.6 598.00,1175.5 598.30,1164.9 598.60,1175.4 598.90,1165.6 599.20,1174.0 599.50,1166.8 599.80,1174.6 600.10,1166.2 600.40,1181.3 600.70,1163.3 601.00,1180.8 601.30,1163.5 601.60,1174.5 601.90,1165.5 602.20,1173.1 602.50,1164.7 602.80,1173.4 603.10,1162.3 603.40,1175.0 603.70,1160.7 604.00,1177.2 604.30,1157.6 604.60,1176.8 604.90,1160.9 605.20,1170.6 605.50,1161.1 605.80,1172.7 606.10,1162.7 606.40,1171.9 606.70,1158.2 607.00,1175.9 607.30,1157.8 607.60,1173.1 607.90,1160.6 608.20,1171.4 608.50,1156.9 608.80,1171.8 609.10,1159.4 609.40,1171.9 609.70,1157.1 610.00,1172.9 610.30,1157.7 610.60,1168.6 610.90,1160.1 611.20,1167.4 611.50,1159.4 611.80,1168.4 612.10,1158.0 612.40,1168.7 612.70,1158.9 613.00,1166.7 613.30,1157.7 613.60,1168.6 613.90,1156.5 614.20,1168.7 614.50,1155.6 614.80,1170.0 615.10,1154.9 615.40,1168.5 615.70,1150.9 616.00,1167.8 616.30,1154.2 616.60,1165.3 616.90,1155.7 617.20,1164.1 617.50,1154.7 617.70,1162.8 617.78,1162.7 617.80,1162.7 617.86,1152.8 617.94,1152.7 618.02,1152.5 618.10,1152.4 618.18,1165.3 618.26,1165.2 618.34,1165.0 618.40,1164.9 618.42,1164.9 618.50,1148.8 618.58,1148.6 618.66,1148.5 618.70,1148.4 618.74,1148.3 618.82,1166.5 618.90,1166.3 618.98,1166.2 619.00,1166.1 619.06,1148.7 619.14,1148.6 619.22,1148.4 619.30,1148.2 619.38,1162.4 619.46,1162.2 619.54,1162.0 619.60,1161.9 619.62,1161.8 619.70,1152.0 619.78,1151.8 619.86,1151.6 619.90,1151.5 619.94,1151.4 620.02,1158.6 620.10,1158.4 620.18,1158.2 620.20,1158.1 620.26,1149.3 620.34,1149.0 620.42,1148.7 620.50,1148.4 620.58,1157.5 620.66,1157.1 620.74,1156.7 620.80,1156.4 620.82,1156.3 620.90,1146.6 620.98,1146.2 621.06,1145.7 621.10,1145.5 621.14,1145.3 621.22,1153.3 621.30,1152.9 621.38,1152.5 621.40,1152.4 621.46,1143.1 621.54,1142.7 621.62,1142.3 621.70,1141.9 621.78,1151.6 621.86,1151.2 621.94,1150.8 622.00,1150.5 622.02,1150.4 622.10,1137.6 622.18,1137.1 622.26,1136.7 622.30,1136.5 622.34,1136.2 622.42,1147.4 622.50,1146.9 622.58,1146.3 622.60,1146.2 622.66,1135.7 622.74,1135.1 622.82,1134.4 622.90,1133.6 622.98,1147.3 623.06,1146.6 623.14,1145.9 623.20,1145.3 623.22,1145.1 623.30,1129.9 623.38,1129.2 623.46,1128.6 623.50,1128.3 623.54,1128.0 623.62,1138.3 623.70,1137.8 623.78,1137.2 623.80,1137.1 623.86,1125.6 623.94,1125.0 624.02,1124.4 624.10,1123.8 624.18,1135.0 624.26,1134.4 624.34,1133.9 624.40,1133.4 624.42,1133.3 624.50,1121.4 624.58,1120.8 624.66,1120.2 624.70,1119.9 624.74,1119.6 624.82,1133.7 624.90,1133.1 624.98,1132.5 625.00,1132.4 625.06,1115.6 625.14,1114.9 625.22,1114.2 625.30,1113.5 625.38,1129.0 625.46,1128.3 625.50,1127.9 625.54,1127.5 625.58,1127.1 625.60,1127.0 625.62,1126.8 625.66,1107.9 625.70,1107.5 625.74,1107.1 625.78,1106.7 625.82,1106.2 625.86,1105.8 625.90,1105.4 625.94,1105.0 625.98,1122.3 626.02,1121.9 626.06,1121.5 626.10,1121.1 626.14,1120.7 626.18,1120.4 626.20,1120.2 626.22,1120.0 626.26,1106.0 626.30,1105.6 626.34,1105.2 626.38,1104.8 626.42,1104.4 626.46,1104.0 626.50,1103.6 626.54,1103.2 626.58,1113.1 626.62,1112.7 626.66,1112.3 626.70,1111.8 626.74,1112.1 626.78,1112.3 626.80,1112.4 626.82,1112.5 626.86,1100.5 626.90,1100.8 626.94,1101.0 626.98,1101.3 627.02,1101.5 627.06,1101.8 627.10,1102.0 627.14,1102.3 627.18,1114.5 627.22,1114.8 627.26,1115.1 627.30,1115.3 627.34,1115.6 627.38,1115.9 627.40,1116.0 627.42,1116.1 627.46,1104.5 627.50,1104.8 627.54,1105.1 627.58,1105.4 627.62,1105.7 627.66,1106.0 627.70,1106.3 627.74,1106.6 627.78,1120.9 627.82,1121.2 627.86,1121.5 627.90,1121.8 627.94,1122.1 627.98,1122.4 628.00,1122.6 628.02,1122.8 628.06,1105.6 628.10,1106.0 628.14,1106.3 628.18,1106.7 628.22,1107.0 628.26,1107.4 628.30,1107.7 628.34,1108.0 628.38,1127.8 628.42,1128.1 628.46,1128.3 628.50,1128.6 628.54,1128.8 628.58,1129.0 628.60,1129.1 628.62,1129.2 628.66,1108.4 628.70,1108.6 628.74,1108.7 628.78,1108.8 628.82,1108.9 628.86,1109.0 628.90,1109.1 628.94,1109.2 628.98,1128.8 629.02,1128.9 629.06,1128.9 629.10,1128.9 629.14,1128.9 629.18,1128.9 629.20,1128.9 629.22,1128.9 629.26,1114.4 629.30,1114.4 629.34,1114.3 629.38,1114.2 629.42,1114.1 629.46,1114.0 629.50,1113.9 629.54,1113.8 629.58,1124.4 629.62,1124.3 629.66,1124.1 629.70,1124.0 629.74,1123.8 629.78,1123.6 629.80,1123.5 629.82,1123.4 629.86,1112.6 629.90,1112.4 629.94,1112.2 629.98,1111.9 630.02,1111.7 630.06,1111.4 630.10,1111.2 630.14,1110.9 630.18,1122.9 630.22,1122.7 630.26,1122.4 630.30,1122.1 630.34,1121.9 630.38,1121.7 630.40,1121.7 630.42,1121.6 630.46,1108.0 630.50,1108.0 630.54,1107.9 630.58,1107.8 630.62,1107.7 630.66,1107.6 630.70,1107.4 630.74,1107.2 630.78,1123.3 630.82,1123.0 630.86,1122.6 630.90,1122.1 630.94,1121.5 630.98,1120.8 631.00,1120.4 631.02,1120.0 631.06,1099.1 631.10,1064.2 631.14,957.3 631.18,780.9 631.22,765.7 631.26,765.7 631.30,765.7 631.34,765.7 631.38,765.7 631.42,765.7 631.46,765.7 631.50,765.7 631.54,765.7 631.58,765.7 631.60,765.7 631.62,765.7 631.66,765.7 631.70,765.7 631.74,765.7 631.78,765.7 631.82,765.7 631.86,765.7 631.90,765.7 631.94,765.7 631.98,765.7 632.02,765.7 632.06,765.7 632.10,765.7 632.14,765.7 632.18,765.7 632.20,765.7 632.22,765.7 632.26,765.7 632.30,765.7 632.34,765.7 632.38,765.7 632.42,765.7 632.46,765.7 632.50,765.7 632.54,765.7 632.58,765.7 632.62,765.7 632.66,765.7 632.70,765.7 632.74,765.7 632.78,765.7 632.80,765.7 632.82,765.7 632.86,765.7 632.90,765.7 632.94,765.7 632.98,765.7 633.02,765.7 633.06,765.7 633.10,765.7 633.14,765.7 633.18,765.7 633.22,765.7 633.26,765.7 633.30,765.7 633.34,765.7 633.38,765.7 633.40,765.7 633.42,765.7 633.46,765.7 633.50,765.7 633.54,765.7 633.58,765.7 633.62,765.7 633.66,765.7 633.70,765.7 633.74,765.7 633.78,765.7 633.82,765.7 633.86,765.7 633.90,765.7 633.94,765.7 633.98,765.7 634.00,765.7 634.02,765.7 634.06,765.7 634.10,765.7 634.14,765.7 634.18,765.7 634.22,765.7 634.26,765.7 634.30,765.7 634.34,765.7 634.38,765.7 634.42,765.7 634.46,765.7 634.50,765.7 634.54,765.7 634.58,765.7 634.60,765.7 634.62,765.7 634.66,765.7 634.70,765.7 634.74,765.7 634.78,765.7 634.82,765.7 634.86,765.7 634.90,765.7 634.94,765.7 634.98,765.7 635.02,765.7 635.06,765.7 635.10,765.7 635.14,765.7 635.18,765.7 635.20,765.7 635.22,765.7 635.26,765.7 635.30,765.7 635.34,765.7 635.38,765.7 635.42,765.7 635.46,765.7 635.50,765.7 635.54,765.7 635.58,765.7 635.62,765.7 635.66,765.7 635.74,765.7 635.80,765.7 635.82,765.7 635.90,765.7 635.98,765.7 636.06,765.7 636.10,765.7 636.14,765.7 636.22,765.7 636.30,765.7 636.38,765.7 636.40,765.7 636.46,765.7 636.54,765.7 636.62,765.7 636.70,765.7 636.78,765.7 636.86,765.7 636.94,765.7 637.00,765.7 637.02,765.7 637.10,765.7 637.18,765.7 637.26,765.7 637.30,765.7 637.34,765.7 637.42,765.7 637.50,765.7 637.58,765.7 637.60,765.7 637.66,897.8 637.74,1039.3 637.82,1050.0 637.90,1056.1 637.98,1070.7 638.06,1073.4 638.14,1075.5 638.20,1076.8 638.22,1077.3 638.30,1069.1 638.38,1072.0 638.46,1076.0 638.50,1078.6 638.54,1081.4 638.62,1100.1 638.70,1106.4 638.78,1112.5 638.80,1113.9 638.86,1105.4 638.94,1110.3 639.02,1114.4 639.10,1117.4 639.18,1131.1 639.26,1133.2 639.34,1135.2 639.40,1136.5 639.42,1137.0 639.50,1125.5 639.58,1126.9 639.66,1128.0 639.70,1128.5 639.74,1129.0 639.82,1147.3 639.90,1147.9 639.98,1148.4 640.00,1148.5 640.06,1129.7 640.14,1130.2 640.22,1130.6 640.30,1131.0 640.38,1146.4 640.46,1146.7 640.54,1147.0 640.60,1147.2 640.62,1147.3 640.70,1137.6 640.78,1137.8 640.86,1138.1 640.90,1138.2 640.94,1138.3 641.02,1147.8 641.10,1148.0 641.18,1148.2 641.20,1148.3 641.26,1136.9 641.34,1137.1 641.42,1137.3 641.50,1137.4 641.58,1150.1 641.66,1150.3 641.74,1150.5 641.80,1150.6 641.82,1150.6 641.90,1138.4 641.98,1138.5 642.06,1138.7 642.10,1138.7 642.14,1138.8 642.22,1150.0 642.30,1150.1 642.38,1150.3 642.40,1150.3 642.46,1142.0 642.54,1142.1 642.62,1142.2 642.70,1142.3 642.78,1152.9 642.86,1153.0 642.94,1153.1 643.00,1153.2 643.02,1153.2 643.10,1139.3 643.18,1139.3 643.26,1139.4 643.30,1139.5 643.34,1139.5 643.42,1155.6 643.60,1155.8 643.90,1140.3 644.20,1152.8 644.50,1144.2 644.80,1151.9 645.10,1141.0 645.40,1153.3 645.70,1136.9 646.00,1157.9 646.30,1139.5 646.60,1157.1 646.90,1142.6 647.20,1153.4 647.50,1142.2 647.80,1156.4 648.10,1137.6 648.40,1153.3 648.70,1137.1 649.00,1155.9 649.30,1143.0 649.60,1153.6 649.90,1145.3 650.20,1155.1 650.50,1143.3 650.60,1157.9 650.68,1157.9 650.76,1157.9 650.80,1157.9 650.84,1157.9 650.92,1140.6 651.00,1140.6 651.08,1140.6 651.10,1140.6 651.16,1156.0 651.24,1156.0 651.32,1156.0 651.40,1156.0 651.48,1142.7 651.56,1142.6 651.64,1142.6 651.70,1142.6 651.72,1142.6 651.80,1153.0 651.88,1153.0 651.96,1153.0 652.00,1152.9 652.04,1152.9 652.12,1144.7 652.20,1144.6 652.28,1144.6 652.30,1144.6 652.36,1152.9 652.44,1152.8 652.52,1152.8 652.60,1152.7 652.68,1142.3 652.76,1142.2 652.84,1142.1 652.90,1142.1 652.92,1142.1 653.00,1152.8 653.08,1152.7 653.16,1152.7 653.20,1152.6 653.24,1152.6 653.32,1139.3 653.40,1139.2 653.48,1139.1 653.50,1139.0 653.56,1157.5 653.64,1157.4 653.72,1157.2 653.80,1157.1 653.88,1136.8 653.96,1136.6 654.04,1136.4 654.10,1136.3 654.12,1136.2 654.20,1154.1 654.28,1153.9 654.36,1153.7 654.40,1153.6 654.44,1153.5 654.52,1140.0 654.60,1139.8 654.68,1139.6 654.70,1139.5 654.76,1151.1 654.84,1150.9 654.92,1150.6 655.00,1150.4 655.08,1136.8 655.16,1136.5 655.24,1136.2 655.30,1136.0 655.32,1135.9 655.40,1149.6 655.48,1149.3 655.56,1148.9 655.60,1148.7 655.64,1148.6 655.72,1136.7 655.80,1136.3 655.88,1135.8 655.90,1135.7 655.96,1144.1 656.04,1143.7 656.12,1143.2 656.20,1142.7 656.28,1130.0 656.36,1129.4 656.44,1128.9 656.50,1128.5 656.52,1128.3 656.60,1140.9 656.68,1140.3 656.76,1139.6 656.80,1139.3 656.84,1139.0 656.92,1121.0 657.00,1120.5 657.08,1119.9 657.10,1119.8 657.16,1134.7 657.24,1133.9 657.32,1133.0 657.40,1132.1 657.48,1117.3 657.56,1116.6 657.64,1115.9 657.70,1115.4 657.72,1115.3 657.80,1128.7 657.88,1127.5 657.96,1126.2 658.00,1125.6 658.04,1124.9 658.12,1114.3 658.20,1113.7 658.28,1113.1 658.30,1113.0 658.36,1120.0 658.44,1118.9 658.52,1117.9 658.60,1117.0 658.68,1112.9 658.76,1112.5 658.84,1112.1 658.90,1111.9 658.92,1111.8 659.00,1113.0 659.08,1112.3 659.16,1111.7 659.20,1111.4 659.24,1111.1 659.32,1110.0 659.40,1109.9 659.48,1109.9 659.50,1109.8 659.56,1109.8 659.60,1109.8 659.64,1109.8 659.72,1110.1 659.80,1110.4 659.88,1110.2 659.96,1110.3 660.04,1110.4 660.10,1110.5 660.12,1110.5 660.20,1113.9 660.28,1114.8 660.36,1115.8 660.40,1116.4 660.44,1116.9 660.52,1111.7 660.60,1111.9 660.68,1112.1 660.70,1112.2 660.76,1120.4 660.84,1121.6 660.92,1122.9 661.00,1124.2 661.08,1114.5 661.16,1115.2 661.24,1115.9 661.30,1116.5 661.32,1116.7 661.40,1130.8 661.48,1132.1 661.56,1133.4 661.60,1134.0 661.64,1134.6 661.72,1122.7 661.80,1123.5 661.88,1124.3 661.90,1124.5 661.96,1135.7 662.04,1136.6 662.12,1137.4 662.20,1138.1 662.28,1130.9 662.36,1131.5 662.44,1132.2 662.50,1132.7 662.52,1132.9 662.60,1147.3 662.68,1148.0 662.76,1148.7 662.80,1149.0 662.84,1149.3 662.92,1134.4 663.00,1134.9 663.08,1135.5 663.10,1135.6 663.16,1157.2 663.24,1157.7 663.32,1158.2 663.40,1158.7 663.48,1139.2 663.56,1139.6 663.64,1140.0 663.70,1140.3 663.72,1140.4 663.80,1154.6 663.88,1154.9 663.96,1155.3 664.00,1155.5 664.04,1155.6 664.12,1140.5 664.20,1140.8 664.28,1141.1 664.30,1141.2 664.36,1152.8 664.44,1153.1 664.52,1153.4 664.60,1153.6 664.68,1140.9 664.76,1141.1 664.84,1141.4 664.90,1141.6 664.92,1141.6 665.00,1155.9 665.08,1156.2 665.16,1156.4 665.20,1156.5 665.24,1156.6 665.32,1144.5 665.40,1144.7 665.48,1144.9 665.50,1145.0"/></g>
<g fill="#000">
<rect x="63.70" y="5.00" width="603.65" height="3.6"/>
<rect x="63.70" y="414.50" width="603.65" height="3.6"/>
<rect x="63.70" y="823.90" width="603.65" height="3.6"/>
<rect x="63.70" y="1237.00" width="603.65" height="3.6"/>
<rect x="106.66" y="416.30" width="3.4" height="4.50"/>
<rect x="149.41" y="416.30" width="3.6" height="10.00"/>
<rect x="192.37" y="416.30" width="3.4" height="4.50"/>
<rect x="235.13" y="416.30" width="3.6" height="10.00"/>
<rect x="278.09" y="416.30" width="3.4" height="4.50"/>
<rect x="320.84" y="416.30" width="3.6" height="10.00"/>
<rect x="363.80" y="416.30" width="3.4" height="4.50"/>
<rect x="406.56" y="416.30" width="3.6" height="10.00"/>
<rect x="449.51" y="416.30" width="3.4" height="4.50"/>
<rect x="492.27" y="416.30" width="3.6" height="10.00"/>
<rect x="535.23" y="416.30" width="3.4" height="4.50"/>
<rect x="577.99" y="416.30" width="3.6" height="10.00"/>
<rect x="620.94" y="416.30" width="3.4" height="4.50"/>
<rect x="106.66" y="825.70" width="3.4" height="4.50"/>
<rect x="149.41" y="825.70" width="3.6" height="10.00"/>
<rect x="192.37" y="825.70" width="3.4" height="4.50"/>
<rect x="235.13" y="825.70" width="3.6" height="10.00"/>
<rect x="278.09" y="825.70" width="3.4" height="4.50"/>
<rect x="320.84" y="825.70" width="3.6" height="10.00"/>
<rect x="363.80" y="825.70" width="3.4" height="4.50"/>
<rect x="406.56" y="825.70" width="3.6" height="10.00"/>
<rect x="449.51" y="825.70" width="3.4" height="4.50"/>
<rect x="492.27" y="825.70" width="3.6" height="10.00"/>
<rect x="535.23" y="825.70" width="3.4" height="4.50"/>
<rect x="577.99" y="825.70" width="3.6" height="10.00"/>
<rect x="620.94" y="825.70" width="3.4" height="4.50"/>
<rect x="106.66" y="1238.80" width="3.4" height="4.50"/>
<rect x="149.41" y="1238.80" width="3.6" height="10.00"/>
<rect x="192.37" y="1238.80" width="3.4" height="4.50"/>
<rect x="235.13" y="1238.80" width="3.6" height="10.00"/>
<rect x="278.09" y="1238.80" width="3.4" height="4.50"/>
<rect x="320.84" y="1238.80" width="3.6" height="10.00"/>
<rect x="363.80" y="1238.80" width="3.4" height="4.50"/>
<rect x="406.56" y="1238.80" width="3.6" height="10.00"/>
<rect x="449.51" y="1238.80" width="3.4" height="4.50"/>
<rect x="492.27" y="1238.80" width="3.6" height="10.00"/>
<rect x="535.23" y="1238.80" width="3.4" height="4.50"/>
<rect x="577.99" y="1238.80" width="3.6" height="10.00"/>
<rect x="620.94" y="1238.80" width="3.4" height="4.50"/>
</g>
<rect x="215" y="451.2" width="330" height="49.6" fill="#fff"/>
<rect x="170" y="854.5" width="380" height="49.6" fill="#fff"/>
<line x1="378" y1="35.9" x2="453.9" y2="35.9" stroke="#000" stroke-width="4" stroke-linecap="round"/>
<line x1="223" y1="476.5" x2="299.2" y2="476.5" stroke="#2540f0" stroke-width="4" stroke-linecap="round"/>
<line x1="177.5" y1="878.7" x2="253.3" y2="878.7" stroke="#e60f14" stroke-width="4" stroke-linecap="round"/>
</svg>
<div class="t tick" style="left:66.1px">10</div>
<div class="t tick" style="left:151.8px">20</div>
<div class="t tick" style="left:237.5px">30</div>
<div class="t tick" style="left:323.2px">40</div>
<div class="t tick" style="left:409.0px">50</div>
<div class="t tick" style="left:494.7px">60</div>
<div class="t tick" style="left:580.4px">70</div>
<div class="t tick" style="left:666.1px">80</div>
<div class="t" style="left:313px;top:1294.5px;font-size:33px"><b>2</b></div>
<div class="t" style="left:328.6px;top:1294.5px;font-size:35px;transform-origin:0 50%;transform:scaleX(1.13)"><i>&theta;</i></div>
<div class="t" style="left:357.4px;top:1292.6px;font-size:34.5px">(</div>
<div class="t" style="left:367.6px;top:1290.8px;font-size:36px;font-weight:bold">&ordm;</div>
<div class="t" style="left:383.4px;top:1292.6px;font-size:34.5px">)</div>
<div class="t leg" style="left:463px;top:19.9px">Nickel Foam</div>
<div class="t leg" style="left:307.3px;top:459.6px;font-size:33.55px">Carbonized PAN</div>
<div class="t leg" style="left:261px;top:861.9px;font-size:33.35px">Carbonized CB:PAN</div>
<div class="t pl" style="left:79.2px;top:9px">(a)</div>
<div class="t pl" style="left:80.3px;top:436.7px">(b)</div>
<div class="t pl" style="left:78.1px;top:846.7px">(c)</div>
<div class="t yl" style="left:2px;top:350px">Intensity (Arb. u.)</div>
<div class="t yl" style="left:6px;top:731px">Intensity (Arb. u.)</div>
<div class="t yl" style="left:6px;top:1172.5px">Intensity (Arb. u.)</div>
</body></html>
